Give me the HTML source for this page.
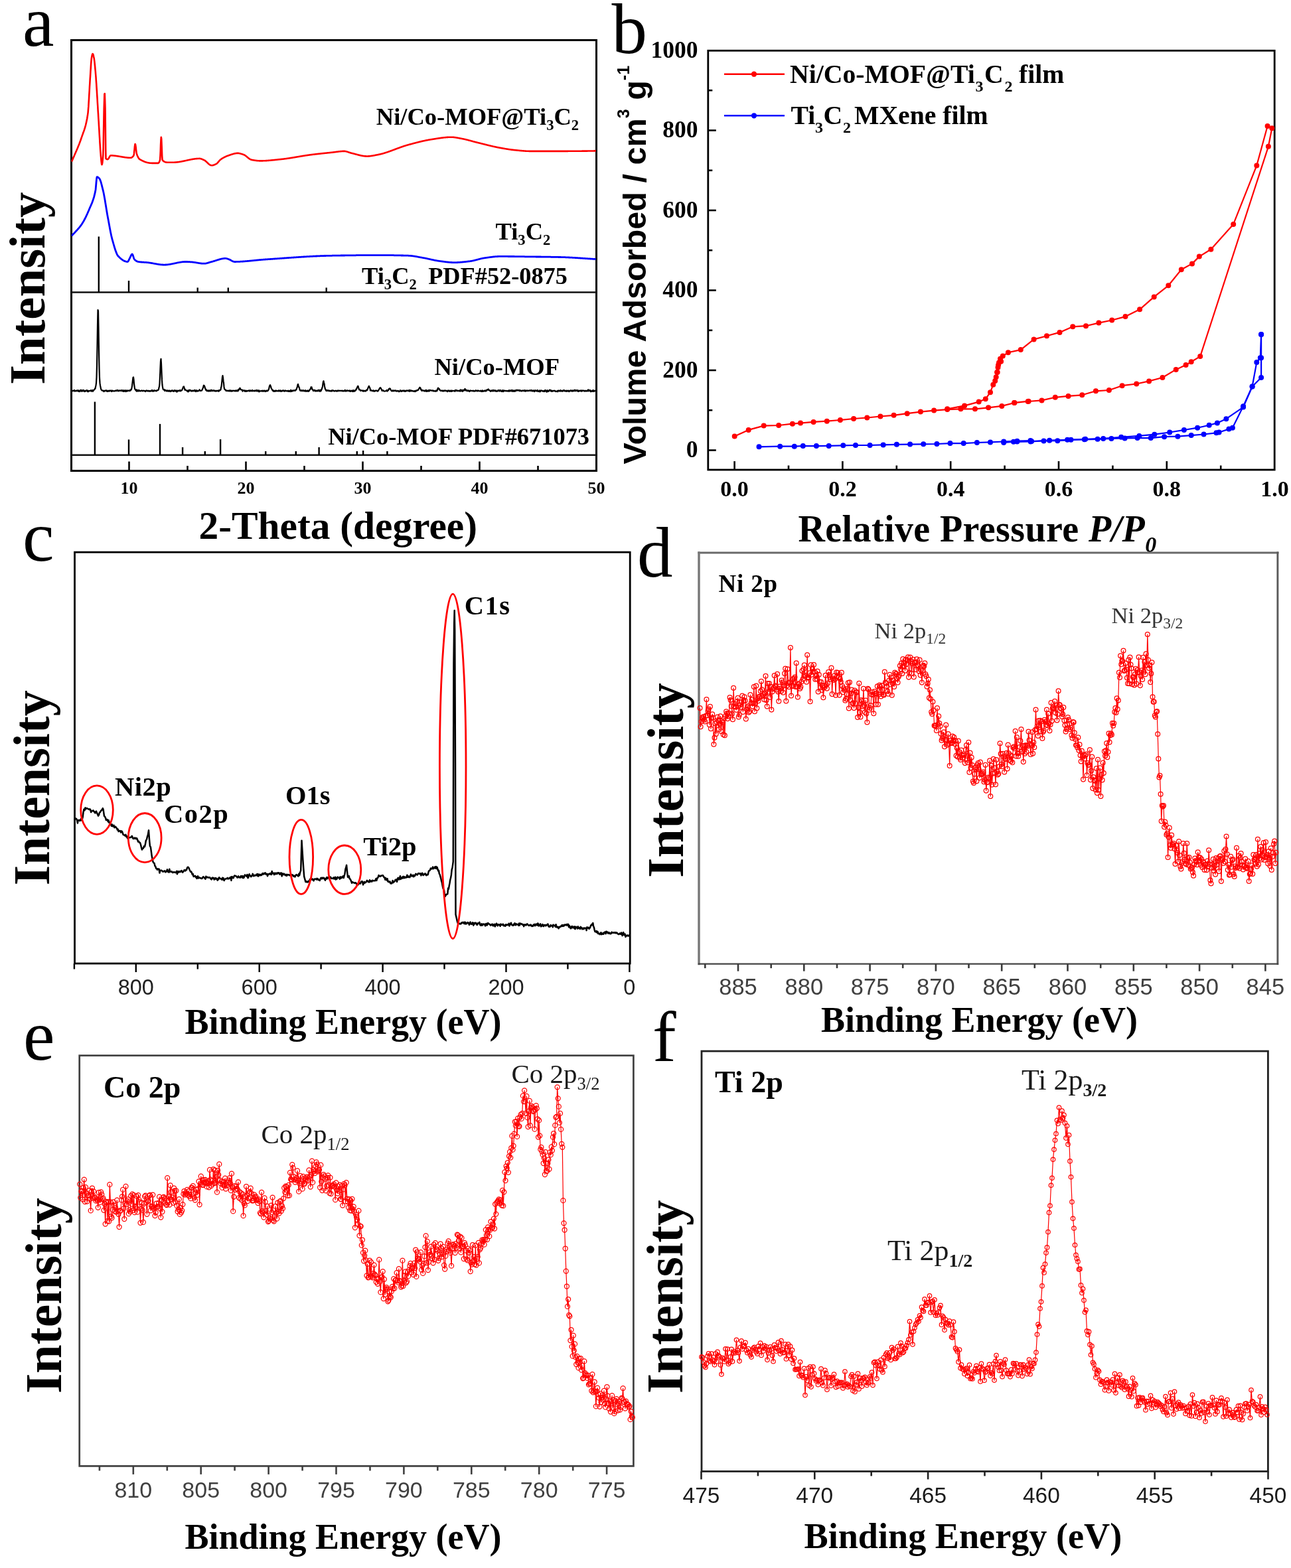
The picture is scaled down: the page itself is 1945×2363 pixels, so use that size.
<!DOCTYPE html>
<html><head><meta charset="utf-8"><title>Figure</title>
<style>html,body{margin:0;padding:0;background:#fff;}svg{display:block;}</style></head>
<body><svg width="1945" height="2363" viewBox="0 0 1945 2363">
<rect width="1945" height="2363" fill="#fff"/>
<text x="34.0" y="69.0" font-family="'Liberation Serif','Times New Roman',serif" font-size="107" font-weight="normal" text-anchor="start" fill="#000" >a</text>
<text x="921.5" y="80.0" font-family="'Liberation Serif','Times New Roman',serif" font-size="107" font-weight="normal" text-anchor="start" fill="#000" >b</text>
<text x="34.0" y="845.0" font-family="'Liberation Serif','Times New Roman',serif" font-size="107" font-weight="normal" text-anchor="start" fill="#000" >c</text>
<text x="960.0" y="869.0" font-family="'Liberation Serif','Times New Roman',serif" font-size="107" font-weight="normal" text-anchor="start" fill="#000" >d</text>
<text x="35.0" y="1597.0" font-family="'Liberation Serif','Times New Roman',serif" font-size="107" font-weight="normal" text-anchor="start" fill="#000" >e</text>
<text x="983.0" y="1599.0" font-family="'Liberation Serif','Times New Roman',serif" font-size="107" font-weight="normal" text-anchor="start" fill="#000" >f</text>
<rect x="107.5" y="60.5" width="791.0" height="649.0" fill="none" stroke="#000" stroke-width="3"/>
<line x1="107.5" y1="440.5" x2="898.5" y2="440.5" stroke="#111" stroke-width="2.4"/>
<line x1="107.5" y1="685.8" x2="898.5" y2="685.8" stroke="#111" stroke-width="2.4"/>
<line x1="194.5" y1="709.5" x2="194.5" y2="695.5" stroke="#000" stroke-width="2.6"/>
<line x1="282.5" y1="709.5" x2="282.5" y2="702.0" stroke="#000" stroke-width="2.6"/>
<line x1="370.5" y1="709.5" x2="370.5" y2="695.5" stroke="#000" stroke-width="2.6"/>
<line x1="458.5" y1="709.5" x2="458.5" y2="702.0" stroke="#000" stroke-width="2.6"/>
<line x1="546.5" y1="709.5" x2="546.5" y2="695.5" stroke="#000" stroke-width="2.6"/>
<line x1="634.5" y1="709.5" x2="634.5" y2="702.0" stroke="#000" stroke-width="2.6"/>
<line x1="722.5" y1="709.5" x2="722.5" y2="695.5" stroke="#000" stroke-width="2.6"/>
<line x1="810.5" y1="709.5" x2="810.5" y2="702.0" stroke="#000" stroke-width="2.6"/>
<text x="194.5" y="743.5" font-family="'Liberation Serif','Times New Roman',serif" font-size="26" font-weight="bold" text-anchor="middle" fill="#000" >10</text>
<text x="370.5" y="743.5" font-family="'Liberation Serif','Times New Roman',serif" font-size="26" font-weight="bold" text-anchor="middle" fill="#000" >20</text>
<text x="546.5" y="743.5" font-family="'Liberation Serif','Times New Roman',serif" font-size="26" font-weight="bold" text-anchor="middle" fill="#000" >30</text>
<text x="722.5" y="743.5" font-family="'Liberation Serif','Times New Roman',serif" font-size="26" font-weight="bold" text-anchor="middle" fill="#000" >40</text>
<text x="898.5" y="743.5" font-family="'Liberation Serif','Times New Roman',serif" font-size="26" font-weight="bold" text-anchor="middle" fill="#000" >50</text>
<text x="299.5" y="811.5" font-family="'Liberation Serif','Times New Roman',serif" font-size="59.4" font-weight="bold" text-anchor="start" fill="#000" >2-Theta (degree)</text>
<text transform="translate(66.7,579.8) rotate(-90)" font-family="'Liberation Serif','Times New Roman',serif" font-size="76.8" font-weight="bold" fill="#000" >Intensity</text>
<polyline points="108.1,243.5 108.4,242.7 108.8,241.8 109.1,241.0 109.5,240.2 109.8,239.3 110.2,238.5 110.5,237.7 110.9,236.9 111.2,236.1 111.6,235.3 111.9,234.5 112.3,233.7 112.6,232.9 113.0,232.1 113.3,231.3 113.7,230.5 114.0,229.7 114.4,228.9 114.7,228.1 115.1,227.3 115.4,226.5 115.8,225.7 116.1,224.9 116.5,224.0 116.8,223.2 117.2,222.4 117.5,221.5 117.9,220.7 118.2,219.8 118.6,218.9 118.9,218.1 119.3,217.2 119.6,216.3 120.0,215.3 120.3,214.4 120.7,213.5 121.0,212.5 121.4,211.6 121.7,210.6 122.1,209.6 122.4,208.5 122.8,207.5 123.1,206.5 123.5,205.4 123.8,204.4 124.2,203.4 124.5,202.5 124.9,201.5 125.2,200.6 125.6,199.6 125.9,198.7 126.3,197.7 126.6,196.7 127.0,195.7 127.3,194.6 127.7,193.5 128.0,192.4 128.4,191.2 128.7,189.9 129.1,188.6 129.4,187.1 129.8,185.7 130.1,184.1 130.5,182.4 130.8,180.6 131.2,178.8 131.5,176.8 131.9,174.6 132.2,172.4 132.6,169.6 132.9,165.7 133.3,160.9 133.6,155.4 134.0,149.4 134.3,143.2 134.7,136.8 135.0,130.5 135.4,124.6 135.7,119.1 136.1,113.7 136.4,107.9 136.8,102.0 137.1,96.6 137.5,91.8 137.8,88.3 138.2,86.1 138.5,84.3 138.9,82.7 139.2,81.6 139.6,81.1 139.9,81.3 140.3,82.0 140.6,83.2 141.0,84.6 141.3,86.1 141.7,87.8 142.0,90.1 142.4,93.0 142.7,96.2 143.1,99.8 143.4,103.6 143.8,107.4 144.1,111.5 144.5,116.0 144.8,120.8 145.2,126.0 145.5,131.4 145.9,137.0 146.2,142.8 146.6,148.7 146.9,154.6 147.3,160.5 147.6,166.4 148.0,172.2 148.3,177.9 148.7,183.5 149.0,189.5 149.4,195.6 149.7,201.8 150.1,208.0 150.4,214.0 150.8,219.7 151.1,225.0 151.5,229.8 151.8,234.0 152.2,238.0 152.5,242.0 152.9,245.4 153.2,247.6 153.6,248.1 153.9,247.2 154.3,245.2 154.6,242.3 155.0,238.6 155.3,234.1 155.7,222.2 156.0,202.0 156.4,180.3 156.7,164.1 157.1,151.2 157.4,141.6 157.8,141.0 158.1,149.4 158.5,162.7 158.8,187.9 159.2,224.7 159.5,239.0 159.9,239.3 160.2,239.6 160.6,239.7 160.9,239.9 161.3,240.0 161.6,240.1 162.0,240.1 162.3,240.1 162.7,239.9 163.0,239.6 163.4,239.2 163.7,238.7 164.1,238.0 164.4,237.4 164.8,236.7 165.1,236.1 165.5,235.5 165.8,235.0 166.2,234.6 166.5,234.4 166.9,234.3 167.2,234.3 167.6,234.3 167.9,234.3 168.3,234.4 168.6,234.4 169.0,234.4 169.3,234.4 169.7,234.4 170.0,234.4 170.4,234.5 170.7,234.5 171.1,234.5 171.4,234.6 171.8,234.6 172.1,234.6 172.5,234.7 172.8,234.7 173.2,234.7 173.5,234.8 173.9,234.8 174.2,234.9 174.6,234.9 174.9,235.0 175.3,235.0 175.6,235.1 176.0,235.1 176.3,235.2 176.7,235.2 177.0,235.3 177.4,235.3 177.7,235.4 178.1,235.4 178.4,235.5 178.8,235.5 179.1,235.6 179.5,235.7 179.8,235.7 180.2,235.8 180.5,235.8 180.9,235.9 181.2,236.0 181.6,236.0 181.9,236.1 182.3,236.1 182.6,236.2 183.0,236.3 183.3,236.3 183.7,236.4 184.0,236.4 184.4,236.5 184.7,236.6 185.1,236.6 185.4,236.7 185.8,236.7 186.1,236.8 186.5,236.8 186.8,236.9 187.2,236.9 187.5,237.0 187.9,237.1 188.2,237.1 188.6,237.2 188.9,237.2 189.3,237.2 189.6,237.3 190.0,237.3 190.3,237.4 190.7,237.4 191.0,237.5 191.4,237.5 191.7,237.5 192.1,237.6 192.4,237.6 192.8,237.6 193.1,237.6 193.5,237.7 193.8,237.7 194.2,237.7 194.5,237.7 194.9,237.7 195.2,237.8 195.6,237.8 195.9,237.8 196.3,237.8 196.6,237.8 197.0,237.8 197.3,237.7 197.7,237.7 198.0,237.5 198.4,237.4 198.7,237.2 199.1,236.9 199.4,236.7 199.8,236.3 200.1,236.0 200.5,235.6 200.8,235.1 201.2,234.7 201.5,234.0 201.9,231.9 202.2,228.7 202.6,224.9 202.9,221.3 203.3,218.5 203.6,217.1 204.0,217.6 204.3,219.4 204.7,222.1 205.0,225.3 205.4,228.3 205.7,230.8 206.1,232.2 206.4,233.2 206.8,234.1 207.1,235.0 207.5,235.8 207.8,236.5 208.2,237.2 208.5,237.8 208.9,238.3 209.2,238.8 209.6,239.2 209.9,239.6 210.3,239.9 210.6,240.1 211.0,240.3 211.3,240.5 211.7,240.7 212.0,240.9 212.4,241.1 212.7,241.3 213.1,241.5 213.4,241.7 213.8,241.9 214.1,242.1 214.5,242.2 214.8,242.4 215.2,242.6 215.5,242.7 215.9,242.9 216.2,243.0 216.6,243.2 216.9,243.3 217.3,243.5 217.6,243.6 218.0,243.8 218.3,243.9 218.7,244.0 219.0,244.1 219.4,244.2 219.7,244.4 220.1,244.5 220.4,244.6 220.8,244.7 221.1,244.8 221.5,244.9 221.8,245.0 222.2,245.0 222.5,245.1 222.9,245.2 223.2,245.3 223.6,245.3 223.9,245.4 224.3,245.5 224.6,245.5 225.0,245.6 225.3,245.6 225.7,245.7 226.0,245.7 226.4,245.7 226.7,245.8 227.1,245.8 227.4,245.8 227.8,245.8 228.1,245.8 228.5,245.8 228.8,245.9 229.2,245.9 229.5,245.9 229.9,245.9 230.2,245.9 230.6,245.9 230.9,245.9 231.3,245.9 231.6,245.9 232.0,245.9 232.3,245.9 232.7,245.9 233.0,245.9 233.4,245.9 233.7,245.9 234.1,245.9 234.4,245.9 234.8,245.9 235.1,245.9 235.5,245.9 235.8,245.9 236.2,245.9 236.5,245.9 236.9,245.9 237.2,245.9 237.6,245.9 237.9,245.9 238.3,245.9 238.6,245.8 239.0,245.5 239.3,245.1 239.7,244.6 240.0,243.9 240.4,243.1 240.7,242.2 241.1,241.0 241.4,236.3 241.8,227.9 242.1,218.4 242.5,210.5 242.8,206.7 243.2,209.2 243.5,216.6 243.9,226.1 244.2,235.0 244.6,240.6 244.9,241.5 245.3,241.8 245.6,242.2 246.0,242.5 246.3,242.8 246.7,243.0 247.0,243.3 247.4,243.5 247.7,243.7 248.1,243.9 248.4,244.0 248.8,244.2 249.1,244.3 249.5,244.4 249.8,244.5 250.2,244.5 250.5,244.6 250.9,244.6 251.2,244.7 251.6,244.7 251.9,244.7 252.3,244.7 252.6,244.7 253.0,244.7 253.3,244.7 253.7,244.7 254.0,244.7 254.4,244.7 254.7,244.7 255.1,244.7 255.4,244.7 255.8,244.7 256.1,244.7 256.5,244.7 256.8,244.7 257.2,244.7 257.5,244.7 257.9,244.7 258.2,244.7 258.6,244.7 258.9,244.7 259.3,244.7 259.6,244.7 260.0,244.7 260.3,244.7 260.7,244.7 261.0,244.7 261.4,244.7 261.7,244.7 262.1,244.7 262.4,244.7 262.8,244.7 263.1,244.7 263.5,244.6 263.8,244.6 264.2,244.6 264.5,244.6 264.9,244.6 265.2,244.5 265.6,244.5 265.9,244.5 266.3,244.4 266.6,244.4 267.0,244.4 267.3,244.3 267.7,244.3 268.0,244.2 268.4,244.2 268.7,244.2 269.1,244.1 269.4,244.1 269.8,244.0 270.1,244.0 270.5,243.9 270.8,243.8 271.2,243.8 271.5,243.7 271.9,243.7 272.2,243.6 272.6,243.5 272.9,243.5 273.3,243.4 273.6,243.3 274.0,243.3 274.3,243.2 274.7,243.1 275.0,243.1 275.4,243.0 275.7,242.9 276.1,242.9 276.4,242.8 276.8,242.7 277.1,242.6 277.5,242.6 277.8,242.5 278.2,242.4 278.5,242.3 278.9,242.3 279.2,242.2 279.6,242.1 279.9,242.0 280.3,242.0 280.6,241.9 281.0,241.8 281.3,241.7 281.7,241.6 282.0,241.6 282.4,241.5 282.7,241.4 283.1,241.3 283.4,241.3 283.8,241.2 284.1,241.1 284.5,241.0 284.8,241.0 285.2,240.9 285.5,240.8 285.9,240.7 286.2,240.7 286.6,240.6 286.9,240.5 287.3,240.5 287.6,240.4 288.0,240.3 288.3,240.3 288.7,240.2 289.0,240.1 289.4,240.1 289.7,240.0 290.1,239.9 290.4,239.9 290.8,239.8 291.1,239.8 291.5,239.7 291.8,239.7 292.2,239.6 292.5,239.6 292.9,239.5 293.2,239.5 293.6,239.4 293.9,239.4 294.3,239.3 294.6,239.3 295.0,239.2 295.3,239.2 295.7,239.2 296.0,239.1 296.4,239.1 296.7,239.1 297.1,239.1 297.4,239.0 297.8,239.0 298.1,239.0 298.5,239.0 298.8,239.0 299.2,239.0 299.5,239.0 299.9,238.9 300.2,238.9 300.6,238.9 300.9,239.0 301.3,239.0 301.6,239.0 302.0,239.1 302.3,239.2 302.7,239.3 303.0,239.4 303.4,239.5 303.7,239.6 304.1,239.8 304.4,239.9 304.8,240.1 305.1,240.2 305.5,240.4 305.8,240.5 306.2,240.7 306.5,240.9 306.9,241.0 307.2,241.2 307.6,241.3 307.9,241.5 308.3,241.7 308.6,241.9 309.0,242.2 309.3,242.4 309.7,242.7 310.0,243.0 310.4,243.3 310.7,243.6 311.1,243.9 311.4,244.3 311.8,244.6 312.1,244.9 312.5,245.3 312.8,245.6 313.2,245.9 313.5,246.3 313.9,246.6 314.2,246.9 314.6,247.2 314.9,247.5 315.3,247.8 315.6,248.0 316.0,248.3 316.3,248.5 316.7,248.7 317.0,248.8 317.4,249.0 317.7,249.1 318.1,249.2 318.4,249.3 318.8,249.3 319.1,249.3 319.5,249.3 319.8,249.3 320.2,249.2 320.5,249.1 320.9,249.1 321.2,249.0 321.6,248.9 321.9,248.7 322.3,248.6 322.6,248.5 323.0,248.3 323.3,248.2 323.7,248.0 324.0,247.9 324.4,247.7 324.7,247.5 325.1,247.4 325.4,247.2 325.8,247.0 326.1,246.8 326.5,246.6 326.8,246.3 327.2,246.0 327.5,245.7 327.9,245.3 328.2,244.9 328.6,244.5 328.9,244.1 329.3,243.7 329.6,243.3 330.0,242.9 330.3,242.4 330.7,242.0 331.0,241.7 331.4,241.3 331.7,240.9 332.1,240.6 332.4,240.3 332.8,240.1 333.1,239.8 333.5,239.6 333.8,239.4 334.2,239.1 334.5,238.9 334.9,238.7 335.2,238.5 335.6,238.3 335.9,238.1 336.3,237.9 336.6,237.7 337.0,237.5 337.3,237.3 337.7,237.1 338.0,236.9 338.4,236.8 338.7,236.6 339.1,236.4 339.4,236.3 339.8,236.1 340.1,235.9 340.5,235.8 340.8,235.6 341.2,235.5 341.5,235.3 341.9,235.2 342.2,235.1 342.6,234.9 342.9,234.8 343.3,234.7 343.6,234.5 344.0,234.4 344.3,234.3 344.7,234.2 345.0,234.1 345.4,233.9 345.7,233.8 346.1,233.7 346.4,233.6 346.8,233.5 347.1,233.3 347.5,233.2 347.8,233.1 348.2,233.0 348.5,232.9 348.9,232.7 349.2,232.6 349.6,232.5 349.9,232.4 350.3,232.3 350.6,232.2 351.0,232.1 351.3,232.0 351.7,231.9 352.0,231.8 352.4,231.7 352.7,231.6 353.1,231.5 353.4,231.4 353.8,231.4 354.1,231.3 354.5,231.2 354.8,231.2 355.2,231.1 355.5,231.1 355.9,231.0 356.2,231.0 356.6,230.9 356.9,230.9 357.3,230.9 357.6,230.9 358.0,230.9 358.3,230.9 358.7,230.9 359.0,230.9 359.4,230.9 359.7,231.0 360.1,231.0 360.4,231.1 360.8,231.2 361.1,231.2 361.5,231.3 361.8,231.4 362.2,231.5 362.5,231.6 362.9,231.7 363.2,231.8 363.6,231.9 363.9,232.0 364.3,232.1 364.6,232.2 365.0,232.4 365.3,232.5 365.7,232.6 366.0,232.7 366.4,232.9 366.7,233.0 367.1,233.1 367.4,233.2 367.8,233.4 368.1,233.5 368.5,233.7 368.8,233.9 369.2,234.1 369.5,234.4 369.9,234.6 370.2,234.9 370.6,235.1 370.9,235.4 371.3,235.7 371.6,236.0 372.0,236.3 372.3,236.6 372.7,236.9 373.0,237.2 373.4,237.5 373.7,237.8 374.1,238.1 374.4,238.3 374.8,238.6 375.1,238.9 375.5,239.1 375.8,239.4 376.2,239.6 376.5,239.8 376.9,240.0 377.2,240.2 377.6,240.4 377.9,240.5 378.3,240.6 378.6,240.7 379.0,240.8 379.3,240.9 379.7,241.0 380.0,241.0 380.4,241.1 380.7,241.2 381.1,241.2 381.4,241.3 381.8,241.3 382.1,241.4 382.5,241.5 382.8,241.5 383.2,241.6 383.5,241.6 383.9,241.7 384.2,241.7 384.6,241.8 384.9,241.8 385.3,241.9 385.6,241.9 386.0,242.0 386.3,242.0 386.7,242.1 387.0,242.1 387.4,242.1 387.7,242.2 388.1,242.2 388.4,242.2 388.8,242.2 389.1,242.3 389.5,242.3 389.8,242.3 390.2,242.3 390.5,242.4 390.9,242.4 391.2,242.4 391.6,242.4 391.9,242.4 392.3,242.4 392.6,242.4 393.0,242.4 393.3,242.4 393.7,242.4 394.0,242.4 394.4,242.4 394.7,242.4 395.1,242.4 395.4,242.4 395.8,242.4 396.1,242.3 396.5,242.3 396.8,242.3 397.2,242.3 397.5,242.3 397.9,242.3 398.2,242.3 398.6,242.3 398.9,242.2 399.3,242.2 399.6,242.2 400.0,242.2 400.3,242.2 400.7,242.1 401.0,242.1 401.4,242.1 401.7,242.1 402.1,242.1 402.4,242.0 402.8,242.0 403.1,242.0 403.5,242.0 403.8,241.9 404.2,241.9 404.5,241.9 404.9,241.9 405.2,241.8 405.6,241.8 405.9,241.8 406.3,241.7 406.6,241.7 407.0,241.7 407.3,241.6 407.7,241.6 408.0,241.6 408.4,241.5 408.7,241.5 409.1,241.5 409.4,241.4 409.8,241.4 410.1,241.4 410.5,241.3 410.8,241.3 411.2,241.3 411.5,241.2 411.9,241.2 412.2,241.2 412.6,241.1 412.9,241.1 413.3,241.1 413.6,241.0 414.0,241.0 414.3,241.0 414.7,240.9 415.0,240.9 415.4,240.8 415.7,240.8 416.1,240.8 416.4,240.7 416.8,240.7 417.1,240.7 417.5,240.6 417.8,240.6 418.2,240.5 418.5,240.5 418.9,240.5 419.2,240.4 419.6,240.4 419.9,240.4 420.3,240.3 420.6,240.3 421.0,240.3 421.3,240.2 421.7,240.2 422.0,240.1 422.4,240.1 422.7,240.1 423.1,240.0 423.4,240.0 423.8,240.0 424.1,239.9 424.5,239.9 424.8,239.9 425.2,239.8 425.5,239.8 425.9,239.7 426.2,239.7 426.6,239.7 426.9,239.6 427.3,239.6 427.6,239.5 428.0,239.5 428.3,239.4 428.7,239.4 429.0,239.3 429.4,239.3 429.7,239.3 430.1,239.2 430.4,239.2 430.8,239.1 431.1,239.1 431.5,239.0 431.8,239.0 432.2,238.9 432.5,238.9 432.9,238.8 433.2,238.8 433.6,238.7 433.9,238.7 434.3,238.6 434.6,238.6 435.0,238.5 435.3,238.5 435.7,238.4 436.0,238.4 436.4,238.3 436.7,238.2 437.1,238.2 437.4,238.1 437.8,238.1 438.1,238.0 438.5,238.0 438.8,237.9 439.2,237.9 439.5,237.8 439.9,237.7 440.2,237.7 440.6,237.6 440.9,237.6 441.3,237.5 441.6,237.5 442.0,237.4 442.3,237.3 442.7,237.3 443.0,237.2 443.4,237.2 443.7,237.1 444.1,237.1 444.4,237.0 444.8,236.9 445.1,236.9 445.5,236.8 445.8,236.8 446.2,236.7 446.5,236.6 446.9,236.6 447.2,236.5 447.6,236.5 447.9,236.4 448.3,236.3 448.6,236.3 449.0,236.2 449.3,236.2 449.7,236.1 450.0,236.0 450.4,236.0 450.7,235.9 451.1,235.9 451.4,235.8 451.8,235.7 452.1,235.7 452.5,235.6 452.8,235.6 453.2,235.5 453.5,235.5 453.9,235.4 454.2,235.3 454.6,235.3 454.9,235.2 455.3,235.2 455.6,235.1 456.0,235.1 456.3,235.0 456.7,234.9 457.0,234.9 457.4,234.8 457.7,234.8 458.1,234.7 458.4,234.7 458.8,234.6 459.1,234.5 459.5,234.5 459.8,234.4 460.2,234.4 460.5,234.3 460.9,234.3 461.2,234.2 461.6,234.2 461.9,234.1 462.3,234.1 462.6,234.0 463.0,234.0 463.3,233.9 463.7,233.9 464.0,233.8 464.4,233.8 464.7,233.7 465.1,233.7 465.4,233.6 465.8,233.6 466.1,233.5 466.5,233.5 466.8,233.4 467.2,233.4 467.5,233.3 467.9,233.3 468.2,233.2 468.6,233.2 468.9,233.1 469.3,233.1 469.6,233.1 470.0,233.0 470.3,233.0 470.7,232.9 471.0,232.9 471.4,232.8 471.7,232.8 472.1,232.8 472.4,232.7 472.8,232.7 473.1,232.6 473.5,232.6 473.8,232.6 474.2,232.5 474.5,232.5 474.9,232.4 475.2,232.4 475.6,232.3 475.9,232.3 476.3,232.3 476.6,232.2 477.0,232.2 477.3,232.1 477.7,232.1 478.0,232.1 478.4,232.0 478.7,232.0 479.1,231.9 479.4,231.9 479.8,231.9 480.1,231.8 480.5,231.8 480.8,231.8 481.2,231.7 481.5,231.7 481.9,231.6 482.2,231.6 482.6,231.6 482.9,231.5 483.3,231.5 483.6,231.4 484.0,231.4 484.3,231.4 484.7,231.3 485.0,231.3 485.4,231.3 485.7,231.2 486.1,231.2 486.4,231.1 486.8,231.1 487.1,231.1 487.5,231.0 487.8,231.0 488.2,231.0 488.5,230.9 488.9,230.9 489.2,230.8 489.6,230.8 489.9,230.8 490.3,230.7 490.6,230.7 491.0,230.7 491.3,230.6 491.7,230.6 492.0,230.6 492.4,230.5 492.7,230.5 493.1,230.4 493.4,230.4 493.8,230.4 494.1,230.3 494.5,230.3 494.8,230.3 495.2,230.2 495.5,230.2 495.9,230.2 496.2,230.1 496.6,230.1 496.9,230.0 497.3,230.0 497.6,230.0 498.0,229.9 498.3,229.9 498.7,229.9 499.0,229.8 499.4,229.8 499.7,229.8 500.1,229.7 500.4,229.7 500.8,229.6 501.1,229.6 501.5,229.6 501.8,229.5 502.2,229.5 502.5,229.4 502.9,229.4 503.2,229.3 503.6,229.3 503.9,229.3 504.3,229.2 504.6,229.2 505.0,229.1 505.3,229.1 505.7,229.0 506.0,229.0 506.4,228.9 506.7,228.9 507.1,228.8 507.4,228.8 507.8,228.7 508.1,228.7 508.5,228.7 508.8,228.6 509.2,228.6 509.5,228.5 509.9,228.5 510.2,228.4 510.6,228.4 510.9,228.4 511.3,228.3 511.6,228.3 512.0,228.2 512.3,228.2 512.7,228.2 513.0,228.1 513.4,228.1 513.7,228.1 514.1,228.1 514.4,228.0 514.8,228.0 515.1,228.0 515.5,228.0 515.8,227.9 516.2,227.9 516.5,227.9 516.9,227.9 517.2,227.9 517.6,227.9 517.9,227.9 518.3,227.9 518.6,227.9 519.0,227.9 519.3,227.9 519.7,227.9 520.0,228.0 520.4,228.0 520.7,228.1 521.1,228.2 521.4,228.2 521.8,228.3 522.1,228.4 522.5,228.5 522.8,228.6 523.2,228.7 523.5,228.8 523.9,228.9 524.2,229.1 524.6,229.2 524.9,229.3 525.3,229.4 525.6,229.5 526.0,229.7 526.3,229.8 526.7,229.9 527.0,230.0 527.4,230.1 527.7,230.2 528.1,230.4 528.4,230.5 528.8,230.6 529.1,230.7 529.5,230.8 529.8,230.8 530.2,230.9 530.5,231.0 530.9,231.1 531.2,231.2 531.6,231.3 531.9,231.3 532.3,231.4 532.6,231.5 533.0,231.6 533.3,231.7 533.7,231.8 534.0,231.9 534.4,232.0 534.7,232.1 535.1,232.2 535.4,232.3 535.8,232.4 536.1,232.4 536.5,232.5 536.8,232.6 537.2,232.7 537.5,232.8 537.9,232.9 538.2,233.0 538.6,233.1 538.9,233.2 539.3,233.3 539.6,233.4 540.0,233.5 540.3,233.6 540.7,233.6 541.0,233.7 541.4,233.8 541.7,233.9 542.1,234.0 542.4,234.1 542.8,234.1 543.1,234.2 543.5,234.3 543.8,234.4 544.2,234.5 544.5,234.5 544.9,234.6 545.2,234.7 545.6,234.7 545.9,234.8 546.3,234.9 546.6,234.9 547.0,235.0 547.3,235.0 547.7,235.1 548.0,235.1 548.4,235.2 548.7,235.2 549.1,235.3 549.4,235.3 549.8,235.3 550.1,235.4 550.5,235.4 550.8,235.4 551.2,235.4 551.5,235.4 551.9,235.5 552.2,235.5 552.6,235.5 552.9,235.5 553.3,235.5 553.6,235.5 554.0,235.5 554.3,235.5 554.7,235.4 555.0,235.4 555.4,235.4 555.7,235.4 556.1,235.4 556.4,235.3 556.8,235.3 557.1,235.3 557.5,235.2 557.8,235.2 558.2,235.1 558.5,235.1 558.9,235.0 559.2,235.0 559.6,234.9 559.9,234.9 560.3,234.8 560.6,234.8 561.0,234.7 561.3,234.7 561.7,234.6 562.0,234.5 562.4,234.5 562.7,234.4 563.1,234.4 563.4,234.3 563.8,234.2 564.1,234.2 564.5,234.1 564.8,234.0 565.2,233.9 565.5,233.9 565.9,233.8 566.2,233.7 566.6,233.7 566.9,233.6 567.3,233.5 567.6,233.5 568.0,233.4 568.3,233.3 568.7,233.3 569.0,233.2 569.4,233.1 569.7,233.1 570.1,233.0 570.4,232.9 570.8,232.9 571.1,232.8 571.5,232.7 571.8,232.6 572.2,232.5 572.5,232.5 572.9,232.4 573.2,232.3 573.6,232.2 573.9,232.1 574.3,232.0 574.6,232.0 575.0,231.9 575.3,231.8 575.7,231.7 576.0,231.6 576.4,231.5 576.7,231.4 577.1,231.3 577.4,231.2 577.8,231.1 578.1,231.0 578.5,230.9 578.8,230.8 579.2,230.7 579.5,230.6 579.9,230.5 580.2,230.3 580.6,230.2 580.9,230.1 581.3,230.0 581.6,229.9 582.0,229.8 582.3,229.7 582.7,229.6 583.0,229.4 583.4,229.3 583.7,229.2 584.1,229.1 584.4,229.0 584.8,228.8 585.1,228.7 585.5,228.6 585.8,228.5 586.2,228.4 586.5,228.2 586.9,228.1 587.2,228.0 587.6,227.9 587.9,227.7 588.3,227.6 588.6,227.5 589.0,227.4 589.3,227.2 589.7,227.1 590.0,227.0 590.4,226.8 590.7,226.7 591.1,226.6 591.4,226.4 591.8,226.3 592.1,226.2 592.5,226.1 592.8,225.9 593.2,225.8 593.5,225.7 593.9,225.5 594.2,225.4 594.6,225.3 594.9,225.1 595.3,225.0 595.6,224.9 596.0,224.7 596.3,224.6 596.7,224.5 597.0,224.3 597.4,224.2 597.7,224.1 598.1,224.0 598.4,223.8 598.8,223.7 599.1,223.6 599.5,223.4 599.8,223.3 600.2,223.2 600.5,223.0 600.9,222.9 601.2,222.8 601.6,222.7 601.9,222.5 602.3,222.4 602.6,222.3 603.0,222.1 603.3,222.0 603.7,221.9 604.0,221.8 604.4,221.6 604.7,221.5 605.1,221.4 605.4,221.3 605.8,221.2 606.1,221.0 606.5,220.9 606.8,220.8 607.2,220.7 607.5,220.6 607.9,220.4 608.2,220.3 608.6,220.2 608.9,220.1 609.3,220.0 609.6,219.9 610.0,219.8 610.3,219.6 610.7,219.5 611.0,219.4 611.4,219.3 611.7,219.2 612.1,219.1 612.4,219.0 612.8,218.9 613.1,218.8 613.5,218.7 613.8,218.6 614.2,218.5 614.5,218.4 614.9,218.3 615.2,218.2 615.6,218.1 615.9,218.0 616.3,217.9 616.6,217.8 617.0,217.7 617.3,217.6 617.7,217.5 618.0,217.4 618.4,217.4 618.7,217.3 619.1,217.2 619.4,217.1 619.8,217.0 620.1,216.9 620.5,216.8 620.8,216.7 621.2,216.6 621.5,216.5 621.9,216.4 622.2,216.3 622.6,216.2 622.9,216.1 623.3,216.0 623.6,215.9 624.0,215.8 624.3,215.8 624.7,215.7 625.0,215.6 625.4,215.5 625.7,215.4 626.1,215.3 626.4,215.2 626.8,215.1 627.1,215.0 627.5,214.9 627.8,214.8 628.2,214.8 628.5,214.7 628.9,214.6 629.2,214.5 629.6,214.4 629.9,214.3 630.3,214.2 630.6,214.1 631.0,214.0 631.3,214.0 631.7,213.9 632.0,213.8 632.4,213.7 632.7,213.6 633.1,213.5 633.4,213.4 633.8,213.4 634.1,213.3 634.5,213.2 634.8,213.1 635.2,213.0 635.5,212.9 635.9,212.9 636.2,212.8 636.6,212.7 636.9,212.6 637.3,212.5 637.6,212.5 638.0,212.4 638.3,212.3 638.7,212.2 639.0,212.2 639.4,212.1 639.7,212.0 640.1,211.9 640.4,211.9 640.8,211.8 641.1,211.7 641.5,211.6 641.8,211.6 642.2,211.5 642.5,211.4 642.9,211.4 643.2,211.3 643.6,211.2 643.9,211.2 644.3,211.1 644.6,211.0 645.0,211.0 645.3,210.9 645.7,210.8 646.0,210.8 646.4,210.7 646.7,210.6 647.1,210.6 647.4,210.5 647.8,210.5 648.1,210.4 648.5,210.3 648.8,210.3 649.2,210.2 649.5,210.2 649.9,210.1 650.2,210.1 650.6,210.0 650.9,210.0 651.3,209.9 651.6,209.9 652.0,209.8 652.3,209.7 652.7,209.7 653.0,209.6 653.4,209.6 653.7,209.5 654.1,209.5 654.4,209.4 654.8,209.4 655.1,209.3 655.5,209.2 655.8,209.2 656.2,209.1 656.5,209.1 656.9,209.0 657.2,209.0 657.6,208.9 657.9,208.8 658.3,208.8 658.6,208.7 659.0,208.7 659.3,208.6 659.7,208.6 660.0,208.5 660.4,208.5 660.7,208.4 661.1,208.4 661.4,208.3 661.8,208.3 662.1,208.2 662.5,208.2 662.8,208.1 663.2,208.1 663.5,208.0 663.9,208.0 664.2,207.9 664.6,207.9 664.9,207.8 665.3,207.8 665.6,207.7 666.0,207.7 666.3,207.6 666.7,207.6 667.0,207.5 667.4,207.5 667.7,207.5 668.1,207.4 668.4,207.4 668.8,207.3 669.1,207.3 669.5,207.3 669.8,207.2 670.2,207.2 670.5,207.2 670.9,207.1 671.2,207.1 671.6,207.1 671.9,207.0 672.3,207.0 672.6,207.0 673.0,206.9 673.3,206.9 673.7,206.9 674.0,206.9 674.4,206.9 674.7,206.8 675.1,206.8 675.4,206.8 675.8,206.8 676.1,206.8 676.5,206.7 676.8,206.7 677.2,206.7 677.5,206.7 677.9,206.7 678.2,206.7 678.6,206.7 678.9,206.7 679.3,206.7 679.6,206.7 680.0,206.7 680.3,206.7 680.7,206.7 681.0,206.7 681.4,206.7 681.7,206.7 682.1,206.8 682.4,206.8 682.8,206.8 683.1,206.8 683.5,206.9 683.8,206.9 684.2,207.0 684.5,207.0 684.9,207.0 685.2,207.1 685.6,207.1 685.9,207.2 686.3,207.2 686.6,207.3 687.0,207.3 687.3,207.4 687.7,207.5 688.0,207.5 688.4,207.6 688.7,207.6 689.1,207.7 689.4,207.8 689.8,207.8 690.1,207.9 690.5,208.0 690.8,208.0 691.2,208.1 691.5,208.2 691.9,208.2 692.2,208.3 692.6,208.4 692.9,208.4 693.3,208.5 693.6,208.6 694.0,208.6 694.3,208.7 694.7,208.8 695.0,208.8 695.4,208.9 695.7,209.0 696.1,209.0 696.4,209.1 696.8,209.2 697.1,209.2 697.5,209.3 697.8,209.4 698.2,209.4 698.5,209.5 698.9,209.6 699.2,209.7 699.6,209.7 699.9,209.8 700.3,209.9 700.6,210.0 701.0,210.1 701.3,210.1 701.7,210.2 702.0,210.3 702.4,210.4 702.7,210.5 703.1,210.6 703.4,210.6 703.8,210.7 704.1,210.8 704.5,210.9 704.8,211.0 705.2,211.1 705.5,211.2 705.9,211.3 706.2,211.4 706.6,211.5 706.9,211.6 707.3,211.7 707.6,211.8 708.0,211.8 708.3,211.9 708.7,212.0 709.0,212.1 709.4,212.2 709.7,212.3 710.1,212.4 710.4,212.5 710.8,212.6 711.1,212.7 711.5,212.8 711.8,212.9 712.2,213.0 712.5,213.1 712.9,213.2 713.2,213.3 713.6,213.4 713.9,213.5 714.3,213.6 714.6,213.7 715.0,213.7 715.3,213.8 715.7,213.9 716.0,214.0 716.4,214.1 716.7,214.2 717.1,214.3 717.4,214.4 717.8,214.5 718.1,214.6 718.5,214.6 718.8,214.7 719.2,214.8 719.5,214.9 719.9,215.0 720.2,215.1 720.6,215.2 720.9,215.2 721.3,215.3 721.6,215.4 722.0,215.5 722.3,215.6 722.7,215.7 723.0,215.8 723.4,215.8 723.7,215.9 724.1,216.0 724.4,216.1 724.8,216.2 725.1,216.3 725.5,216.4 725.8,216.5 726.2,216.5 726.5,216.6 726.9,216.7 727.2,216.8 727.6,216.9 727.9,217.0 728.3,217.1 728.6,217.2 729.0,217.3 729.3,217.3 729.7,217.4 730.0,217.5 730.4,217.6 730.7,217.7 731.1,217.8 731.4,217.9 731.8,218.0 732.1,218.0 732.5,218.1 732.8,218.2 733.2,218.3 733.5,218.4 733.9,218.5 734.2,218.6 734.6,218.7 734.9,218.7 735.3,218.8 735.6,218.9 736.0,219.0 736.3,219.1 736.7,219.2 737.0,219.3 737.4,219.3 737.7,219.4 738.1,219.5 738.4,219.6 738.8,219.7 739.1,219.8 739.5,219.8 739.8,219.9 740.2,220.0 740.5,220.1 740.9,220.2 741.2,220.3 741.6,220.3 741.9,220.4 742.3,220.5 742.6,220.6 743.0,220.7 743.3,220.7 743.7,220.8 744.0,220.9 744.4,221.0 744.7,221.0 745.1,221.1 745.4,221.2 745.8,221.3 746.1,221.4 746.5,221.4 746.8,221.5 747.2,221.6 747.5,221.6 747.9,221.7 748.2,221.8 748.6,221.9 748.9,221.9 749.3,222.0 749.6,222.1 750.0,222.1 750.3,222.2 750.7,222.3 751.0,222.4 751.4,222.4 751.7,222.5 752.1,222.6 752.4,222.6 752.8,222.7 753.1,222.7 753.5,222.8 753.8,222.9 754.2,222.9 754.5,223.0 754.9,223.1 755.2,223.1 755.6,223.2 755.9,223.3 756.3,223.3 756.6,223.4 757.0,223.4 757.3,223.5 757.7,223.6 758.0,223.6 758.4,223.7 758.7,223.7 759.1,223.8 759.4,223.9 759.8,223.9 760.1,224.0 760.5,224.0 760.8,224.1 761.2,224.2 761.5,224.2 761.9,224.3 762.2,224.3 762.6,224.4 762.9,224.5 763.3,224.5 763.6,224.6 764.0,224.6 764.3,224.7 764.7,224.7 765.0,224.8 765.4,224.8 765.7,224.9 766.1,225.0 766.4,225.0 766.8,225.1 767.1,225.1 767.5,225.2 767.8,225.2 768.2,225.3 768.5,225.3 768.9,225.4 769.2,225.4 769.6,225.5 769.9,225.5 770.3,225.6 770.6,225.6 771.0,225.6 771.3,225.7 771.7,225.7 772.0,225.8 772.4,225.8 772.7,225.9 773.1,225.9 773.4,225.9 773.8,226.0 774.1,226.0 774.5,226.1 774.8,226.1 775.2,226.1 775.5,226.2 775.9,226.2 776.2,226.2 776.6,226.3 776.9,226.3 777.3,226.3 777.6,226.4 778.0,226.4 778.3,226.4 778.7,226.5 779.0,226.5 779.4,226.5 779.7,226.6 780.1,226.6 780.4,226.6 780.8,226.7 781.1,226.7 781.5,226.8 781.8,226.8 782.2,226.8 782.5,226.9 782.9,226.9 783.2,226.9 783.6,227.0 783.9,227.0 784.3,227.0 784.6,227.1 785.0,227.1 785.3,227.1 785.7,227.1 786.0,227.2 786.4,227.2 786.7,227.2 787.1,227.3 787.4,227.3 787.8,227.3 788.1,227.4 788.5,227.4 788.8,227.4 789.2,227.4 789.5,227.5 789.9,227.5 790.2,227.5 790.6,227.5 790.9,227.6 791.3,227.6 791.6,227.6 792.0,227.6 792.3,227.7 792.7,227.7 793.0,227.7 793.4,227.7 793.7,227.7 794.1,227.7 794.4,227.8 794.8,227.8 795.1,227.8 795.5,227.8 795.8,227.8 796.2,227.8 796.5,227.8 796.9,227.8 797.2,227.9 797.6,227.9 797.9,227.9 798.3,227.9 798.6,227.9 799.0,227.9 799.3,227.9 799.7,227.9 800.0,227.9 800.4,227.9 800.7,227.9 801.1,227.9 801.4,227.9 801.8,227.9 802.1,227.9 802.5,227.9 802.8,227.9 803.2,227.9 803.5,227.9 803.9,227.9 804.2,227.9 804.6,227.9 804.9,227.9 805.3,227.9 805.6,227.9 806.0,227.9 806.3,227.9 806.7,227.9 807.0,227.9 807.4,227.9 807.7,227.9 808.1,227.9 808.4,227.9 808.8,227.9 809.1,227.9 809.5,227.9 809.8,227.9 810.2,227.9 810.5,227.9 810.9,227.9 811.2,227.9 811.6,227.9 811.9,227.9 812.3,227.9 812.6,227.9 813.0,227.9 813.3,227.9 813.7,227.9 814.0,227.9 814.4,227.9 814.7,227.9 815.1,227.9 815.4,227.9 815.8,227.9 816.1,227.9 816.5,227.9 816.8,227.9 817.2,227.9 817.5,227.9 817.9,227.9 818.2,227.9 818.6,227.9 818.9,227.9 819.3,227.9 819.6,227.9 820.0,227.9 820.3,227.9 820.7,227.9 821.0,227.9 821.4,227.9 821.7,227.9 822.1,227.9 822.4,227.9 822.8,227.9 823.1,227.9 823.5,227.9 823.8,227.9 824.2,227.9 824.5,227.9 824.9,227.9 825.2,227.9 825.6,227.9 825.9,227.9 826.3,227.9 826.6,227.9 827.0,227.9 827.3,227.9 827.7,227.9 828.0,227.9 828.4,227.9 828.7,227.9 829.1,227.9 829.4,227.9 829.8,227.9 830.1,227.9 830.5,227.9 830.8,227.9 831.2,227.9 831.5,227.9 831.9,227.9 832.2,227.9 832.6,227.9 832.9,227.9 833.3,227.9 833.6,227.9 834.0,227.9 834.3,227.9 834.7,227.9 835.0,227.9 835.4,227.9 835.7,227.9 836.1,227.9 836.4,227.9 836.8,227.9 837.1,227.9 837.5,227.9 837.8,227.9 838.2,227.9 838.5,227.9 838.9,227.9 839.2,227.9 839.6,227.9 839.9,227.9 840.3,227.9 840.6,227.9 841.0,227.9 841.3,227.9 841.7,227.9 842.0,227.9 842.4,227.9 842.7,227.9 843.1,227.9 843.4,227.9 843.8,227.9 844.1,227.9 844.5,227.9 844.8,227.9 845.2,227.9 845.5,227.9 845.9,227.9 846.2,227.9 846.6,227.9 846.9,227.9 847.3,227.9 847.6,227.9 848.0,227.9 848.3,227.9 848.7,227.9 849.0,227.9 849.4,227.9 849.7,227.9 850.1,227.9 850.4,227.9 850.8,227.9 851.1,227.9 851.5,227.9 851.8,227.9 852.2,227.9 852.5,227.9 852.9,227.9 853.2,227.9 853.6,227.9 853.9,227.9 854.3,227.9 854.6,227.9 855.0,227.9 855.3,227.9 855.7,227.8 856.0,227.8 856.4,227.8 856.7,227.8 857.1,227.8 857.4,227.8 857.8,227.8 858.1,227.8 858.5,227.8 858.8,227.8 859.2,227.8 859.5,227.8 859.9,227.8 860.2,227.8 860.6,227.8 860.9,227.8 861.3,227.8 861.6,227.8 862.0,227.8 862.3,227.8 862.7,227.8 863.0,227.8 863.4,227.8 863.7,227.8 864.1,227.8 864.4,227.8 864.8,227.8 865.1,227.8 865.5,227.8 865.8,227.8 866.2,227.8 866.5,227.8 866.9,227.8 867.2,227.8 867.6,227.8 867.9,227.7 868.3,227.7 868.6,227.7 869.0,227.7 869.3,227.7 869.7,227.7 870.0,227.7 870.4,227.7 870.7,227.7 871.1,227.7 871.4,227.7 871.8,227.7 872.1,227.7 872.5,227.7 872.8,227.7 873.2,227.7 873.5,227.7 873.9,227.7 874.2,227.7 874.6,227.7 874.9,227.7 875.3,227.7 875.6,227.7 876.0,227.7 876.3,227.7 876.7,227.7 877.0,227.6 877.4,227.6 877.7,227.6 878.1,227.6 878.4,227.6 878.8,227.6 879.1,227.6 879.5,227.6 879.8,227.6 880.2,227.6 880.5,227.6 880.9,227.6 881.2,227.6 881.6,227.6 881.9,227.6 882.3,227.6 882.6,227.6 883.0,227.6 883.3,227.6 883.7,227.6 884.0,227.6 884.4,227.6 884.7,227.6 885.1,227.6 885.4,227.5 885.8,227.5 886.1,227.5 886.5,227.5 886.8,227.5 887.2,227.5 887.5,227.5 887.9,227.5 888.2,227.5 888.6,227.5 888.9,227.5 889.3,227.5 889.6,227.5 890.0,227.5 890.3,227.5 890.7,227.5 891.0,227.5 891.4,227.5 891.7,227.5 892.1,227.5 892.4,227.5 892.8,227.5 893.1,227.5 893.5,227.5 893.8,227.5 894.2,227.5 894.5,227.5 894.9,227.4 895.2,227.4 895.6,227.4 895.9,227.4 896.3,227.4 896.6,227.4 897.0,227.4 897.3,227.4 897.7,227.4" fill="none" stroke="#ff0000" stroke-width="2.6" stroke-linejoin="round"/>
<polyline points="108.1,355.3 108.6,354.7 109.1,354.2 109.6,353.6 110.1,353.1 110.6,352.5 111.1,352.0 111.6,351.5 112.1,350.9 112.6,350.4 113.1,349.9 113.6,349.4 114.1,348.8 114.6,348.3 115.1,347.8 115.6,347.3 116.1,346.7 116.6,346.2 117.1,345.6 117.6,345.1 118.1,344.5 118.6,343.9 119.1,343.3 119.6,342.7 120.1,342.1 120.6,341.4 121.1,340.8 121.6,340.1 122.1,339.4 122.6,338.7 123.1,338.0 123.6,337.2 124.1,336.4 124.6,335.6 125.1,334.8 125.6,334.0 126.1,333.1 126.6,332.2 127.1,331.2 127.6,330.3 128.1,329.3 128.6,328.3 129.1,327.3 129.6,326.3 130.1,325.2 130.6,324.2 131.1,323.1 131.6,322.0 132.1,320.8 132.6,319.7 133.1,318.5 133.6,317.4 134.1,316.2 134.6,315.0 135.1,313.8 135.6,312.6 136.1,311.5 136.6,310.4 137.1,309.2 137.6,308.1 138.1,306.9 138.6,305.7 139.1,304.4 139.6,303.1 140.1,301.6 140.6,300.1 141.1,298.5 141.6,296.8 142.1,294.9 142.6,292.9 143.1,290.7 143.6,288.4 144.1,285.4 144.6,280.0 145.1,273.9 145.6,268.8 146.1,266.6 146.6,266.7 147.1,266.8 147.6,267.1 148.1,267.5 148.6,267.9 149.1,268.4 149.6,268.9 150.1,269.6 150.6,270.6 151.1,271.7 151.6,273.1 152.1,274.7 152.6,276.5 153.1,278.3 153.6,280.3 154.1,282.3 154.6,284.3 155.1,286.4 155.6,288.4 156.1,290.7 156.6,293.2 157.1,295.9 157.6,298.7 158.1,301.6 158.6,304.7 159.1,307.7 159.6,310.8 160.1,313.9 160.6,317.0 161.1,320.0 161.6,322.9 162.1,325.7 162.6,328.4 163.1,331.1 163.6,333.8 164.1,336.6 164.6,339.3 165.1,342.0 165.6,344.7 166.1,347.3 166.6,349.9 167.1,352.3 167.6,354.7 168.1,356.9 168.6,358.9 169.1,360.8 169.6,362.6 170.1,364.4 170.6,366.2 171.1,368.0 171.6,369.7 172.1,371.4 172.6,373.1 173.1,374.7 173.6,376.2 174.1,377.7 174.6,379.1 175.1,380.4 175.6,381.6 176.1,382.8 176.6,383.8 177.1,384.7 177.6,385.5 178.1,386.1 178.6,386.6 179.1,387.1 179.6,387.6 180.1,388.1 180.6,388.5 181.1,389.0 181.6,389.4 182.1,389.8 182.6,390.3 183.1,390.6 183.6,391.0 184.1,391.4 184.6,391.7 185.1,392.1 185.6,392.4 186.1,392.7 186.6,392.9 187.1,393.2 187.6,393.4 188.1,393.6 188.6,393.8 189.1,394.0 189.6,394.1 190.1,394.2 190.6,394.3 191.1,394.4 191.6,394.5 192.1,394.5 192.6,394.3 193.1,393.8 193.6,393.0 194.1,391.9 194.6,390.8 195.1,389.8 195.6,388.8 196.1,387.9 196.6,386.8 197.1,385.7 197.6,384.7 198.1,383.8 198.6,383.2 199.1,382.9 199.6,383.3 200.1,384.3 200.6,385.8 201.1,387.4 201.6,389.0 202.1,390.3 202.6,391.0 203.1,391.5 203.6,392.0 204.1,392.4 204.6,392.8 205.1,393.1 205.6,393.4 206.1,393.7 206.6,393.9 207.1,394.1 207.6,394.3 208.1,394.4 208.6,394.5 209.1,394.6 209.6,394.7 210.1,394.7 210.6,394.8 211.1,394.8 211.6,394.9 212.1,394.9 212.6,395.0 213.1,395.0 213.6,395.0 214.1,395.1 214.6,395.1 215.1,395.1 215.6,395.2 216.1,395.2 216.6,395.2 217.1,395.3 217.6,395.3 218.1,395.3 218.6,395.3 219.1,395.4 219.6,395.4 220.1,395.4 220.6,395.5 221.1,395.5 221.6,395.6 222.1,395.6 222.6,395.7 223.1,395.7 223.6,395.8 224.1,395.8 224.6,395.9 225.1,396.0 225.6,396.1 226.1,396.1 226.6,396.2 227.1,396.3 227.6,396.4 228.1,396.5 228.6,396.5 229.1,396.6 229.6,396.7 230.1,396.8 230.6,396.9 231.1,397.0 231.6,397.1 232.1,397.2 232.6,397.3 233.1,397.4 233.6,397.4 234.1,397.5 234.6,397.6 235.1,397.7 235.6,397.8 236.1,397.9 236.6,398.0 237.1,398.1 237.6,398.1 238.1,398.2 238.6,398.3 239.1,398.4 239.6,398.5 240.1,398.5 240.6,398.6 241.1,398.7 241.6,398.7 242.1,398.8 242.6,398.8 243.1,398.9 243.6,398.9 244.1,398.9 244.6,399.0 245.1,399.0 245.6,399.0 246.1,399.1 246.6,399.1 247.1,399.1 247.6,399.1 248.1,399.1 248.6,399.1 249.1,399.0 249.6,399.0 250.1,399.0 250.6,399.0 251.1,398.9 251.6,398.9 252.1,398.8 252.6,398.8 253.1,398.7 253.6,398.6 254.1,398.6 254.6,398.5 255.1,398.4 255.6,398.4 256.1,398.3 256.6,398.2 257.1,398.1 257.6,398.0 258.1,397.9 258.6,397.8 259.1,397.7 259.6,397.6 260.1,397.5 260.6,397.4 261.1,397.3 261.6,397.2 262.1,397.1 262.6,397.0 263.1,396.9 263.6,396.8 264.1,396.7 264.6,396.6 265.1,396.5 265.6,396.4 266.1,396.2 266.6,396.1 267.1,396.0 267.6,395.9 268.1,395.8 268.6,395.7 269.1,395.6 269.6,395.6 270.1,395.5 270.6,395.4 271.1,395.3 271.6,395.2 272.1,395.1 272.6,395.1 273.1,395.0 273.6,394.9 274.1,394.8 274.6,394.8 275.1,394.7 275.6,394.7 276.1,394.6 276.6,394.6 277.1,394.6 277.6,394.5 278.1,394.5 278.6,394.5 279.1,394.5 279.6,394.5 280.1,394.5 280.6,394.5 281.1,394.5 281.6,394.5 282.1,394.5 282.6,394.5 283.1,394.6 283.6,394.6 284.1,394.6 284.6,394.6 285.1,394.7 285.6,394.7 286.1,394.7 286.6,394.8 287.1,394.8 287.6,394.8 288.1,394.9 288.6,394.9 289.1,394.9 289.6,395.0 290.1,395.0 290.6,395.1 291.1,395.1 291.6,395.2 292.1,395.3 292.6,395.3 293.1,395.4 293.6,395.5 294.1,395.5 294.6,395.6 295.1,395.7 295.6,395.8 296.1,395.9 296.6,396.0 297.1,396.1 297.6,396.1 298.1,396.2 298.6,396.3 299.1,396.4 299.6,396.5 300.1,396.6 300.6,396.6 301.1,396.7 301.6,396.8 302.1,396.8 302.6,396.9 303.1,397.0 303.6,397.0 304.1,397.1 304.6,397.1 305.1,397.2 305.6,397.2 306.1,397.2 306.6,397.2 307.1,397.2 307.6,397.2 308.1,397.2 308.6,397.2 309.1,397.1 309.6,397.1 310.1,397.0 310.6,396.9 311.1,396.8 311.6,396.6 312.1,396.5 312.6,396.4 313.1,396.2 313.6,396.1 314.1,395.9 314.6,395.8 315.1,395.6 315.6,395.4 316.1,395.3 316.6,395.1 317.1,395.0 317.6,394.8 318.1,394.7 318.6,394.6 319.1,394.4 319.6,394.3 320.1,394.2 320.6,394.0 321.1,393.9 321.6,393.7 322.1,393.6 322.6,393.4 323.1,393.3 323.6,393.1 324.1,393.0 324.6,392.8 325.1,392.7 325.6,392.5 326.1,392.3 326.6,392.2 327.1,392.0 327.6,391.8 328.1,391.7 328.6,391.5 329.1,391.4 329.6,391.2 330.1,391.1 330.6,390.9 331.1,390.8 331.6,390.6 332.1,390.5 332.6,390.4 333.1,390.3 333.6,390.1 334.1,390.0 334.6,389.9 335.1,389.8 335.6,389.8 336.1,389.7 336.6,389.6 337.1,389.5 337.6,389.5 338.1,389.5 338.6,389.4 339.1,389.4 339.6,389.4 340.1,389.4 340.6,389.5 341.1,389.6 341.6,389.7 342.1,389.8 342.6,390.0 343.1,390.2 343.6,390.3 344.1,390.5 344.6,390.7 345.1,390.9 345.6,391.1 346.1,391.3 346.6,391.6 347.1,391.8 347.6,392.1 348.1,392.4 348.6,392.7 349.1,393.0 349.6,393.3 350.1,393.5 350.6,393.7 351.1,394.0 351.6,394.1 352.1,394.3 352.6,394.4 353.1,394.5 353.6,394.5 354.1,394.5 354.6,394.5 355.1,394.5 355.6,394.5 356.1,394.4 356.6,394.4 357.1,394.4 357.6,394.4 358.1,394.4 358.6,394.4 359.1,394.4 359.6,394.4 360.1,394.3 360.6,394.3 361.1,394.3 361.6,394.3 362.1,394.2 362.6,394.2 363.1,394.2 363.6,394.2 364.1,394.1 364.6,394.1 365.1,394.1 365.6,394.0 366.1,394.0 366.6,394.0 367.1,393.9 367.6,393.9 368.1,393.9 368.6,393.8 369.1,393.8 369.6,393.7 370.1,393.7 370.6,393.7 371.1,393.6 371.6,393.6 372.1,393.5 372.6,393.5 373.1,393.4 373.6,393.4 374.1,393.4 374.6,393.3 375.1,393.3 375.6,393.2 376.1,393.2 376.6,393.1 377.1,393.1 377.6,393.0 378.1,393.0 378.6,392.9 379.1,392.9 379.6,392.8 380.1,392.8 380.6,392.7 381.1,392.7 381.6,392.6 382.1,392.6 382.6,392.5 383.1,392.5 383.6,392.4 384.1,392.4 384.6,392.3 385.1,392.3 385.6,392.2 386.1,392.2 386.6,392.1 387.1,392.1 387.6,392.0 388.1,392.0 388.6,391.9 389.1,391.9 389.6,391.8 390.1,391.8 390.6,391.7 391.1,391.7 391.6,391.6 392.1,391.6 392.6,391.6 393.1,391.5 393.6,391.5 394.1,391.4 394.6,391.4 395.1,391.3 395.6,391.3 396.1,391.3 396.6,391.2 397.1,391.2 397.6,391.2 398.1,391.1 398.6,391.1 399.1,391.0 399.6,391.0 400.1,391.0 400.6,390.9 401.1,390.9 401.6,390.9 402.1,390.8 402.6,390.8 403.1,390.8 403.6,390.7 404.1,390.7 404.6,390.7 405.1,390.6 405.6,390.6 406.1,390.6 406.6,390.5 407.1,390.5 407.6,390.5 408.1,390.4 408.6,390.4 409.1,390.4 409.6,390.3 410.1,390.3 410.6,390.3 411.1,390.2 411.6,390.2 412.1,390.2 412.6,390.1 413.1,390.1 413.6,390.0 414.1,390.0 414.6,390.0 415.1,389.9 415.6,389.9 416.1,389.9 416.6,389.8 417.1,389.8 417.6,389.8 418.1,389.7 418.6,389.7 419.1,389.7 419.6,389.6 420.1,389.6 420.6,389.6 421.1,389.5 421.6,389.5 422.1,389.4 422.6,389.4 423.1,389.4 423.6,389.3 424.1,389.3 424.6,389.3 425.1,389.2 425.6,389.2 426.1,389.2 426.6,389.1 427.1,389.1 427.6,389.0 428.1,389.0 428.6,389.0 429.1,388.9 429.6,388.9 430.1,388.9 430.6,388.8 431.1,388.8 431.6,388.8 432.1,388.7 432.6,388.7 433.1,388.7 433.6,388.6 434.1,388.6 434.6,388.5 435.1,388.5 435.6,388.5 436.1,388.4 436.6,388.4 437.1,388.4 437.6,388.3 438.1,388.3 438.6,388.3 439.1,388.2 439.6,388.2 440.1,388.2 440.6,388.1 441.1,388.1 441.6,388.1 442.1,388.0 442.6,388.0 443.1,388.0 443.6,387.9 444.1,387.9 444.6,387.9 445.1,387.8 445.6,387.8 446.1,387.8 446.6,387.7 447.1,387.7 447.6,387.7 448.1,387.6 448.6,387.6 449.1,387.6 449.6,387.5 450.1,387.5 450.6,387.5 451.1,387.4 451.6,387.4 452.1,387.4 452.6,387.3 453.1,387.3 453.6,387.3 454.1,387.2 454.6,387.2 455.1,387.2 455.6,387.1 456.1,387.1 456.6,387.1 457.1,387.0 457.6,387.0 458.1,387.0 458.6,387.0 459.1,386.9 459.6,386.9 460.1,386.9 460.6,386.8 461.1,386.8 461.6,386.8 462.1,386.7 462.6,386.7 463.1,386.7 463.6,386.7 464.1,386.6 464.6,386.6 465.1,386.6 465.6,386.6 466.1,386.5 466.6,386.5 467.1,386.5 467.6,386.4 468.1,386.4 468.6,386.4 469.1,386.4 469.6,386.3 470.1,386.3 470.6,386.3 471.1,386.3 471.6,386.2 472.1,386.2 472.6,386.2 473.1,386.2 473.6,386.1 474.1,386.1 474.6,386.1 475.1,386.1 475.6,386.0 476.1,386.0 476.6,386.0 477.1,386.0 477.6,386.0 478.1,385.9 478.6,385.9 479.1,385.9 479.6,385.9 480.1,385.8 480.6,385.8 481.1,385.8 481.6,385.8 482.1,385.8 482.6,385.7 483.1,385.7 483.6,385.7 484.1,385.7 484.6,385.7 485.1,385.6 485.6,385.6 486.1,385.6 486.6,385.6 487.1,385.6 487.6,385.6 488.1,385.5 488.6,385.5 489.1,385.5 489.6,385.5 490.1,385.5 490.6,385.5 491.1,385.5 491.6,385.4 492.1,385.4 492.6,385.4 493.1,385.4 493.6,385.4 494.1,385.4 494.6,385.4 495.1,385.4 495.6,385.3 496.1,385.3 496.6,385.3 497.1,385.3 497.6,385.3 498.1,385.3 498.6,385.3 499.1,385.3 499.6,385.3 500.1,385.3 500.6,385.2 501.1,385.2 501.6,385.2 502.1,385.2 502.6,385.2 503.1,385.2 503.6,385.2 504.1,385.2 504.6,385.2 505.1,385.2 505.6,385.2 506.1,385.2 506.6,385.1 507.1,385.1 507.6,385.1 508.1,385.1 508.6,385.1 509.1,385.1 509.6,385.1 510.1,385.1 510.6,385.1 511.1,385.1 511.6,385.1 512.1,385.1 512.6,385.1 513.1,385.0 513.6,385.0 514.1,385.0 514.6,385.0 515.1,385.0 515.6,385.0 516.1,385.0 516.6,385.0 517.1,385.0 517.6,385.0 518.1,385.0 518.6,385.0 519.1,385.0 519.6,385.0 520.1,384.9 520.6,384.9 521.1,384.9 521.6,384.9 522.1,384.9 522.6,384.9 523.1,384.9 523.6,384.9 524.1,384.9 524.6,384.9 525.1,384.9 525.6,384.9 526.1,384.9 526.6,384.9 527.1,384.9 527.6,384.8 528.1,384.8 528.6,384.8 529.1,384.8 529.6,384.8 530.1,384.8 530.6,384.8 531.1,384.8 531.6,384.8 532.1,384.8 532.6,384.8 533.1,384.8 533.6,384.8 534.1,384.8 534.6,384.8 535.1,384.8 535.6,384.8 536.1,384.8 536.6,384.7 537.1,384.7 537.6,384.7 538.1,384.7 538.6,384.7 539.1,384.7 539.6,384.7 540.1,384.7 540.6,384.7 541.1,384.7 541.6,384.7 542.1,384.7 542.6,384.7 543.1,384.7 543.6,384.7 544.1,384.7 544.6,384.7 545.1,384.7 545.6,384.7 546.1,384.7 546.6,384.7 547.1,384.7 547.6,384.6 548.1,384.6 548.6,384.6 549.1,384.6 549.6,384.6 550.1,384.6 550.6,384.6 551.1,384.6 551.6,384.6 552.1,384.6 552.6,384.6 553.1,384.6 553.6,384.6 554.1,384.6 554.6,384.6 555.1,384.6 555.6,384.6 556.1,384.6 556.6,384.6 557.1,384.6 557.6,384.6 558.1,384.6 558.6,384.6 559.1,384.6 559.6,384.6 560.1,384.6 560.6,384.6 561.1,384.6 561.6,384.6 562.1,384.6 562.6,384.6 563.1,384.6 563.6,384.6 564.1,384.6 564.6,384.6 565.1,384.6 565.6,384.6 566.1,384.6 566.6,384.6 567.1,384.6 567.6,384.6 568.1,384.6 568.6,384.6 569.1,384.6 569.6,384.6 570.1,384.6 570.6,384.6 571.1,384.6 571.6,384.6 572.1,384.6 572.6,384.6 573.1,384.6 573.6,384.6 574.1,384.6 574.6,384.6 575.1,384.6 575.6,384.6 576.1,384.6 576.6,384.6 577.1,384.6 577.6,384.6 578.1,384.6 578.6,384.6 579.1,384.6 579.6,384.6 580.1,384.6 580.6,384.6 581.1,384.6 581.6,384.6 582.1,384.6 582.6,384.6 583.1,384.6 583.6,384.6 584.1,384.6 584.6,384.6 585.1,384.6 585.6,384.7 586.1,384.7 586.6,384.7 587.1,384.7 587.6,384.7 588.1,384.7 588.6,384.7 589.1,384.7 589.6,384.7 590.1,384.7 590.6,384.7 591.1,384.7 591.6,384.7 592.1,384.7 592.6,384.7 593.1,384.7 593.6,384.8 594.1,384.8 594.6,384.8 595.1,384.8 595.6,384.8 596.1,384.8 596.6,384.8 597.1,384.8 597.6,384.8 598.1,384.8 598.6,384.8 599.1,384.9 599.6,384.9 600.1,384.9 600.6,384.9 601.1,384.9 601.6,384.9 602.1,384.9 602.6,384.9 603.1,384.9 603.6,384.9 604.1,385.0 604.6,385.0 605.1,385.0 605.6,385.0 606.1,385.0 606.6,385.0 607.1,385.0 607.6,385.0 608.1,385.1 608.6,385.1 609.1,385.1 609.6,385.1 610.1,385.1 610.6,385.1 611.1,385.1 611.6,385.1 612.1,385.2 612.6,385.2 613.1,385.2 613.6,385.2 614.1,385.2 614.6,385.2 615.1,385.2 615.6,385.3 616.1,385.3 616.6,385.3 617.1,385.3 617.6,385.4 618.1,385.4 618.6,385.5 619.1,385.5 619.6,385.5 620.1,385.6 620.6,385.7 621.1,385.7 621.6,385.8 622.1,385.8 622.6,385.9 623.1,386.0 623.6,386.1 624.1,386.1 624.6,386.2 625.1,386.3 625.6,386.4 626.1,386.5 626.6,386.5 627.1,386.6 627.6,386.7 628.1,386.8 628.6,386.9 629.1,387.0 629.6,387.1 630.1,387.2 630.6,387.3 631.1,387.4 631.6,387.5 632.1,387.6 632.6,387.7 633.1,387.8 633.6,387.9 634.1,387.9 634.6,388.0 635.1,388.1 635.6,388.2 636.1,388.3 636.6,388.4 637.1,388.5 637.6,388.6 638.1,388.7 638.6,388.8 639.1,388.9 639.6,388.9 640.1,389.0 640.6,389.1 641.1,389.2 641.6,389.3 642.1,389.4 642.6,389.5 643.1,389.6 643.6,389.7 644.1,389.9 644.6,390.0 645.1,390.1 645.6,390.2 646.1,390.3 646.6,390.4 647.1,390.5 647.6,390.6 648.1,390.7 648.6,390.9 649.1,391.0 649.6,391.1 650.1,391.2 650.6,391.3 651.1,391.4 651.6,391.5 652.1,391.6 652.6,391.7 653.1,391.8 653.6,392.0 654.1,392.1 654.6,392.2 655.1,392.3 655.6,392.4 656.1,392.5 656.6,392.5 657.1,392.6 657.6,392.7 658.1,392.8 658.6,392.9 659.1,393.0 659.6,393.1 660.1,393.1 660.6,393.2 661.1,393.3 661.6,393.4 662.1,393.4 662.6,393.5 663.1,393.6 663.6,393.6 664.1,393.7 664.6,393.8 665.1,393.8 665.6,393.9 666.1,394.0 666.6,394.0 667.1,394.1 667.6,394.2 668.1,394.2 668.6,394.3 669.1,394.4 669.6,394.4 670.1,394.5 670.6,394.6 671.1,394.6 671.6,394.7 672.1,394.8 672.6,394.8 673.1,394.9 673.6,394.9 674.1,395.0 674.6,395.0 675.1,395.1 675.6,395.2 676.1,395.2 676.6,395.2 677.1,395.3 677.6,395.3 678.1,395.4 678.6,395.4 679.1,395.4 679.6,395.5 680.1,395.5 680.6,395.5 681.1,395.5 681.6,395.6 682.1,395.6 682.6,395.6 683.1,395.6 683.6,395.6 684.1,395.6 684.6,395.6 685.1,395.6 685.6,395.6 686.1,395.6 686.6,395.6 687.1,395.6 687.6,395.6 688.1,395.6 688.6,395.5 689.1,395.5 689.6,395.5 690.1,395.5 690.6,395.4 691.1,395.4 691.6,395.4 692.1,395.3 692.6,395.3 693.1,395.3 693.6,395.2 694.1,395.2 694.6,395.2 695.1,395.1 695.6,395.1 696.1,395.0 696.6,395.0 697.1,394.9 697.6,394.9 698.1,394.8 698.6,394.8 699.1,394.7 699.6,394.7 700.1,394.6 700.6,394.6 701.1,394.5 701.6,394.5 702.1,394.4 702.6,394.3 703.1,394.3 703.6,394.2 704.1,394.2 704.6,394.1 705.1,394.0 705.6,394.0 706.1,393.9 706.6,393.9 707.1,393.8 707.6,393.8 708.1,393.7 708.6,393.6 709.1,393.5 709.6,393.5 710.1,393.4 710.6,393.3 711.1,393.2 711.6,393.1 712.1,393.0 712.6,392.9 713.1,392.8 713.6,392.7 714.1,392.5 714.6,392.4 715.1,392.3 715.6,392.2 716.1,392.0 716.6,391.9 717.1,391.8 717.6,391.7 718.1,391.5 718.6,391.4 719.1,391.3 719.6,391.1 720.1,391.0 720.6,390.9 721.1,390.7 721.6,390.6 722.1,390.5 722.6,390.3 723.1,390.2 723.6,390.1 724.1,390.0 724.6,389.8 725.1,389.7 725.6,389.6 726.1,389.5 726.6,389.4 727.1,389.3 727.6,389.2 728.1,389.1 728.6,389.0 729.1,388.9 729.6,388.8 730.1,388.8 730.6,388.7 731.1,388.6 731.6,388.6 732.1,388.5 732.6,388.4 733.1,388.3 733.6,388.3 734.1,388.2 734.6,388.1 735.1,388.1 735.6,388.0 736.1,387.9 736.6,387.9 737.1,387.8 737.6,387.7 738.1,387.6 738.6,387.6 739.1,387.5 739.6,387.5 740.1,387.4 740.6,387.3 741.1,387.3 741.6,387.2 742.1,387.1 742.6,387.1 743.1,387.0 743.6,387.0 744.1,386.9 744.6,386.9 745.1,386.8 745.6,386.8 746.1,386.7 746.6,386.7 747.1,386.7 747.6,386.6 748.1,386.6 748.6,386.6 749.1,386.5 749.6,386.5 750.1,386.5 750.6,386.5 751.1,386.4 751.6,386.4 752.1,386.4 752.6,386.4 753.1,386.4 753.6,386.4 754.1,386.4 754.6,386.4 755.1,386.4 755.6,386.4 756.1,386.4 756.6,386.4 757.1,386.4 757.6,386.4 758.1,386.4 758.6,386.4 759.1,386.4 759.6,386.4 760.1,386.4 760.6,386.4 761.1,386.4 761.6,386.4 762.1,386.4 762.6,386.4 763.1,386.4 763.6,386.4 764.1,386.4 764.6,386.4 765.1,386.5 765.6,386.5 766.1,386.5 766.6,386.5 767.1,386.5 767.6,386.5 768.1,386.5 768.6,386.5 769.1,386.5 769.6,386.5 770.1,386.5 770.6,386.5 771.1,386.5 771.6,386.5 772.1,386.5 772.6,386.5 773.1,386.5 773.6,386.5 774.1,386.5 774.6,386.5 775.1,386.5 775.6,386.6 776.1,386.6 776.6,386.6 777.1,386.6 777.6,386.6 778.1,386.6 778.6,386.6 779.1,386.6 779.6,386.6 780.1,386.6 780.6,386.6 781.1,386.6 781.6,386.6 782.1,386.6 782.6,386.6 783.1,386.7 783.6,386.7 784.1,386.7 784.6,386.7 785.1,386.7 785.6,386.7 786.1,386.7 786.6,386.7 787.1,386.7 787.6,386.7 788.1,386.7 788.6,386.7 789.1,386.7 789.6,386.7 790.1,386.7 790.6,386.8 791.1,386.8 791.6,386.8 792.1,386.8 792.6,386.8 793.1,386.8 793.6,386.8 794.1,386.8 794.6,386.8 795.1,386.8 795.6,386.8 796.1,386.8 796.6,386.8 797.1,386.8 797.6,386.8 798.1,386.8 798.6,386.9 799.1,386.9 799.6,386.9 800.1,386.9 800.6,386.9 801.1,386.9 801.6,386.9 802.1,386.9 802.6,386.9 803.1,386.9 803.6,386.9 804.1,386.9 804.6,386.9 805.1,386.9 805.6,386.9 806.1,386.9 806.6,386.9 807.1,387.0 807.6,387.0 808.1,387.0 808.6,387.0 809.1,387.0 809.6,387.0 810.1,387.0 810.6,387.0 811.1,387.0 811.6,387.0 812.1,387.0 812.6,387.0 813.1,387.0 813.6,387.0 814.1,387.0 814.6,387.0 815.1,387.0 815.6,387.1 816.1,387.1 816.6,387.1 817.1,387.1 817.6,387.1 818.1,387.1 818.6,387.1 819.1,387.1 819.6,387.1 820.1,387.1 820.6,387.1 821.1,387.1 821.6,387.1 822.1,387.1 822.6,387.1 823.1,387.2 823.6,387.2 824.1,387.2 824.6,387.2 825.1,387.2 825.6,387.2 826.1,387.2 826.6,387.2 827.1,387.2 827.6,387.2 828.1,387.2 828.6,387.2 829.1,387.2 829.6,387.2 830.1,387.3 830.6,387.3 831.1,387.3 831.6,387.3 832.1,387.3 832.6,387.3 833.1,387.3 833.6,387.3 834.1,387.3 834.6,387.3 835.1,387.3 835.6,387.3 836.1,387.4 836.6,387.4 837.1,387.4 837.6,387.4 838.1,387.4 838.6,387.4 839.1,387.4 839.6,387.4 840.1,387.4 840.6,387.4 841.1,387.5 841.6,387.5 842.1,387.5 842.6,387.5 843.1,387.5 843.6,387.5 844.1,387.5 844.6,387.5 845.1,387.5 845.6,387.6 846.1,387.6 846.6,387.6 847.1,387.6 847.6,387.6 848.1,387.6 848.6,387.6 849.1,387.7 849.6,387.7 850.1,387.7 850.6,387.7 851.1,387.7 851.6,387.7 852.1,387.8 852.6,387.8 853.1,387.8 853.6,387.8 854.1,387.8 854.6,387.9 855.1,387.9 855.6,387.9 856.1,387.9 856.6,388.0 857.1,388.0 857.6,388.0 858.1,388.0 858.6,388.1 859.1,388.1 859.6,388.1 860.1,388.1 860.6,388.2 861.1,388.2 861.6,388.2 862.1,388.2 862.6,388.3 863.1,388.3 863.6,388.3 864.1,388.4 864.6,388.4 865.1,388.4 865.6,388.4 866.1,388.5 866.6,388.5 867.1,388.5 867.6,388.6 868.1,388.6 868.6,388.6 869.1,388.7 869.6,388.7 870.1,388.7 870.6,388.8 871.1,388.8 871.6,388.8 872.1,388.9 872.6,388.9 873.1,388.9 873.6,389.0 874.1,389.0 874.6,389.0 875.1,389.1 875.6,389.1 876.1,389.1 876.6,389.2 877.1,389.2 877.6,389.2 878.1,389.3 878.6,389.3 879.1,389.3 879.6,389.4 880.1,389.4 880.6,389.4 881.1,389.5 881.6,389.5 882.1,389.5 882.6,389.6 883.1,389.6 883.6,389.6 884.1,389.7 884.6,389.7 885.1,389.7 885.6,389.8 886.1,389.8 886.6,389.8 887.1,389.9 887.6,389.9 888.1,389.9 888.6,390.0 889.1,390.0 889.6,390.0 890.1,390.1 890.6,390.1 891.1,390.1 891.6,390.2 892.1,390.2 892.6,390.2 893.1,390.3 893.6,390.3 894.1,390.3 894.6,390.4 895.1,390.4 895.6,390.4 896.1,390.4 896.6,390.5 897.1,390.5 897.6,390.5" fill="none" stroke="#0000ff" stroke-width="2.8" stroke-linejoin="round"/>
<line x1="148.8" y1="440.5" x2="148.8" y2="356.5" stroke="#000" stroke-width="2.4"/>
<line x1="194.0" y1="440.5" x2="194.0" y2="423.0" stroke="#000" stroke-width="2.4"/>
<line x1="297.7" y1="440.5" x2="297.7" y2="433.5" stroke="#000" stroke-width="2.4"/>
<line x1="343.8" y1="440.5" x2="343.8" y2="433.5" stroke="#000" stroke-width="2.4"/>
<line x1="491.7" y1="440.5" x2="491.7" y2="433.5" stroke="#000" stroke-width="2.4"/>
<line x1="142.9" y1="685.8" x2="142.9" y2="605.5" stroke="#000" stroke-width="2.4"/>
<line x1="194.0" y1="685.8" x2="194.0" y2="662.4" stroke="#000" stroke-width="2.4"/>
<line x1="241.0" y1="685.8" x2="241.0" y2="638.9" stroke="#000" stroke-width="2.4"/>
<line x1="275.1" y1="685.8" x2="275.1" y2="674.0" stroke="#000" stroke-width="2.4"/>
<line x1="308.8" y1="685.8" x2="308.8" y2="680.0" stroke="#000" stroke-width="2.4"/>
<line x1="332.1" y1="685.8" x2="332.1" y2="662.0" stroke="#000" stroke-width="2.4"/>
<line x1="400.2" y1="685.8" x2="400.2" y2="680.0" stroke="#000" stroke-width="2.4"/>
<line x1="445.8" y1="685.8" x2="445.8" y2="680.0" stroke="#000" stroke-width="2.4"/>
<line x1="480.6" y1="685.8" x2="480.6" y2="674.0" stroke="#000" stroke-width="2.4"/>
<line x1="537.8" y1="685.8" x2="537.8" y2="680.0" stroke="#000" stroke-width="2.4"/>
<line x1="547.1" y1="685.8" x2="547.1" y2="679.0" stroke="#000" stroke-width="2.4"/>
<line x1="583.4" y1="685.8" x2="583.4" y2="680.0" stroke="#000" stroke-width="2.4"/>
<polyline points="108.5,589.9 109.0,588.7 109.5,589.0 110.0,589.2 110.5,588.6 111.0,589.0 111.5,589.0 112.0,588.0 112.5,589.6 113.0,589.3 113.5,588.7 114.0,588.9 114.5,589.3 115.0,588.9 115.5,588.9 116.0,588.2 116.5,589.3 117.0,589.1 117.5,589.2 118.0,588.2 118.5,589.9 119.0,589.1 119.5,588.8 120.0,590.1 120.5,589.0 121.0,588.2 121.5,588.8 122.0,587.7 122.5,589.6 123.0,588.8 123.5,588.6 124.0,589.6 124.5,588.1 125.0,589.3 125.5,587.9 126.0,588.6 126.5,588.3 127.0,589.8 127.5,590.0 128.0,588.8 128.5,589.5 129.0,588.9 129.5,589.3 130.0,588.6 130.5,588.1 131.0,588.0 131.5,589.2 132.0,590.2 132.5,589.1 133.0,588.7 133.5,590.1 134.0,589.1 134.5,589.1 135.0,589.1 135.5,588.9 136.0,588.8 136.5,588.2 137.0,589.3 137.5,588.9 138.0,589.7 138.5,588.8 139.0,587.9 139.5,588.9 140.0,589.8 140.5,588.6 141.0,588.1 141.5,587.6 142.0,587.3 142.5,587.0 143.0,585.5 143.5,585.7 144.0,583.0 144.5,580.7 145.0,577.3 145.5,568.6 146.0,550.2 146.5,522.2 147.0,489.5 147.5,467.1 148.0,468.9 148.5,495.7 149.0,528.9 149.5,554.9 150.0,569.6 150.5,577.4 151.0,580.9 151.5,583.3 152.0,585.9 152.5,587.2 153.0,587.7 153.5,588.2 154.0,588.7 154.5,588.6 155.0,588.8 155.5,588.5 156.0,588.9 156.5,590.2 157.0,589.5 157.5,588.8 158.0,588.7 158.5,588.5 159.0,589.2 159.5,589.2 160.0,588.2 160.5,589.3 161.0,588.7 161.5,589.8 162.0,589.1 162.5,589.9 163.0,588.7 163.5,588.8 164.0,589.2 164.5,589.6 165.0,589.3 165.5,588.3 166.0,589.1 166.5,589.0 167.0,588.8 167.5,588.6 168.0,590.0 168.5,588.8 169.0,588.5 169.5,589.4 170.0,589.1 170.5,589.0 171.0,589.4 171.5,589.3 172.0,589.2 172.5,589.5 173.0,589.2 173.5,588.7 174.0,588.8 174.5,588.7 175.0,589.1 175.5,588.4 176.0,588.0 176.5,589.0 177.0,588.3 177.5,587.9 178.0,589.2 178.5,588.6 179.0,589.3 179.5,588.7 180.0,588.4 180.5,588.3 181.0,588.7 181.5,588.8 182.0,588.5 182.5,588.8 183.0,588.2 183.5,589.0 184.0,588.0 184.5,588.9 185.0,589.4 185.5,589.6 186.0,589.9 186.5,588.1 187.0,589.4 187.5,589.7 188.0,589.5 188.5,588.5 189.0,589.2 189.5,590.0 190.0,588.2 190.5,589.3 191.0,589.6 191.5,588.6 192.0,589.3 192.5,588.4 193.0,588.5 193.5,588.5 194.0,589.0 194.5,588.8 195.0,589.2 195.5,588.0 196.0,588.3 196.5,588.7 197.0,588.1 197.5,586.6 198.0,586.8 198.5,584.4 199.0,581.7 199.5,577.1 200.0,572.7 200.5,569.0 201.0,568.3 201.5,572.1 202.0,578.3 202.5,582.1 203.0,585.7 203.5,586.8 204.0,587.0 204.5,588.5 205.0,587.7 205.5,587.3 206.0,589.7 206.5,587.7 207.0,589.2 207.5,589.4 208.0,589.0 208.5,588.0 209.0,589.5 209.5,588.2 210.0,588.3 210.5,588.8 211.0,589.4 211.5,589.2 212.0,589.4 212.5,588.8 213.0,588.9 213.5,588.4 214.0,588.8 214.5,589.3 215.0,588.8 215.5,589.3 216.0,588.7 216.5,588.7 217.0,589.0 217.5,588.9 218.0,589.3 218.5,589.1 219.0,590.0 219.5,588.9 220.0,588.9 220.5,588.4 221.0,589.0 221.5,589.4 222.0,588.6 222.5,589.0 223.0,589.4 223.5,588.9 224.0,588.7 224.5,589.5 225.0,589.1 225.5,589.2 226.0,589.6 226.5,589.6 227.0,588.8 227.5,588.7 228.0,589.2 228.5,588.9 229.0,588.0 229.5,589.7 230.0,589.0 230.5,589.4 231.0,588.4 231.5,589.7 232.0,588.7 232.5,588.9 233.0,588.2 233.5,588.9 234.0,588.9 234.5,588.9 235.0,589.2 235.5,588.9 236.0,589.3 236.5,588.4 237.0,587.9 237.5,588.1 238.0,588.0 238.5,587.7 239.0,586.7 239.5,584.0 240.0,582.6 240.5,578.0 241.0,567.9 241.5,555.0 242.0,544.5 242.5,540.9 243.0,548.4 243.5,560.5 244.0,572.9 244.5,580.0 245.0,583.3 245.5,585.9 246.0,587.1 246.5,587.0 247.0,587.6 247.5,587.0 248.0,589.0 248.5,588.4 249.0,587.7 249.5,587.9 250.0,588.8 250.5,589.4 251.0,588.9 251.5,589.3 252.0,588.4 252.5,588.3 253.0,589.5 253.5,589.3 254.0,589.0 254.5,589.7 255.0,588.5 255.5,588.8 256.0,589.6 256.5,590.0 257.0,589.0 257.5,589.9 258.0,588.7 258.5,589.2 259.0,588.9 259.5,588.1 260.0,589.1 260.5,589.5 261.0,588.9 261.5,589.0 262.0,589.8 262.5,588.3 263.0,588.2 263.5,588.6 264.0,588.3 264.5,589.7 265.0,589.2 265.5,588.5 266.0,588.7 266.5,590.6 267.0,588.7 267.5,588.6 268.0,589.2 268.5,589.3 269.0,589.1 269.5,588.5 270.0,588.3 270.5,589.2 271.0,588.8 271.5,587.9 272.0,589.4 272.5,589.1 273.0,588.4 273.5,588.3 274.0,588.2 274.5,587.1 275.0,585.7 275.5,585.3 276.0,583.1 276.5,583.3 277.0,582.4 277.5,584.0 278.0,585.4 278.5,587.7 279.0,587.0 279.5,587.4 280.0,588.1 280.5,588.0 281.0,588.4 281.5,589.0 282.0,589.3 282.5,589.8 283.0,588.5 283.5,590.4 284.0,590.1 284.5,588.9 285.0,587.7 285.5,588.9 286.0,589.0 286.5,587.7 287.0,589.0 287.5,588.9 288.0,588.6 288.5,589.3 289.0,589.6 289.5,588.7 290.0,589.1 290.5,588.6 291.0,588.6 291.5,589.0 292.0,589.3 292.5,588.7 293.0,587.8 293.5,589.3 294.0,588.1 294.5,589.1 295.0,590.0 295.5,589.0 296.0,588.3 296.5,588.2 297.0,589.6 297.5,589.0 298.0,589.3 298.5,589.5 299.0,589.0 299.5,588.8 300.0,588.4 300.5,587.2 301.0,588.1 301.5,588.8 302.0,588.7 302.5,588.9 303.0,588.5 303.5,588.5 304.0,588.7 304.5,587.4 305.0,587.0 305.5,585.0 306.0,584.6 306.5,582.0 307.0,580.7 307.5,580.9 308.0,581.6 308.5,582.8 309.0,585.3 309.5,585.7 310.0,587.7 310.5,588.1 311.0,587.4 311.5,589.2 312.0,588.2 312.5,589.1 313.0,588.6 313.5,589.4 314.0,589.6 314.5,588.5 315.0,588.1 315.5,588.9 316.0,589.5 316.5,588.8 317.0,588.7 317.5,589.3 318.0,587.5 318.5,588.6 319.0,588.2 319.5,589.2 320.0,588.6 320.5,588.4 321.0,588.8 321.5,588.2 322.0,589.0 322.5,588.6 323.0,588.8 323.5,588.6 324.0,589.5 324.5,588.9 325.0,589.3 325.5,589.3 326.0,588.6 326.5,589.3 327.0,589.2 327.5,589.1 328.0,588.7 328.5,588.7 329.0,589.3 329.5,589.9 330.0,588.2 330.5,588.7 331.0,588.0 331.5,588.3 332.0,587.7 332.5,587.4 333.0,584.0 333.5,582.7 334.0,578.3 334.5,573.3 335.0,568.1 335.5,566.1 336.0,568.9 336.5,574.4 337.0,577.3 337.5,582.9 338.0,585.7 338.5,586.8 339.0,587.3 339.5,587.2 340.0,587.7 340.5,588.8 341.0,589.2 341.5,588.8 342.0,588.4 342.5,589.0 343.0,588.8 343.5,589.3 344.0,589.0 344.5,588.6 345.0,589.1 345.5,588.3 346.0,589.4 346.5,589.6 347.0,588.4 347.5,589.2 348.0,588.5 348.5,589.6 349.0,589.5 349.5,588.9 350.0,589.5 350.5,588.8 351.0,588.6 351.5,588.7 352.0,588.9 352.5,588.8 353.0,589.1 353.5,588.7 354.0,589.4 354.5,589.5 355.0,588.7 355.5,588.2 356.0,589.3 356.5,589.5 357.0,588.8 357.5,588.1 358.0,588.9 358.5,589.4 359.0,587.3 359.5,588.1 360.0,587.0 360.5,585.9 361.0,585.9 361.5,584.7 362.0,585.8 362.5,587.1 363.0,587.3 363.5,587.4 364.0,587.3 364.5,587.9 365.0,587.7 365.5,589.7 366.0,588.7 366.5,588.3 367.0,588.2 367.5,588.4 368.0,588.8 368.5,588.3 369.0,589.9 369.5,588.6 370.0,588.6 370.5,589.2 371.0,589.8 371.5,589.7 372.0,588.7 372.5,589.1 373.0,589.1 373.5,589.3 374.0,589.1 374.5,588.5 375.0,588.3 375.5,589.1 376.0,588.3 376.5,589.7 377.0,589.0 377.5,588.4 378.0,588.8 378.5,588.7 379.0,588.9 379.5,589.5 380.0,588.2 380.5,588.0 381.0,589.2 381.5,588.9 382.0,589.1 382.5,589.2 383.0,588.9 383.5,589.4 384.0,588.5 384.5,589.0 385.0,588.5 385.5,588.4 386.0,589.3 386.5,589.3 387.0,587.9 387.5,588.4 388.0,589.2 388.5,589.6 389.0,588.6 389.5,588.9 390.0,588.2 390.5,590.4 391.0,589.3 391.5,589.5 392.0,589.4 392.5,589.5 393.0,589.3 393.5,588.8 394.0,589.4 394.5,589.0 395.0,589.7 395.5,588.6 396.0,588.7 396.5,589.4 397.0,589.7 397.5,589.1 398.0,588.6 398.5,588.9 399.0,588.7 399.5,590.0 400.0,589.4 400.5,589.6 401.0,589.0 401.5,588.5 402.0,589.4 402.5,589.5 403.0,588.8 403.5,588.3 404.0,588.5 404.5,587.1 405.0,586.6 405.5,584.1 406.0,581.9 406.5,581.0 407.0,580.2 407.5,581.7 408.0,582.3 408.5,584.5 409.0,585.5 409.5,586.3 410.0,587.0 410.5,588.5 411.0,587.8 411.5,589.2 412.0,589.5 412.5,588.6 413.0,589.8 413.5,589.0 414.0,589.6 414.5,588.8 415.0,589.5 415.5,588.5 416.0,589.3 416.5,588.7 417.0,588.9 417.5,589.3 418.0,589.1 418.5,589.0 419.0,589.4 419.5,589.4 420.0,588.2 420.5,589.3 421.0,589.4 421.5,588.6 422.0,589.2 422.5,588.3 423.0,589.8 423.5,588.9 424.0,589.0 424.5,589.7 425.0,588.9 425.5,589.3 426.0,588.4 426.5,588.7 427.0,588.2 427.5,588.9 428.0,589.6 428.5,589.1 429.0,589.5 429.5,588.4 430.0,588.5 430.5,588.7 431.0,589.3 431.5,589.2 432.0,589.0 432.5,589.3 433.0,588.9 433.5,589.0 434.0,589.7 434.5,588.7 435.0,589.1 435.5,589.9 436.0,589.1 436.5,589.4 437.0,588.7 437.5,590.1 438.0,587.8 438.5,588.4 439.0,588.4 439.5,589.9 440.0,589.2 440.5,588.8 441.0,588.3 441.5,589.2 442.0,589.0 442.5,588.5 443.0,588.0 443.5,588.2 444.0,588.8 444.5,588.8 445.0,588.5 445.5,588.2 446.0,586.9 446.5,587.2 447.0,585.4 447.5,584.2 448.0,582.3 448.5,579.9 449.0,578.9 449.5,580.8 450.0,582.2 450.5,583.9 451.0,584.4 451.5,587.2 452.0,588.2 452.5,588.9 453.0,588.1 453.5,588.2 454.0,588.4 454.5,589.2 455.0,588.2 455.5,588.8 456.0,588.4 456.5,589.1 457.0,588.1 457.5,589.2 458.0,588.7 458.5,588.9 459.0,589.3 459.5,589.6 460.0,588.1 460.5,589.5 461.0,589.3 461.5,588.8 462.0,589.7 462.5,589.0 463.0,589.6 463.5,588.6 464.0,588.4 464.5,589.5 465.0,589.9 465.5,588.9 466.0,588.9 466.5,587.8 467.0,586.7 467.5,586.4 468.0,586.2 468.5,583.4 469.0,583.7 469.5,583.3 470.0,585.4 470.5,587.0 471.0,586.7 471.5,587.8 472.0,589.1 472.5,588.5 473.0,588.0 473.5,588.1 474.0,587.7 474.5,589.3 475.0,588.5 475.5,589.5 476.0,589.4 476.5,588.6 477.0,588.7 477.5,589.4 478.0,589.1 478.5,589.1 479.0,588.1 479.5,589.4 480.0,588.4 480.5,587.6 481.0,588.5 481.5,589.0 482.0,589.8 482.5,588.3 483.0,587.6 483.5,589.3 484.0,587.9 484.5,587.1 485.0,585.7 485.5,583.9 486.0,582.5 486.5,578.3 487.0,575.3 487.5,574.2 488.0,576.5 488.5,578.1 489.0,582.0 489.5,584.6 490.0,586.4 490.5,586.8 491.0,588.2 491.5,589.0 492.0,588.3 492.5,588.0 493.0,587.9 493.5,588.9 494.0,588.7 494.5,588.8 495.0,588.9 495.5,588.1 496.0,589.4 496.5,589.1 497.0,589.0 497.5,589.1 498.0,589.5 498.5,589.0 499.0,588.5 499.5,589.6 500.0,588.8 500.5,588.6 501.0,588.1 501.5,589.0 502.0,588.4 502.5,588.7 503.0,589.2 503.5,589.0 504.0,589.6 504.5,589.2 505.0,588.8 505.5,588.8 506.0,588.7 506.5,589.4 507.0,589.0 507.5,588.8 508.0,589.5 508.5,589.1 509.0,588.7 509.5,588.2 510.0,589.2 510.5,589.1 511.0,589.0 511.5,588.8 512.0,588.5 512.5,588.9 513.0,589.1 513.5,588.9 514.0,588.9 514.5,588.7 515.0,589.2 515.5,589.1 516.0,588.6 516.5,589.4 517.0,589.4 517.5,589.4 518.0,588.9 518.5,588.9 519.0,588.4 519.5,589.4 520.0,587.8 520.5,588.8 521.0,588.8 521.5,589.5 522.0,589.0 522.5,588.5 523.0,588.2 523.5,588.6 524.0,589.1 524.5,589.0 525.0,588.9 525.5,588.6 526.0,588.9 526.5,589.5 527.0,588.4 527.5,589.0 528.0,589.9 528.5,589.3 529.0,588.7 529.5,589.4 530.0,588.6 530.5,589.0 531.0,589.8 531.5,590.0 532.0,588.0 532.5,589.3 533.0,589.9 533.5,588.5 534.0,588.9 534.5,589.5 535.0,588.3 535.5,588.6 536.0,588.1 536.5,586.5 537.0,586.8 537.5,585.1 538.0,584.0 538.5,583.2 539.0,581.9 539.5,581.9 540.0,583.8 540.5,585.3 541.0,587.2 541.5,586.8 542.0,587.5 542.5,587.3 543.0,588.9 543.5,588.7 544.0,588.4 544.5,588.4 545.0,588.6 545.5,588.4 546.0,588.8 546.5,588.7 547.0,589.7 547.5,589.1 548.0,588.5 548.5,588.6 549.0,589.6 549.5,589.2 550.0,589.0 550.5,589.2 551.0,589.6 551.5,588.0 552.0,588.1 552.5,587.4 553.0,588.3 553.5,587.2 554.0,585.9 554.5,584.4 555.0,583.7 555.5,582.1 556.0,581.8 556.5,583.7 557.0,583.9 557.5,585.4 558.0,588.6 558.5,587.7 559.0,588.0 559.5,588.1 560.0,588.6 560.5,589.2 561.0,589.2 561.5,589.2 562.0,588.7 562.5,588.1 563.0,589.1 563.5,589.8 564.0,589.6 564.5,588.9 565.0,589.4 565.5,588.8 566.0,588.9 566.5,588.3 567.0,588.7 567.5,589.0 568.0,588.7 568.5,589.2 569.0,589.7 569.5,589.3 570.0,588.2 570.5,587.7 571.0,587.1 571.5,585.9 572.0,585.4 572.5,584.6 573.0,584.1 573.5,584.5 574.0,585.4 574.5,586.4 575.0,587.0 575.5,589.0 576.0,589.0 576.5,588.1 577.0,588.2 577.5,588.5 578.0,588.9 578.5,589.6 579.0,589.5 579.5,589.5 580.0,589.5 580.5,589.5 581.0,589.3 581.5,589.1 582.0,588.8 582.5,587.9 583.0,588.7 583.5,589.7 584.0,588.2 584.5,587.9 585.0,588.3 585.5,587.0 586.0,585.8 586.5,586.2 587.0,585.3 587.5,585.7 588.0,585.8 588.5,587.3 589.0,587.9 589.5,588.7 590.0,589.2 590.5,589.3 591.0,588.9 591.5,589.2 592.0,588.2 592.5,589.3 593.0,589.3 593.5,588.7 594.0,588.5 594.5,588.9 595.0,588.3 595.5,589.2 596.0,589.2 596.5,588.5 597.0,589.0 597.5,589.6 598.0,589.6 598.5,589.6 599.0,588.9 599.5,588.8 600.0,588.8 600.5,589.3 601.0,590.3 601.5,589.8 602.0,589.9 602.5,589.7 603.0,588.1 603.5,588.9 604.0,588.8 604.5,589.7 605.0,589.9 605.5,588.6 606.0,589.0 606.5,589.3 607.0,588.7 607.5,588.7 608.0,588.6 608.5,589.5 609.0,588.5 609.5,589.6 610.0,589.0 610.5,589.4 611.0,589.8 611.5,588.6 612.0,588.6 612.5,589.2 613.0,588.4 613.5,588.6 614.0,588.9 614.5,589.1 615.0,588.3 615.5,588.8 616.0,589.3 616.5,589.7 617.0,587.9 617.5,589.7 618.0,589.5 618.5,588.4 619.0,588.2 619.5,589.2 620.0,588.8 620.5,589.1 621.0,589.5 621.5,588.8 622.0,589.1 622.5,589.3 623.0,589.5 623.5,590.0 624.0,589.9 624.5,589.1 625.0,588.8 625.5,590.2 626.0,589.3 626.5,589.1 627.0,588.3 627.5,589.2 628.0,588.3 628.5,588.4 629.0,587.8 629.5,588.1 630.0,588.0 630.5,586.5 631.0,586.0 631.5,585.5 632.0,584.1 632.5,583.8 633.0,584.3 633.5,584.8 634.0,586.9 634.5,586.8 635.0,588.4 635.5,588.9 636.0,587.9 636.5,588.7 637.0,588.5 637.5,588.2 638.0,588.7 638.5,588.8 639.0,589.3 639.5,589.5 640.0,588.4 640.5,588.8 641.0,589.3 641.5,589.6 642.0,587.7 642.5,589.7 643.0,588.9 643.5,589.8 644.0,588.8 644.5,588.5 645.0,589.0 645.5,589.6 646.0,589.0 646.5,587.7 647.0,589.4 647.5,588.1 648.0,588.5 648.5,588.4 649.0,588.0 649.5,588.3 650.0,588.5 650.5,588.7 651.0,589.0 651.5,588.8 652.0,588.2 652.5,588.9 653.0,589.5 653.5,589.5 654.0,589.0 654.5,589.3 655.0,589.4 655.5,589.6 656.0,589.8 656.5,588.6 657.0,588.6 657.5,589.5 658.0,589.4 658.5,589.1 659.0,586.4 659.5,586.9 660.0,584.5 660.5,586.1 661.0,585.5 661.5,585.8 662.0,586.3 662.5,587.8 663.0,587.6 663.5,588.8 664.0,588.8 664.5,588.9 665.0,589.0 665.5,588.9 666.0,588.3 666.5,589.3 667.0,589.3 667.5,588.9 668.0,589.4 668.5,589.5 669.0,588.3 669.5,588.9 670.0,588.7 670.5,588.5 671.0,589.2 671.5,588.5 672.0,588.8 672.5,589.1 673.0,589.2 673.5,589.2 674.0,590.2 674.5,588.7 675.0,589.1 675.5,588.3 676.0,589.3 676.5,589.6 677.0,589.7 677.5,588.7 678.0,588.8 678.5,589.7 679.0,588.9 679.5,589.5 680.0,588.5 680.5,589.8 681.0,589.6 681.5,589.3 682.0,588.6 682.5,588.9 683.0,589.1 683.5,589.1 684.0,588.9 684.5,588.9 685.0,589.1 685.5,589.8 686.0,587.9 686.5,588.2 687.0,588.2 687.5,588.6 688.0,588.0 688.5,589.3 689.0,589.1 689.5,588.9 690.0,588.6 690.5,589.1 691.0,589.1 691.5,589.2 692.0,588.6 692.5,589.3 693.0,588.2 693.5,589.6 694.0,587.3 694.5,588.6 695.0,588.2 695.5,589.3 696.0,588.0 696.5,589.8 697.0,587.8 697.5,589.6 698.0,588.4 698.5,587.8 699.0,587.7 699.5,588.3 700.0,587.5 700.5,585.9 701.0,588.1 701.5,587.9 702.0,587.3 702.5,588.9 703.0,588.0 703.5,588.9 704.0,589.0 704.5,588.5 705.0,589.3 705.5,588.4 706.0,589.0 706.5,588.7 707.0,588.9 707.5,590.0 708.0,589.0 708.5,588.4 709.0,588.9 709.5,588.6 710.0,589.0 710.5,589.1 711.0,589.0 711.5,589.0 712.0,588.7 712.5,589.2 713.0,589.6 713.5,588.7 714.0,589.0 714.5,589.0 715.0,589.7 715.5,589.6 716.0,588.6 716.5,589.0 717.0,588.2 717.5,588.5 718.0,589.0 718.5,589.3 719.0,589.5 719.5,588.8 720.0,588.3 720.5,589.2 721.0,588.9 721.5,589.2 722.0,589.1 722.5,589.4 723.0,589.4 723.5,589.5 724.0,588.7 724.5,589.5 725.0,588.7 725.5,589.0 726.0,590.0 726.5,589.2 727.0,588.3 727.5,589.8 728.0,589.5 728.5,589.6 729.0,589.1 729.5,589.1 730.0,588.8 730.5,588.5 731.0,589.7 731.5,588.6 732.0,588.4 732.5,588.2 733.0,589.2 733.5,588.3 734.0,587.2 734.5,587.1 735.0,587.3 735.5,587.6 736.0,586.5 736.5,588.3 737.0,588.1 737.5,588.1 738.0,588.4 738.5,589.2 739.0,589.8 739.5,589.0 740.0,589.2 740.5,588.5 741.0,589.2 741.5,589.4 742.0,588.1 742.5,588.7 743.0,589.4 743.5,588.0 744.0,588.8 744.5,589.3 745.0,588.1 745.5,588.8 746.0,589.0 746.5,589.5 747.0,588.3 747.5,589.6 748.0,589.2 748.5,589.7 749.0,589.6 749.5,589.2 750.0,589.3 750.5,588.0 751.0,588.3 751.5,588.4 752.0,588.8 752.5,589.5 753.0,588.0 753.5,588.8 754.0,588.3 754.5,588.1 755.0,589.8 755.5,589.1 756.0,589.9 756.5,589.7 757.0,588.5 757.5,588.0 758.0,590.1 758.5,588.8 759.0,588.4 759.5,589.4 760.0,589.1 760.5,588.6 761.0,588.8 761.5,589.1 762.0,589.0 762.5,589.4 763.0,588.8 763.5,588.8 764.0,589.3 764.5,589.2 765.0,589.6 765.5,588.9 766.0,588.9 766.5,588.4 767.0,589.8 767.5,588.2 768.0,589.1 768.5,588.5 769.0,589.2 769.5,589.4 770.0,588.1 770.5,588.9 771.0,588.0 771.5,589.8 772.0,588.7 772.5,588.1 773.0,588.6 773.5,589.7 774.0,589.8 774.5,589.6 775.0,588.5 775.5,588.8 776.0,589.8 776.5,588.4 777.0,588.6 777.5,588.1 778.0,587.7 778.5,588.8 779.0,588.2 779.5,587.8 780.0,587.8 780.5,588.1 781.0,588.6 781.5,588.1 782.0,588.2 782.5,588.0 783.0,589.3 783.5,588.5 784.0,588.1 784.5,588.8 785.0,588.9 785.5,589.4 786.0,589.5 786.5,588.6 787.0,588.5 787.5,588.8 788.0,588.3 788.5,588.9 789.0,589.2 789.5,589.0 790.0,588.1 790.5,588.3 791.0,589.7 791.5,588.4 792.0,589.4 792.5,589.3 793.0,588.8 793.5,588.5 794.0,589.1 794.5,588.5 795.0,588.9 795.5,589.1 796.0,588.6 796.5,588.9 797.0,588.8 797.5,588.3 798.0,588.9 798.5,588.6 799.0,588.0 799.5,588.8 800.0,588.8 800.5,588.7 801.0,587.9 801.5,589.4 802.0,589.4 802.5,589.4 803.0,589.2 803.5,588.3 804.0,589.1 804.5,588.5 805.0,590.2 805.5,588.7 806.0,589.4 806.5,588.1 807.0,588.4 807.5,588.7 808.0,589.4 808.5,589.3 809.0,589.2 809.5,588.0 810.0,589.6 810.5,588.5 811.0,589.9 811.5,590.0 812.0,589.5 812.5,589.5 813.0,588.3 813.5,590.4 814.0,589.1 814.5,589.5 815.0,588.5 815.5,589.0 816.0,588.3 816.5,588.9 817.0,589.0 817.5,589.1 818.0,589.8 818.5,589.3 819.0,589.1 819.5,589.0 820.0,590.1 820.5,588.7 821.0,589.7 821.5,587.9 822.0,588.5 822.5,589.2 823.0,588.9 823.5,590.7 824.0,590.4 824.5,588.2 825.0,588.4 825.5,588.9 826.0,590.0 826.5,589.6 827.0,589.2 827.5,588.2 828.0,588.5 828.5,587.5 829.0,588.2 829.5,589.2 830.0,589.4 830.5,588.3 831.0,589.1 831.5,589.9 832.0,589.1 832.5,588.8 833.0,589.3 833.5,589.3 834.0,589.0 834.5,588.7 835.0,588.8 835.5,589.1 836.0,588.7 836.5,589.7 837.0,589.5 837.5,589.6 838.0,590.1 838.5,589.9 839.0,589.8 839.5,589.2 840.0,588.9 840.5,590.3 841.0,588.6 841.5,588.7 842.0,588.5 842.5,589.1 843.0,589.2 843.5,589.6 844.0,588.9 844.5,588.0 845.0,589.2 845.5,589.5 846.0,589.0 846.5,588.9 847.0,589.3 847.5,589.8 848.0,589.0 848.5,588.2 849.0,588.7 849.5,588.9 850.0,588.0 850.5,589.4 851.0,588.6 851.5,589.3 852.0,589.1 852.5,588.8 853.0,589.9 853.5,588.7 854.0,588.6 854.5,589.2 855.0,589.5 855.5,589.0 856.0,588.5 856.5,589.4 857.0,589.3 857.5,590.1 858.0,588.9 858.5,589.1 859.0,588.7 859.5,588.2 860.0,589.0 860.5,589.5 861.0,588.4 861.5,588.6 862.0,588.4 862.5,589.7 863.0,588.7 863.5,589.3 864.0,588.5 864.5,589.0 865.0,588.7 865.5,587.7 866.0,589.0 866.5,589.3 867.0,587.9 867.5,588.9 868.0,588.8 868.5,588.4 869.0,588.9 869.5,587.9 870.0,589.1 870.5,589.7 871.0,588.3 871.5,589.0 872.0,589.8 872.5,589.1 873.0,588.7 873.5,588.5 874.0,589.1 874.5,588.9 875.0,589.3 875.5,588.2 876.0,589.6 876.5,588.8 877.0,589.4 877.5,588.6 878.0,588.3 878.5,588.7 879.0,588.5 879.5,588.8 880.0,589.4 880.5,589.6 881.0,589.1 881.5,588.7 882.0,588.8 882.5,589.3 883.0,589.6 883.5,588.8 884.0,588.9 884.5,588.6 885.0,589.1 885.5,589.5 886.0,587.4 886.5,589.1 887.0,588.7 887.5,587.7 888.0,589.2 888.5,589.0 889.0,589.2 889.5,588.2 890.0,590.2 890.5,589.1 891.0,588.8 891.5,589.8 892.0,589.4 892.5,589.5 893.0,589.6 893.5,587.9 894.0,589.9 894.5,588.8 895.0,589.2 895.5,589.5 896.0,588.6 896.5,589.2 897.0,589.4" fill="none" stroke="#000" stroke-width="2.2" stroke-linejoin="round"/>
<text x="566.8" y="188.2" font-family="'Liberation Serif','Times New Roman',serif" font-size="36.5" font-weight="bold" fill="#000" ><tspan dy="-0.0">Ni/Co-MOF@Ti</tspan><tspan font-size="22.6" dy="8.0">3</tspan><tspan dy="-8.0">C</tspan><tspan font-size="22.6" dy="8.0">2</tspan></text>
<text x="746.5" y="361.0" font-family="'Liberation Serif','Times New Roman',serif" font-size="36.5" font-weight="bold" fill="#000" ><tspan dy="-0.0">Ti</tspan><tspan font-size="22.6" dy="8.0">3</tspan><tspan dy="-8.0">C</tspan><tspan font-size="22.6" dy="8.0">2</tspan></text>
<text x="545.0" y="428.0" font-family="'Liberation Serif','Times New Roman',serif" font-size="36.5" font-weight="bold" fill="#000" ><tspan dy="-0.0">Ti</tspan><tspan font-size="22.6" dy="8.0">3</tspan><tspan dy="-8.0">C</tspan><tspan font-size="22.6" dy="8.0">2</tspan></text>
<text x="645.2" y="428.0" font-family="'Liberation Serif','Times New Roman',serif" font-size="36.3" font-weight="bold" text-anchor="start" fill="#000" >PDF#52-0875</text>
<text x="654.5" y="565.2" font-family="'Liberation Serif','Times New Roman',serif" font-size="36.5" font-weight="bold" text-anchor="start" fill="#000" >Ni/Co-MOF</text>
<text x="494.2" y="670.0" font-family="'Liberation Serif','Times New Roman',serif" font-size="36.4" font-weight="bold" text-anchor="start" fill="#000" >Ni/Co-MOF PDF#671073</text>
<rect x="1066.8" y="76.3" width="853.4000000000001" height="631.7" fill="none" stroke="#000" stroke-width="2.8"/>
<line x1="1066.8" y1="678.5" x2="1078.8" y2="678.5" stroke="#000" stroke-width="2.6"/>
<line x1="1066.8" y1="618.2" x2="1073.3" y2="618.2" stroke="#000" stroke-width="2.6"/>
<line x1="1066.8" y1="558.0" x2="1078.8" y2="558.0" stroke="#000" stroke-width="2.6"/>
<line x1="1066.8" y1="497.8" x2="1073.3" y2="497.8" stroke="#000" stroke-width="2.6"/>
<line x1="1066.8" y1="437.5" x2="1078.8" y2="437.5" stroke="#000" stroke-width="2.6"/>
<line x1="1066.8" y1="377.2" x2="1073.3" y2="377.2" stroke="#000" stroke-width="2.6"/>
<line x1="1066.8" y1="317.0" x2="1078.8" y2="317.0" stroke="#000" stroke-width="2.6"/>
<line x1="1066.8" y1="256.8" x2="1073.3" y2="256.8" stroke="#000" stroke-width="2.6"/>
<line x1="1066.8" y1="196.5" x2="1078.8" y2="196.5" stroke="#000" stroke-width="2.6"/>
<line x1="1066.8" y1="136.2" x2="1073.3" y2="136.2" stroke="#000" stroke-width="2.6"/>
<text x="1051.5" y="689.0" font-family="'Liberation Serif','Times New Roman',serif" font-size="35.5" font-weight="bold" text-anchor="end" fill="#000" >0</text>
<text x="1051.5" y="568.5" font-family="'Liberation Serif','Times New Roman',serif" font-size="35.5" font-weight="bold" text-anchor="end" fill="#000" >200</text>
<text x="1051.5" y="448.0" font-family="'Liberation Serif','Times New Roman',serif" font-size="35.5" font-weight="bold" text-anchor="end" fill="#000" >400</text>
<text x="1051.5" y="327.5" font-family="'Liberation Serif','Times New Roman',serif" font-size="35.5" font-weight="bold" text-anchor="end" fill="#000" >600</text>
<text x="1051.5" y="207.0" font-family="'Liberation Serif','Times New Roman',serif" font-size="35.5" font-weight="bold" text-anchor="end" fill="#000" >800</text>
<text x="1051.5" y="86.5" font-family="'Liberation Serif','Times New Roman',serif" font-size="35.5" font-weight="bold" text-anchor="end" fill="#000" >1000</text>
<line x1="1106.6" y1="708.0" x2="1106.6" y2="695.0" stroke="#000" stroke-width="2.6"/>
<line x1="1188.0" y1="708.0" x2="1188.0" y2="701.5" stroke="#000" stroke-width="2.6"/>
<line x1="1269.4" y1="708.0" x2="1269.4" y2="695.0" stroke="#000" stroke-width="2.6"/>
<line x1="1350.8" y1="708.0" x2="1350.8" y2="701.5" stroke="#000" stroke-width="2.6"/>
<line x1="1432.2" y1="708.0" x2="1432.2" y2="695.0" stroke="#000" stroke-width="2.6"/>
<line x1="1513.6" y1="708.0" x2="1513.6" y2="701.5" stroke="#000" stroke-width="2.6"/>
<line x1="1595.0" y1="708.0" x2="1595.0" y2="695.0" stroke="#000" stroke-width="2.6"/>
<line x1="1676.4" y1="708.0" x2="1676.4" y2="701.5" stroke="#000" stroke-width="2.6"/>
<line x1="1757.8" y1="708.0" x2="1757.8" y2="695.0" stroke="#000" stroke-width="2.6"/>
<line x1="1839.2" y1="708.0" x2="1839.2" y2="701.5" stroke="#000" stroke-width="2.6"/>
<text x="1106.6" y="747.5" font-family="'Liberation Serif','Times New Roman',serif" font-size="34" font-weight="bold" text-anchor="middle" fill="#000" >0.0</text>
<text x="1269.4" y="747.5" font-family="'Liberation Serif','Times New Roman',serif" font-size="34" font-weight="bold" text-anchor="middle" fill="#000" >0.2</text>
<text x="1432.2" y="747.5" font-family="'Liberation Serif','Times New Roman',serif" font-size="34" font-weight="bold" text-anchor="middle" fill="#000" >0.4</text>
<text x="1595.0" y="747.5" font-family="'Liberation Serif','Times New Roman',serif" font-size="34" font-weight="bold" text-anchor="middle" fill="#000" >0.6</text>
<text x="1757.8" y="747.5" font-family="'Liberation Serif','Times New Roman',serif" font-size="34" font-weight="bold" text-anchor="middle" fill="#000" >0.8</text>
<text x="1920.6" y="747.5" font-family="'Liberation Serif','Times New Roman',serif" font-size="34" font-weight="bold" text-anchor="middle" fill="#000" >1.0</text>
<text x="1202.5" y="815.8" font-family="'Liberation Serif','Times New Roman',serif" font-size="56" font-weight="bold" fill="#000" letter-spacing="0.4">Relative Pressure <tspan font-style="italic">P/P</tspan><tspan font-style="italic" font-size="34" dy="16">0</tspan></text>
<text transform="translate(972.5,699.4) rotate(-90)" font-family="'Liberation Sans',Arial,sans-serif" font-size="48.6" font-weight="bold" fill="#000">Volume Adsorbed / cm<tspan font-size="25" dy="-25">3</tspan><tspan dy="25"> g</tspan><tspan font-size="25" dy="-25">-1</tspan></text>
<line x1="1091" y1="111.7" x2="1182" y2="111.7" stroke="#ff0000" stroke-width="2.6"/>
<circle cx="1136" cy="111.7" r="3.4" fill="#ff0000" stroke="#ff0000" stroke-width="1.5"/>
<line x1="1091" y1="174.3" x2="1182" y2="174.3" stroke="#0000ff" stroke-width="2.6"/>
<circle cx="1136" cy="174.3" r="3.4" fill="#0000ff" stroke="#0000ff" stroke-width="1.5"/>
<text x="1190.0" y="125.1" font-family="'Liberation Serif','Times New Roman',serif" font-size="39.7" font-weight="bold" text-anchor="start" fill="#000" >Ni/Co-MOF@Ti</text>
<text x="1469.5" y="137.5" font-family="'Liberation Serif','Times New Roman',serif" font-size="24" font-weight="bold" text-anchor="start" fill="#000" >3</text>
<text x="1483.0" y="125.1" font-family="'Liberation Serif','Times New Roman',serif" font-size="39.7" font-weight="bold" text-anchor="start" fill="#000" >C</text>
<text x="1513.5" y="137.5" font-family="'Liberation Serif','Times New Roman',serif" font-size="24" font-weight="bold" text-anchor="start" fill="#000" >2</text>
<text x="1535.0" y="125.1" font-family="'Liberation Serif','Times New Roman',serif" font-size="39.7" font-weight="bold" text-anchor="start" fill="#000" >film</text>
<text x="1191.5" y="187.3" font-family="'Liberation Serif','Times New Roman',serif" font-size="39.7" font-weight="bold" text-anchor="start" fill="#000" >Ti</text>
<text x="1228.0" y="199.7" font-family="'Liberation Serif','Times New Roman',serif" font-size="24" font-weight="bold" text-anchor="start" fill="#000" >3</text>
<text x="1240.5" y="187.3" font-family="'Liberation Serif','Times New Roman',serif" font-size="39.7" font-weight="bold" text-anchor="start" fill="#000" >C</text>
<text x="1270.0" y="199.7" font-family="'Liberation Serif','Times New Roman',serif" font-size="24" font-weight="bold" text-anchor="start" fill="#000" >2</text>
<text x="1287.0" y="187.3" font-family="'Liberation Serif','Times New Roman',serif" font-size="39.7" font-weight="bold" text-anchor="start" fill="#000" >MXene film</text>
<polyline points="1106.7,657.5 1127.7,647.9 1150.7,641.6 1173.2,641.0 1193.9,638.7 1206.0,637.6 1225.6,635.9 1245.8,634.7 1265.9,633.0 1286.1,631.0 1306.3,629.5 1326.4,627.5 1346.6,625.8 1366.7,623.2 1386.9,620.6 1407.1,618.6 1427.2,617.1 1447.4,616.3 1469.0,616.3 1489.1,614.3 1509.3,611.9 1528.0,607.1 1549.6,604.7 1528.4,606.9 1548.7,605.0 1569.5,603.4 1589.8,598.8 1609.5,596.9 1630.3,595.3 1650.9,589.3 1670.9,588.0 1690.6,581.2 1712.2,578.5 1731.1,574.4 1751.4,569.0 1771.7,556.9 1786.6,550.1 1794.7,545.2 1808.2,537.1 1910.9,220.8 1916.3,193.3" fill="none" stroke="#ff0000" stroke-width="2.2" stroke-linejoin="round"/>
<circle cx="1106.7" cy="657.5" r="3.3" fill="#ff0000" stroke="#ff0000" stroke-width="1.4"/>
<circle cx="1127.7" cy="647.9" r="3.3" fill="#ff0000" stroke="#ff0000" stroke-width="1.4"/>
<circle cx="1150.7" cy="641.6" r="3.3" fill="#ff0000" stroke="#ff0000" stroke-width="1.4"/>
<circle cx="1173.2" cy="641.0" r="3.3" fill="#ff0000" stroke="#ff0000" stroke-width="1.4"/>
<circle cx="1193.9" cy="638.7" r="3.3" fill="#ff0000" stroke="#ff0000" stroke-width="1.4"/>
<circle cx="1206.0" cy="637.6" r="3.3" fill="#ff0000" stroke="#ff0000" stroke-width="1.4"/>
<circle cx="1225.6" cy="635.9" r="3.3" fill="#ff0000" stroke="#ff0000" stroke-width="1.4"/>
<circle cx="1245.8" cy="634.7" r="3.3" fill="#ff0000" stroke="#ff0000" stroke-width="1.4"/>
<circle cx="1265.9" cy="633.0" r="3.3" fill="#ff0000" stroke="#ff0000" stroke-width="1.4"/>
<circle cx="1286.1" cy="631.0" r="3.3" fill="#ff0000" stroke="#ff0000" stroke-width="1.4"/>
<circle cx="1306.3" cy="629.5" r="3.3" fill="#ff0000" stroke="#ff0000" stroke-width="1.4"/>
<circle cx="1326.4" cy="627.5" r="3.3" fill="#ff0000" stroke="#ff0000" stroke-width="1.4"/>
<circle cx="1346.6" cy="625.8" r="3.3" fill="#ff0000" stroke="#ff0000" stroke-width="1.4"/>
<circle cx="1366.7" cy="623.2" r="3.3" fill="#ff0000" stroke="#ff0000" stroke-width="1.4"/>
<circle cx="1386.9" cy="620.6" r="3.3" fill="#ff0000" stroke="#ff0000" stroke-width="1.4"/>
<circle cx="1407.1" cy="618.6" r="3.3" fill="#ff0000" stroke="#ff0000" stroke-width="1.4"/>
<circle cx="1427.2" cy="617.1" r="3.3" fill="#ff0000" stroke="#ff0000" stroke-width="1.4"/>
<circle cx="1447.4" cy="616.3" r="3.3" fill="#ff0000" stroke="#ff0000" stroke-width="1.4"/>
<circle cx="1469.0" cy="616.3" r="3.3" fill="#ff0000" stroke="#ff0000" stroke-width="1.4"/>
<circle cx="1489.1" cy="614.3" r="3.3" fill="#ff0000" stroke="#ff0000" stroke-width="1.4"/>
<circle cx="1509.3" cy="611.9" r="3.3" fill="#ff0000" stroke="#ff0000" stroke-width="1.4"/>
<circle cx="1528.0" cy="607.1" r="3.3" fill="#ff0000" stroke="#ff0000" stroke-width="1.4"/>
<circle cx="1549.6" cy="604.7" r="3.3" fill="#ff0000" stroke="#ff0000" stroke-width="1.4"/>
<circle cx="1528.4" cy="606.9" r="3.3" fill="#ff0000" stroke="#ff0000" stroke-width="1.4"/>
<circle cx="1548.7" cy="605.0" r="3.3" fill="#ff0000" stroke="#ff0000" stroke-width="1.4"/>
<circle cx="1569.5" cy="603.4" r="3.3" fill="#ff0000" stroke="#ff0000" stroke-width="1.4"/>
<circle cx="1589.8" cy="598.8" r="3.3" fill="#ff0000" stroke="#ff0000" stroke-width="1.4"/>
<circle cx="1609.5" cy="596.9" r="3.3" fill="#ff0000" stroke="#ff0000" stroke-width="1.4"/>
<circle cx="1630.3" cy="595.3" r="3.3" fill="#ff0000" stroke="#ff0000" stroke-width="1.4"/>
<circle cx="1650.9" cy="589.3" r="3.3" fill="#ff0000" stroke="#ff0000" stroke-width="1.4"/>
<circle cx="1670.9" cy="588.0" r="3.3" fill="#ff0000" stroke="#ff0000" stroke-width="1.4"/>
<circle cx="1690.6" cy="581.2" r="3.3" fill="#ff0000" stroke="#ff0000" stroke-width="1.4"/>
<circle cx="1712.2" cy="578.5" r="3.3" fill="#ff0000" stroke="#ff0000" stroke-width="1.4"/>
<circle cx="1731.1" cy="574.4" r="3.3" fill="#ff0000" stroke="#ff0000" stroke-width="1.4"/>
<circle cx="1751.4" cy="569.0" r="3.3" fill="#ff0000" stroke="#ff0000" stroke-width="1.4"/>
<circle cx="1771.7" cy="556.9" r="3.3" fill="#ff0000" stroke="#ff0000" stroke-width="1.4"/>
<circle cx="1786.6" cy="550.1" r="3.3" fill="#ff0000" stroke="#ff0000" stroke-width="1.4"/>
<circle cx="1794.7" cy="545.2" r="3.3" fill="#ff0000" stroke="#ff0000" stroke-width="1.4"/>
<circle cx="1808.2" cy="537.1" r="3.3" fill="#ff0000" stroke="#ff0000" stroke-width="1.4"/>
<circle cx="1910.9" cy="220.8" r="3.3" fill="#ff0000" stroke="#ff0000" stroke-width="1.4"/>
<circle cx="1916.3" cy="193.3" r="3.3" fill="#ff0000" stroke="#ff0000" stroke-width="1.4"/>
<polyline points="1909.6,190.0 1893.3,249.5 1858.2,337.9 1824.4,375.7 1806.8,386.6 1796.0,397.4 1779.8,406.3 1760.3,430.3 1738.7,447.4 1717.1,466.3 1695.5,477.1 1675.2,482.5 1655.4,486.6 1636.0,491.2 1616.2,492.3 1596.5,500.9 1577.0,506.3 1557.6,511.4 1537.8,527.1 1518.9,531.2 1510.8,536.6 1508.1,544.7 1504.1,550.1 1502.7,560.9 1507.0,540.8 1505.0,546.6 1503.5,553.8 1502.1,561.0 1500.7,568.2 1499.2,573.9 1496.3,579.7 1492.0,591.2 1484.8,601.3 1474.7,605.6 1453.1,611.4 1427.2,616.3" fill="none" stroke="#ff0000" stroke-width="2.2" stroke-linejoin="round"/>
<circle cx="1909.6" cy="190.0" r="3.3" fill="#ff0000" stroke="#ff0000" stroke-width="1.4"/>
<circle cx="1893.3" cy="249.5" r="3.3" fill="#ff0000" stroke="#ff0000" stroke-width="1.4"/>
<circle cx="1858.2" cy="337.9" r="3.3" fill="#ff0000" stroke="#ff0000" stroke-width="1.4"/>
<circle cx="1824.4" cy="375.7" r="3.3" fill="#ff0000" stroke="#ff0000" stroke-width="1.4"/>
<circle cx="1806.8" cy="386.6" r="3.3" fill="#ff0000" stroke="#ff0000" stroke-width="1.4"/>
<circle cx="1796.0" cy="397.4" r="3.3" fill="#ff0000" stroke="#ff0000" stroke-width="1.4"/>
<circle cx="1779.8" cy="406.3" r="3.3" fill="#ff0000" stroke="#ff0000" stroke-width="1.4"/>
<circle cx="1760.3" cy="430.3" r="3.3" fill="#ff0000" stroke="#ff0000" stroke-width="1.4"/>
<circle cx="1738.7" cy="447.4" r="3.3" fill="#ff0000" stroke="#ff0000" stroke-width="1.4"/>
<circle cx="1717.1" cy="466.3" r="3.3" fill="#ff0000" stroke="#ff0000" stroke-width="1.4"/>
<circle cx="1695.5" cy="477.1" r="3.3" fill="#ff0000" stroke="#ff0000" stroke-width="1.4"/>
<circle cx="1675.2" cy="482.5" r="3.3" fill="#ff0000" stroke="#ff0000" stroke-width="1.4"/>
<circle cx="1655.4" cy="486.6" r="3.3" fill="#ff0000" stroke="#ff0000" stroke-width="1.4"/>
<circle cx="1636.0" cy="491.2" r="3.3" fill="#ff0000" stroke="#ff0000" stroke-width="1.4"/>
<circle cx="1616.2" cy="492.3" r="3.3" fill="#ff0000" stroke="#ff0000" stroke-width="1.4"/>
<circle cx="1596.5" cy="500.9" r="3.3" fill="#ff0000" stroke="#ff0000" stroke-width="1.4"/>
<circle cx="1577.0" cy="506.3" r="3.3" fill="#ff0000" stroke="#ff0000" stroke-width="1.4"/>
<circle cx="1557.6" cy="511.4" r="3.3" fill="#ff0000" stroke="#ff0000" stroke-width="1.4"/>
<circle cx="1537.8" cy="527.1" r="3.3" fill="#ff0000" stroke="#ff0000" stroke-width="1.4"/>
<circle cx="1518.9" cy="531.2" r="3.3" fill="#ff0000" stroke="#ff0000" stroke-width="1.4"/>
<circle cx="1510.8" cy="536.6" r="3.3" fill="#ff0000" stroke="#ff0000" stroke-width="1.4"/>
<circle cx="1508.1" cy="544.7" r="3.3" fill="#ff0000" stroke="#ff0000" stroke-width="1.4"/>
<circle cx="1504.1" cy="550.1" r="3.3" fill="#ff0000" stroke="#ff0000" stroke-width="1.4"/>
<circle cx="1502.7" cy="560.9" r="3.3" fill="#ff0000" stroke="#ff0000" stroke-width="1.4"/>
<circle cx="1507.0" cy="540.8" r="3.3" fill="#ff0000" stroke="#ff0000" stroke-width="1.4"/>
<circle cx="1505.0" cy="546.6" r="3.3" fill="#ff0000" stroke="#ff0000" stroke-width="1.4"/>
<circle cx="1503.5" cy="553.8" r="3.3" fill="#ff0000" stroke="#ff0000" stroke-width="1.4"/>
<circle cx="1502.1" cy="561.0" r="3.3" fill="#ff0000" stroke="#ff0000" stroke-width="1.4"/>
<circle cx="1500.7" cy="568.2" r="3.3" fill="#ff0000" stroke="#ff0000" stroke-width="1.4"/>
<circle cx="1499.2" cy="573.9" r="3.3" fill="#ff0000" stroke="#ff0000" stroke-width="1.4"/>
<circle cx="1496.3" cy="579.7" r="3.3" fill="#ff0000" stroke="#ff0000" stroke-width="1.4"/>
<circle cx="1492.0" cy="591.2" r="3.3" fill="#ff0000" stroke="#ff0000" stroke-width="1.4"/>
<circle cx="1484.8" cy="601.3" r="3.3" fill="#ff0000" stroke="#ff0000" stroke-width="1.4"/>
<circle cx="1474.7" cy="605.6" r="3.3" fill="#ff0000" stroke="#ff0000" stroke-width="1.4"/>
<circle cx="1453.1" cy="611.4" r="3.3" fill="#ff0000" stroke="#ff0000" stroke-width="1.4"/>
<circle cx="1427.2" cy="616.3" r="3.3" fill="#ff0000" stroke="#ff0000" stroke-width="1.4"/>
<polyline points="1143.5,673.3 1175.2,672.7 1196.8,672.7 1209.8,672.1 1229.9,672.1 1248.7,671.9 1270.3,671.3 1289.0,671.0 1310.6,671.0 1330.7,670.4 1350.9,669.8 1371.1,669.6 1391.2,669.3 1411.4,669.0 1431.5,668.1 1451.7,668.1 1471.9,667.0 1492.0,666.4 1512.2,665.5 1532.4,664.7 1552.5,664.1 1532.4,665.5 1552.7,665.5 1572.5,664.5 1593.3,664.2 1613.5,662.8 1633.8,662.3 1653.6,661.8 1674.4,660.9 1694.6,660.4 1713.6,660.1 1733.8,660.1 1754.1,658.2 1774.4,657.7 1794.7,656.1 1813.6,654.5 1832.5,652.3 1836.6,651.5 1851.4,646.6 1856.9,644.7 1873.1,612.3 1886.6,582.5 1900.1,569.0 1900.1,539.3 1900.1,504.1" fill="none" stroke="#0000ff" stroke-width="2.2" stroke-linejoin="round"/>
<circle cx="1143.5" cy="673.3" r="3.3" fill="#0000ff" stroke="#0000ff" stroke-width="1.4"/>
<circle cx="1175.2" cy="672.7" r="3.3" fill="#0000ff" stroke="#0000ff" stroke-width="1.4"/>
<circle cx="1196.8" cy="672.7" r="3.3" fill="#0000ff" stroke="#0000ff" stroke-width="1.4"/>
<circle cx="1209.8" cy="672.1" r="3.3" fill="#0000ff" stroke="#0000ff" stroke-width="1.4"/>
<circle cx="1229.9" cy="672.1" r="3.3" fill="#0000ff" stroke="#0000ff" stroke-width="1.4"/>
<circle cx="1248.7" cy="671.9" r="3.3" fill="#0000ff" stroke="#0000ff" stroke-width="1.4"/>
<circle cx="1270.3" cy="671.3" r="3.3" fill="#0000ff" stroke="#0000ff" stroke-width="1.4"/>
<circle cx="1289.0" cy="671.0" r="3.3" fill="#0000ff" stroke="#0000ff" stroke-width="1.4"/>
<circle cx="1310.6" cy="671.0" r="3.3" fill="#0000ff" stroke="#0000ff" stroke-width="1.4"/>
<circle cx="1330.7" cy="670.4" r="3.3" fill="#0000ff" stroke="#0000ff" stroke-width="1.4"/>
<circle cx="1350.9" cy="669.8" r="3.3" fill="#0000ff" stroke="#0000ff" stroke-width="1.4"/>
<circle cx="1371.1" cy="669.6" r="3.3" fill="#0000ff" stroke="#0000ff" stroke-width="1.4"/>
<circle cx="1391.2" cy="669.3" r="3.3" fill="#0000ff" stroke="#0000ff" stroke-width="1.4"/>
<circle cx="1411.4" cy="669.0" r="3.3" fill="#0000ff" stroke="#0000ff" stroke-width="1.4"/>
<circle cx="1431.5" cy="668.1" r="3.3" fill="#0000ff" stroke="#0000ff" stroke-width="1.4"/>
<circle cx="1451.7" cy="668.1" r="3.3" fill="#0000ff" stroke="#0000ff" stroke-width="1.4"/>
<circle cx="1471.9" cy="667.0" r="3.3" fill="#0000ff" stroke="#0000ff" stroke-width="1.4"/>
<circle cx="1492.0" cy="666.4" r="3.3" fill="#0000ff" stroke="#0000ff" stroke-width="1.4"/>
<circle cx="1512.2" cy="665.5" r="3.3" fill="#0000ff" stroke="#0000ff" stroke-width="1.4"/>
<circle cx="1532.4" cy="664.7" r="3.3" fill="#0000ff" stroke="#0000ff" stroke-width="1.4"/>
<circle cx="1552.5" cy="664.1" r="3.3" fill="#0000ff" stroke="#0000ff" stroke-width="1.4"/>
<circle cx="1532.4" cy="665.5" r="3.3" fill="#0000ff" stroke="#0000ff" stroke-width="1.4"/>
<circle cx="1552.7" cy="665.5" r="3.3" fill="#0000ff" stroke="#0000ff" stroke-width="1.4"/>
<circle cx="1572.5" cy="664.5" r="3.3" fill="#0000ff" stroke="#0000ff" stroke-width="1.4"/>
<circle cx="1593.3" cy="664.2" r="3.3" fill="#0000ff" stroke="#0000ff" stroke-width="1.4"/>
<circle cx="1613.5" cy="662.8" r="3.3" fill="#0000ff" stroke="#0000ff" stroke-width="1.4"/>
<circle cx="1633.8" cy="662.3" r="3.3" fill="#0000ff" stroke="#0000ff" stroke-width="1.4"/>
<circle cx="1653.6" cy="661.8" r="3.3" fill="#0000ff" stroke="#0000ff" stroke-width="1.4"/>
<circle cx="1674.4" cy="660.9" r="3.3" fill="#0000ff" stroke="#0000ff" stroke-width="1.4"/>
<circle cx="1694.6" cy="660.4" r="3.3" fill="#0000ff" stroke="#0000ff" stroke-width="1.4"/>
<circle cx="1713.6" cy="660.1" r="3.3" fill="#0000ff" stroke="#0000ff" stroke-width="1.4"/>
<circle cx="1733.8" cy="660.1" r="3.3" fill="#0000ff" stroke="#0000ff" stroke-width="1.4"/>
<circle cx="1754.1" cy="658.2" r="3.3" fill="#0000ff" stroke="#0000ff" stroke-width="1.4"/>
<circle cx="1774.4" cy="657.7" r="3.3" fill="#0000ff" stroke="#0000ff" stroke-width="1.4"/>
<circle cx="1794.7" cy="656.1" r="3.3" fill="#0000ff" stroke="#0000ff" stroke-width="1.4"/>
<circle cx="1813.6" cy="654.5" r="3.3" fill="#0000ff" stroke="#0000ff" stroke-width="1.4"/>
<circle cx="1832.5" cy="652.3" r="3.3" fill="#0000ff" stroke="#0000ff" stroke-width="1.4"/>
<circle cx="1836.6" cy="651.5" r="3.3" fill="#0000ff" stroke="#0000ff" stroke-width="1.4"/>
<circle cx="1851.4" cy="646.6" r="3.3" fill="#0000ff" stroke="#0000ff" stroke-width="1.4"/>
<circle cx="1856.9" cy="644.7" r="3.3" fill="#0000ff" stroke="#0000ff" stroke-width="1.4"/>
<circle cx="1873.1" cy="612.3" r="3.3" fill="#0000ff" stroke="#0000ff" stroke-width="1.4"/>
<circle cx="1886.6" cy="582.5" r="3.3" fill="#0000ff" stroke="#0000ff" stroke-width="1.4"/>
<circle cx="1900.1" cy="569.0" r="3.3" fill="#0000ff" stroke="#0000ff" stroke-width="1.4"/>
<circle cx="1900.1" cy="539.3" r="3.3" fill="#0000ff" stroke="#0000ff" stroke-width="1.4"/>
<circle cx="1900.1" cy="504.1" r="3.3" fill="#0000ff" stroke="#0000ff" stroke-width="1.4"/>
<polyline points="1900.1,504.1 1898.8,539.3 1893.3,546.1 1886.6,582.5 1873.1,613.6 1847.4,631.2 1833.9,637.4 1821.7,640.7 1804.1,644.7 1783.9,648.0 1762.2,651.5 1739.3,654.7 1716.3,656.9 1689.2,658.8 1662.2,660.9 1635.2,661.8 1608.1,662.8 1581.1,663.7 1554.1,665.0 1527.0,665.8 1512.2,666.9" fill="none" stroke="#0000ff" stroke-width="2.2" stroke-linejoin="round"/>
<circle cx="1900.1" cy="504.1" r="3.3" fill="#0000ff" stroke="#0000ff" stroke-width="1.4"/>
<circle cx="1898.8" cy="539.3" r="3.3" fill="#0000ff" stroke="#0000ff" stroke-width="1.4"/>
<circle cx="1893.3" cy="546.1" r="3.3" fill="#0000ff" stroke="#0000ff" stroke-width="1.4"/>
<circle cx="1886.6" cy="582.5" r="3.3" fill="#0000ff" stroke="#0000ff" stroke-width="1.4"/>
<circle cx="1873.1" cy="613.6" r="3.3" fill="#0000ff" stroke="#0000ff" stroke-width="1.4"/>
<circle cx="1847.4" cy="631.2" r="3.3" fill="#0000ff" stroke="#0000ff" stroke-width="1.4"/>
<circle cx="1833.9" cy="637.4" r="3.3" fill="#0000ff" stroke="#0000ff" stroke-width="1.4"/>
<circle cx="1821.7" cy="640.7" r="3.3" fill="#0000ff" stroke="#0000ff" stroke-width="1.4"/>
<circle cx="1804.1" cy="644.7" r="3.3" fill="#0000ff" stroke="#0000ff" stroke-width="1.4"/>
<circle cx="1783.9" cy="648.0" r="3.3" fill="#0000ff" stroke="#0000ff" stroke-width="1.4"/>
<circle cx="1762.2" cy="651.5" r="3.3" fill="#0000ff" stroke="#0000ff" stroke-width="1.4"/>
<circle cx="1739.3" cy="654.7" r="3.3" fill="#0000ff" stroke="#0000ff" stroke-width="1.4"/>
<circle cx="1716.3" cy="656.9" r="3.3" fill="#0000ff" stroke="#0000ff" stroke-width="1.4"/>
<circle cx="1689.2" cy="658.8" r="3.3" fill="#0000ff" stroke="#0000ff" stroke-width="1.4"/>
<circle cx="1662.2" cy="660.9" r="3.3" fill="#0000ff" stroke="#0000ff" stroke-width="1.4"/>
<circle cx="1635.2" cy="661.8" r="3.3" fill="#0000ff" stroke="#0000ff" stroke-width="1.4"/>
<circle cx="1608.1" cy="662.8" r="3.3" fill="#0000ff" stroke="#0000ff" stroke-width="1.4"/>
<circle cx="1581.1" cy="663.7" r="3.3" fill="#0000ff" stroke="#0000ff" stroke-width="1.4"/>
<circle cx="1554.1" cy="665.0" r="3.3" fill="#0000ff" stroke="#0000ff" stroke-width="1.4"/>
<circle cx="1527.0" cy="665.8" r="3.3" fill="#0000ff" stroke="#0000ff" stroke-width="1.4"/>
<circle cx="1512.2" cy="666.9" r="3.3" fill="#0000ff" stroke="#0000ff" stroke-width="1.4"/>
<rect x="112.5" y="832.2" width="836.7" height="619.8" fill="none" stroke="#000" stroke-width="2.8"/>
<line x1="948.4" y1="1452.0" x2="948.4" y2="1465.0" stroke="#000" stroke-width="2.4"/>
<line x1="855.4" y1="1452.0" x2="855.4" y2="1460.5" stroke="#000" stroke-width="2.4"/>
<line x1="762.5" y1="1452.0" x2="762.5" y2="1465.0" stroke="#000" stroke-width="2.4"/>
<line x1="669.5" y1="1452.0" x2="669.5" y2="1460.5" stroke="#000" stroke-width="2.4"/>
<line x1="576.6" y1="1452.0" x2="576.6" y2="1465.0" stroke="#000" stroke-width="2.4"/>
<line x1="483.6" y1="1452.0" x2="483.6" y2="1460.5" stroke="#000" stroke-width="2.4"/>
<line x1="390.7" y1="1452.0" x2="390.7" y2="1465.0" stroke="#000" stroke-width="2.4"/>
<line x1="297.8" y1="1452.0" x2="297.8" y2="1460.5" stroke="#000" stroke-width="2.4"/>
<line x1="204.8" y1="1452.0" x2="204.8" y2="1465.0" stroke="#000" stroke-width="2.4"/>
<line x1="111.9" y1="1452.0" x2="111.9" y2="1460.5" stroke="#000" stroke-width="2.4"/>
<text x="948.4" y="1498.8" font-family="'Liberation Sans',Arial,sans-serif" font-size="32.5" font-weight="normal" text-anchor="middle" fill="#222" >0</text>
<text x="762.5" y="1498.8" font-family="'Liberation Sans',Arial,sans-serif" font-size="32.5" font-weight="normal" text-anchor="middle" fill="#222" >200</text>
<text x="576.6" y="1498.8" font-family="'Liberation Sans',Arial,sans-serif" font-size="32.5" font-weight="normal" text-anchor="middle" fill="#222" >400</text>
<text x="390.7" y="1498.8" font-family="'Liberation Sans',Arial,sans-serif" font-size="32.5" font-weight="normal" text-anchor="middle" fill="#222" >600</text>
<text x="204.8" y="1498.8" font-family="'Liberation Sans',Arial,sans-serif" font-size="32.5" font-weight="normal" text-anchor="middle" fill="#222" >800</text>
<text x="278.5" y="1558.3" font-family="'Liberation Serif','Times New Roman',serif" font-size="54" font-weight="bold" text-anchor="start" fill="#000" >Binding Energy (eV)</text>
<text transform="translate(74.0,1334.3) rotate(-90)" font-family="'Liberation Serif','Times New Roman',serif" font-size="77.8" font-weight="bold" fill="#000" >Intensity</text>
<polyline points="111.9,1234.7 112.8,1235.6 113.6,1233.1 114.4,1233.8 115.2,1234.0 116.1,1236.1 116.9,1240.5 117.7,1236.3 118.5,1235.9 119.4,1235.8 120.3,1236.9 121.2,1236.3 122.1,1233.8 123.0,1236.3 123.8,1234.8 124.7,1231.4 125.6,1223.5 126.5,1219.6 127.5,1221.3 128.5,1217.3 129.5,1219.0 130.5,1218.0 131.5,1218.2 132.5,1218.9 133.5,1219.3 134.4,1220.0 135.3,1219.3 136.2,1220.1 137.1,1224.1 138.0,1222.3 138.9,1222.0 139.7,1222.0 140.6,1221.3 141.5,1223.2 142.4,1223.2 143.3,1225.4 144.2,1223.7 145.0,1222.6 146.0,1225.1 147.0,1227.1 148.0,1229.6 149.0,1228.1 150.0,1224.3 151.0,1223.9 152.0,1221.7 153.0,1221.3 153.9,1219.7 154.8,1218.1 155.6,1220.0 157.0,1229.7 158.0,1230.6 159.0,1232.6 159.9,1236.0 160.9,1234.9 161.8,1235.4 162.7,1238.1 163.6,1236.1 164.5,1240.1 165.4,1239.3 166.2,1240.4 167.1,1242.2 168.0,1244.8 168.9,1242.5 169.8,1245.3 170.7,1245.2 171.5,1243.7 172.4,1247.3 173.3,1245.8 174.2,1245.8 175.1,1247.3 176.0,1248.2 176.8,1250.5 177.7,1249.6 178.6,1253.1 179.5,1252.3 180.4,1251.9 181.3,1252.4 182.1,1254.5 183.0,1252.4 183.9,1253.0 184.8,1255.3 185.7,1258.0 186.6,1258.1 187.4,1258.7 188.4,1259.4 189.4,1257.9 190.4,1261.2 191.4,1260.4 192.2,1263.5 193.1,1262.3 193.9,1262.0 194.7,1262.4 195.6,1262.2 196.4,1261.9 197.2,1261.9 198.0,1260.6 198.9,1259.9 199.8,1262.3 200.7,1264.0 201.6,1263.7 202.5,1262.5 203.3,1263.8 204.2,1262.8 205.1,1264.1 206.0,1263.2 207.0,1265.1 208.0,1268.4 209.0,1267.9 210.0,1269.8 211.0,1269.9 212.0,1273.0 212.9,1276.8 213.9,1280.5 214.9,1278.3 215.9,1278.5 216.9,1275.2 217.9,1276.2 218.9,1272.4 219.9,1266.5 220.9,1265.3 221.9,1261.0 222.9,1257.9 224.0,1251.3 224.9,1263.7 225.9,1275.2 226.9,1276.4 227.8,1282.8 228.8,1290.6 229.8,1295.6 230.7,1299.2 231.6,1300.4 232.5,1300.8 233.4,1305.0 234.3,1305.8 235.1,1308.7 236.0,1309.0 236.9,1310.7 237.8,1309.2 238.7,1310.2 239.6,1309.5 240.4,1315.6 241.3,1311.7 242.1,1311.9 242.9,1311.5 243.7,1312.2 244.6,1312.4 245.4,1313.7 246.2,1313.2 247.1,1313.4 247.9,1312.2 248.7,1312.9 249.5,1314.5 250.4,1312.9 251.2,1313.3 252.0,1310.4 252.9,1313.6 253.7,1313.3 254.5,1314.7 255.3,1309.8 256.2,1313.5 257.0,1313.5 257.8,1313.9 258.7,1313.2 259.5,1314.4 260.3,1315.1 261.1,1314.5 262.0,1314.2 262.8,1314.5 263.6,1314.4 264.4,1315.1 265.3,1314.4 266.1,1312.9 266.9,1317.3 267.8,1313.1 268.6,1314.9 269.4,1313.2 270.2,1314.2 271.1,1313.1 271.9,1314.0 272.7,1312.8 273.6,1312.0 274.4,1313.7 275.2,1314.8 276.0,1313.3 276.9,1312.7 277.7,1311.0 278.5,1312.0 279.4,1312.4 280.2,1310.8 281.1,1310.9 281.9,1308.0 282.8,1306.7 283.7,1307.0 284.6,1308.3 285.5,1310.5 286.4,1312.3 287.2,1313.8 288.1,1313.6 289.0,1315.5 289.9,1318.0 290.8,1317.2 291.6,1321.1 292.4,1320.5 293.2,1320.5 294.0,1319.9 294.9,1322.1 295.7,1321.0 296.5,1324.0 297.3,1322.5 298.1,1320.4 298.9,1323.5 299.7,1322.2 300.6,1322.5 301.4,1323.2 302.2,1323.2 303.0,1323.6 303.8,1324.1 304.6,1323.6 305.5,1322.1 306.3,1321.2 307.1,1321.8 307.9,1323.1 308.7,1323.7 309.5,1324.7 310.3,1320.7 311.2,1322.4 312.0,1321.9 312.8,1321.8 313.6,1322.7 314.5,1322.3 315.3,1322.5 316.1,1322.2 316.9,1323.6 317.8,1324.6 318.6,1325.5 319.4,1323.0 320.3,1322.5 321.1,1323.7 321.9,1323.1 322.7,1325.6 323.6,1323.5 324.4,1324.7 325.2,1323.1 326.1,1324.4 326.9,1325.0 327.7,1326.7 328.5,1323.9 329.4,1325.3 330.2,1322.2 331.0,1323.3 331.8,1323.8 332.7,1324.2 333.5,1325.3 334.3,1325.6 335.2,1322.8 336.0,1325.5 336.8,1323.4 337.6,1327.1 338.5,1325.2 339.3,1324.8 340.1,1324.2 341.0,1324.2 341.8,1324.0 342.6,1322.9 343.4,1324.5 344.3,1323.7 345.1,1324.1 345.9,1322.9 346.8,1323.7 347.6,1321.7 348.4,1326.9 349.2,1321.3 350.1,1321.5 350.9,1323.0 351.7,1323.2 352.6,1320.6 353.4,1319.4 354.2,1319.7 355.0,1320.2 355.9,1320.4 356.7,1321.1 357.5,1322.6 358.3,1322.6 359.2,1320.4 360.0,1321.8 360.8,1322.2 361.7,1322.8 362.5,1320.8 363.3,1320.0 364.1,1321.8 365.0,1322.7 365.8,1320.1 366.6,1323.1 367.5,1322.7 368.3,1320.2 369.1,1318.4 369.9,1319.6 370.8,1319.8 371.6,1320.8 372.4,1318.0 373.3,1323.0 374.1,1322.8 374.9,1318.9 375.7,1317.4 376.6,1319.5 377.4,1320.1 378.2,1321.2 379.0,1320.3 379.9,1319.1 380.7,1316.9 381.5,1319.9 382.4,1320.3 383.2,1318.8 384.0,1319.5 384.8,1319.4 385.7,1318.7 386.5,1317.6 387.3,1319.4 388.2,1317.1 389.0,1320.6 389.8,1317.7 390.6,1319.4 391.5,1317.8 392.3,1319.1 393.1,1318.2 394.0,1319.0 394.8,1317.2 395.6,1316.1 396.4,1317.6 397.3,1317.4 398.1,1315.9 398.9,1316.8 399.7,1315.4 400.6,1317.6 401.4,1316.8 402.2,1317.2 403.1,1320.3 403.9,1317.2 404.7,1317.3 405.5,1317.6 406.4,1316.6 407.2,1316.0 408.0,1317.8 408.9,1318.0 409.7,1313.0 410.5,1316.4 411.3,1316.1 412.2,1315.8 413.0,1318.1 413.8,1315.8 414.7,1317.5 415.5,1315.7 416.3,1315.9 417.1,1317.2 418.0,1315.4 418.8,1316.2 419.6,1315.2 420.4,1315.5 421.3,1317.7 422.1,1317.6 422.9,1315.6 423.8,1315.6 424.6,1320.4 425.4,1316.5 426.2,1316.4 427.1,1318.2 427.9,1316.7 428.7,1317.4 429.6,1319.0 430.4,1319.3 431.2,1317.9 432.0,1319.9 432.9,1318.1 433.7,1318.1 434.5,1318.5 435.4,1318.2 436.2,1319.3 437.0,1319.1 437.8,1317.9 438.7,1319.1 439.5,1318.3 440.3,1318.3 441.1,1319.0 442.0,1320.5 442.8,1319.7 443.6,1321.0 444.5,1321.4 445.3,1319.3 446.1,1318.4 446.9,1318.0 447.8,1319.2 448.6,1319.7 449.4,1320.5 450.3,1316.7 451.1,1319.3 452.1,1314.9 453.2,1311.9 454.5,1266.7 455.5,1282.3 456.4,1296.4 457.3,1309.2 458.2,1320.8 459.3,1324.8 460.4,1329.0 461.2,1327.8 462.0,1329.2 462.8,1329.3 463.6,1329.4 464.4,1327.9 465.3,1329.0 466.1,1328.6 466.9,1324.9 467.7,1326.1 468.5,1324.5 469.3,1324.4 470.1,1325.4 471.0,1324.6 471.8,1326.6 472.6,1327.4 473.4,1325.3 474.3,1324.6 475.1,1324.6 475.9,1324.8 476.8,1325.5 477.6,1323.9 478.4,1325.5 479.2,1324.5 480.1,1326.1 480.9,1326.5 481.7,1327.0 482.6,1324.6 483.4,1323.1 484.2,1322.7 485.0,1324.4 485.9,1322.9 486.7,1322.5 487.5,1324.0 488.3,1323.2 489.2,1325.2 490.0,1326.7 490.8,1323.9 491.7,1324.5 492.5,1322.0 493.3,1324.1 494.1,1322.9 495.0,1322.4 495.8,1321.3 496.6,1325.6 497.5,1321.5 498.3,1322.0 499.1,1323.5 500.0,1323.9 500.8,1323.9 501.6,1323.6 502.5,1322.4 503.3,1324.5 504.2,1323.7 505.0,1321.7 505.8,1325.5 506.7,1323.1 507.5,1324.7 508.3,1321.7 509.2,1322.0 510.0,1322.8 510.8,1322.6 511.7,1324.8 512.5,1321.5 513.4,1323.7 514.2,1321.6 515.1,1322.8 516.0,1321.8 516.9,1320.2 517.8,1323.0 518.7,1319.5 519.5,1316.9 520.4,1309.9 521.2,1307.5 522.1,1303.8 523.0,1313.1 524.0,1321.8 524.8,1322.0 525.7,1320.1 526.6,1324.1 527.5,1324.6 528.4,1326.3 529.3,1328.6 530.1,1330.7 531.0,1329.0 531.9,1330.1 532.8,1330.0 533.7,1330.6 534.6,1330.9 535.4,1330.3 536.3,1330.6 537.2,1331.9 538.0,1333.6 538.9,1332.3 539.7,1333.2 540.5,1329.5 541.3,1331.4 542.2,1331.5 543.0,1331.6 543.8,1329.1 544.7,1328.4 545.5,1328.0 546.3,1330.1 547.1,1333.4 548.0,1330.7 548.8,1328.8 549.6,1330.7 550.5,1329.8 551.3,1329.6 552.1,1328.1 552.9,1326.8 553.7,1327.6 554.5,1329.0 555.3,1328.4 556.1,1329.4 556.9,1326.3 557.7,1328.8 558.5,1327.4 559.4,1327.4 560.2,1328.6 561.0,1326.7 561.8,1327.0 562.6,1327.4 563.4,1327.2 564.2,1327.3 565.0,1327.3 565.8,1325.8 566.6,1324.0 567.4,1327.0 568.2,1323.4 569.0,1323.3 569.8,1321.4 570.6,1319.0 571.5,1320.2 572.3,1320.7 573.1,1320.7 573.9,1319.5 574.7,1319.9 575.5,1319.6 576.3,1319.0 577.1,1319.4 577.9,1321.1 578.7,1322.4 579.5,1322.2 580.3,1325.8 581.1,1323.2 581.9,1325.4 582.7,1326.4 583.6,1324.2 584.4,1328.5 585.2,1327.8 586.0,1329.3 586.8,1329.3 587.6,1328.5 588.4,1331.4 589.2,1330.8 590.0,1331.4 590.8,1330.2 591.6,1327.1 592.4,1330.1 593.2,1329.2 594.0,1328.7 594.8,1327.8 595.6,1325.9 596.5,1326.9 597.3,1325.3 598.1,1328.9 598.9,1324.5 599.7,1322.9 600.5,1323.4 601.3,1325.5 602.1,1322.8 602.9,1320.3 603.7,1325.0 604.5,1323.5 605.3,1322.3 606.1,1323.6 606.9,1321.4 607.7,1320.9 608.6,1323.4 609.4,1321.4 610.2,1322.6 611.0,1321.8 611.8,1322.6 612.6,1321.6 613.4,1318.7 614.2,1322.0 615.0,1320.4 615.8,1321.9 616.6,1320.8 617.4,1322.2 618.2,1319.9 619.0,1317.6 619.8,1319.6 620.7,1320.5 621.5,1319.2 622.3,1318.9 623.1,1321.2 623.9,1319.0 624.7,1320.3 625.5,1319.0 626.3,1316.9 627.1,1317.3 627.9,1318.0 628.7,1318.6 629.5,1317.0 630.3,1316.1 631.1,1316.4 631.9,1316.9 632.7,1316.3 633.6,1316.5 634.4,1319.4 635.2,1317.3 636.0,1315.7 636.8,1316.6 637.6,1319.0 638.4,1318.2 639.2,1317.7 640.0,1316.5 640.8,1316.5 641.6,1318.6 642.4,1319.3 643.2,1317.8 644.0,1318.5 644.8,1318.1 645.7,1313.4 646.5,1312.0 647.3,1312.1 648.1,1310.8 648.9,1308.5 649.7,1309.0 650.5,1309.4 651.3,1308.3 652.1,1306.5 652.9,1309.2 653.7,1308.3 654.5,1308.0 655.3,1306.4 656.1,1308.5 656.9,1306.0 657.8,1308.9 658.6,1306.8 659.4,1310.0 660.2,1312.4 661.0,1311.8 661.8,1316.8 662.6,1317.8 663.4,1321.0 664.2,1323.5 665.0,1327.5 665.8,1329.9 666.6,1334.6 667.4,1338.4 668.2,1340.1 669.0,1341.4 669.8,1346.7 670.7,1351.0 671.6,1349.2 672.5,1347.8 673.4,1347.7 674.3,1347.3 675.1,1338.5 675.9,1339.9 676.7,1335.1 677.5,1330.9 678.3,1325.8 679.1,1322.9 679.9,1318.2 680.7,1310.3 681.5,1307.9 682.8,1298.4 682.9,1250.0 683.2,1100.0 683.5,1000.0 684.2,940.0 684.7,920.0 685.2,950.0 685.6,1050.0 686.0,1150.0 686.3,1300.0 686.5,1378.0 688.8,1388.1 689.6,1391.0 690.4,1391.3 691.2,1391.4 692.0,1391.7 692.9,1392.4 693.7,1391.8 694.5,1392.3 695.3,1390.7 696.2,1390.1 697.0,1390.9 697.8,1389.8 698.6,1390.6 699.5,1392.1 700.3,1389.6 701.1,1390.1 701.9,1392.5 702.8,1391.0 703.6,1391.6 704.4,1390.1 705.2,1390.3 706.1,1391.2 706.9,1393.7 707.7,1392.2 708.5,1389.5 709.4,1392.2 710.2,1392.8 711.0,1392.6 711.8,1390.3 712.6,1391.8 713.4,1394.6 714.2,1390.8 715.0,1392.4 715.8,1391.1 716.6,1390.5 717.4,1391.6 718.2,1393.5 719.0,1393.7 719.9,1391.3 720.7,1391.8 721.5,1391.4 722.3,1389.9 723.1,1393.3 723.9,1394.6 724.7,1394.6 725.5,1392.2 726.3,1394.5 727.1,1394.2 727.9,1392.5 728.7,1393.0 729.5,1392.6 730.3,1393.4 731.1,1395.4 732.0,1392.1 732.8,1391.8 733.6,1394.4 734.4,1393.4 735.2,1391.0 736.0,1392.1 736.8,1392.4 737.6,1392.7 738.4,1393.9 739.2,1394.7 740.0,1393.3 740.8,1393.7 741.6,1392.6 742.4,1394.9 743.2,1395.3 744.0,1393.3 744.9,1392.7 745.7,1396.3 746.5,1394.9 747.3,1392.6 748.1,1391.7 748.9,1393.4 749.7,1395.3 750.5,1393.2 751.3,1393.6 752.1,1393.3 752.9,1394.7 753.7,1395.7 754.5,1392.4 755.3,1393.6 756.1,1393.8 757.0,1393.3 757.8,1392.6 758.6,1395.1 759.4,1394.2 760.2,1394.8 761.0,1395.8 761.8,1393.4 762.6,1394.5 763.4,1393.3 764.2,1393.6 765.0,1394.1 765.8,1393.5 766.6,1391.7 767.4,1395.5 768.2,1393.7 769.1,1392.1 769.9,1390.7 770.7,1393.4 771.5,1394.2 772.3,1394.6 773.1,1394.7 773.9,1392.8 774.7,1394.0 775.5,1391.3 776.3,1393.3 777.1,1394.3 777.9,1392.3 778.7,1392.8 779.5,1393.1 780.3,1393.1 781.1,1394.8 782.0,1391.5 782.8,1394.6 783.6,1391.4 784.4,1392.2 785.2,1392.1 786.0,1393.0 786.8,1392.6 787.6,1393.9 788.4,1393.3 789.2,1396.1 790.0,1393.9 790.8,1393.2 791.6,1394.0 792.4,1394.4 793.2,1393.4 794.1,1392.3 794.9,1392.8 795.7,1394.1 796.5,1394.9 797.3,1394.6 798.1,1393.9 798.9,1394.8 799.7,1393.5 800.5,1394.4 801.3,1395.9 802.1,1395.5 802.9,1395.8 803.7,1393.6 804.5,1394.3 805.3,1392.8 806.2,1395.2 807.0,1393.6 807.8,1392.5 808.6,1393.5 809.4,1394.5 810.2,1391.4 811.0,1392.4 811.8,1395.5 812.6,1394.4 813.4,1394.2 814.2,1392.3 815.0,1396.3 815.8,1395.6 816.6,1395.3 817.4,1393.0 818.2,1395.2 819.1,1395.9 819.9,1394.1 820.7,1394.2 821.5,1393.9 822.3,1395.3 823.1,1394.3 823.9,1394.2 824.7,1392.8 825.5,1392.6 826.3,1395.8 827.1,1396.7 827.9,1395.8 828.7,1396.5 829.5,1394.1 830.3,1394.7 831.2,1395.4 832.0,1394.8 832.8,1397.2 833.6,1393.6 834.4,1394.6 835.2,1395.0 836.0,1394.7 836.8,1396.7 837.6,1393.3 838.4,1397.3 839.2,1397.2 840.0,1396.5 840.8,1398.0 841.6,1399.3 842.4,1396.7 843.3,1397.2 844.1,1396.5 844.9,1396.4 845.7,1394.9 846.5,1394.4 847.3,1395.8 848.1,1394.1 848.9,1395.7 849.7,1395.3 850.5,1393.5 851.3,1394.3 852.1,1393.7 852.9,1393.2 853.7,1394.5 854.5,1392.9 855.3,1394.4 856.2,1392.9 857.0,1397.3 857.8,1394.9 858.6,1396.3 859.4,1398.9 860.2,1399.3 861.0,1396.7 861.8,1395.8 862.6,1398.0 863.4,1397.1 864.2,1398.2 865.0,1396.2 865.8,1399.5 866.6,1400.1 867.4,1396.5 868.3,1397.4 869.1,1397.6 869.9,1399.5 870.7,1396.2 871.5,1399.0 872.3,1398.6 873.1,1398.0 873.9,1400.0 874.7,1396.7 875.5,1397.6 876.3,1398.4 877.1,1400.4 877.9,1399.1 878.7,1398.6 879.5,1400.1 880.4,1398.7 881.2,1398.4 882.0,1398.6 882.8,1399.3 883.6,1402.1 884.4,1397.2 885.2,1398.7 886.0,1398.0 886.8,1397.7 887.6,1399.8 888.4,1398.7 889.2,1397.6 890.0,1395.2 890.8,1393.7 891.6,1394.1 892.4,1392.3 893.3,1391.0 894.1,1396.2 894.9,1397.5 895.7,1401.7 896.5,1404.0 897.3,1403.3 898.1,1404.6 898.9,1403.1 899.7,1405.5 900.5,1404.1 901.3,1407.1 902.1,1406.8 902.9,1406.8 903.7,1408.1 904.5,1406.7 905.4,1405.4 906.2,1408.2 907.0,1406.7 907.8,1407.8 908.6,1406.4 909.4,1407.7 910.2,1405.2 911.0,1404.7 911.8,1404.5 912.6,1407.2 913.4,1403.8 914.2,1404.0 915.0,1404.5 915.8,1406.5 916.6,1406.6 917.4,1405.0 918.3,1406.9 919.1,1406.2 919.9,1407.3 920.7,1406.9 921.5,1404.7 922.3,1405.8 923.1,1405.2 923.9,1405.9 924.7,1405.5 925.5,1405.2 926.3,1406.0 927.1,1405.1 927.9,1406.2 928.7,1405.6 929.5,1405.6 930.4,1407.2 931.2,1407.5 932.0,1408.1 932.8,1407.5 933.6,1406.7 934.4,1407.5 935.2,1407.7 936.0,1405.5 936.8,1406.6 937.6,1410.1 938.4,1408.4 939.2,1405.1 940.0,1408.6 940.8,1409.1 941.6,1407.5 942.5,1411.9 943.3,1410.6 944.1,1410.3 944.9,1409.2 945.7,1410.1 946.5,1410.6 947.3,1410.3 948.1,1409.0 948.9,1409.7" fill="none" stroke="#000" stroke-width="2.5" stroke-linejoin="round"/>
<ellipse cx="146" cy="1220.6" rx="24.3" ry="36.7" fill="none" stroke="#ff0000" stroke-width="2.8"/>
<ellipse cx="218.2" cy="1262.6" rx="24.9" ry="37.1" fill="none" stroke="#ff0000" stroke-width="2.8"/>
<ellipse cx="453.8" cy="1291.4" rx="17.8" ry="56" fill="none" stroke="#ff0000" stroke-width="2.8"/>
<ellipse cx="519.3" cy="1310.7" rx="24.5" ry="36.7" fill="none" stroke="#ff0000" stroke-width="2.8"/>
<ellipse cx="682.2" cy="1154.8" rx="19.8" ry="259.7" fill="none" stroke="#ff0000" stroke-width="2.8"/>
<text x="172.9" y="1199.0" font-family="'Liberation Serif','Times New Roman',serif" font-size="40.5" font-weight="bold" text-anchor="start" fill="#000" letter-spacing="0.5">Ni2p</text>
<text x="247.0" y="1240.1" font-family="'Liberation Serif','Times New Roman',serif" font-size="40.5" font-weight="bold" text-anchor="start" fill="#000" letter-spacing="1.5">Co2p</text>
<text x="429.9" y="1212.3" font-family="'Liberation Serif','Times New Roman',serif" font-size="40.5" font-weight="bold" text-anchor="start" fill="#000" >O1s</text>
<text x="547.3" y="1288.9" font-family="'Liberation Serif','Times New Roman',serif" font-size="40.5" font-weight="bold" text-anchor="start" fill="#000" >Ti2p</text>
<text x="699.7" y="926.0" font-family="'Liberation Serif','Times New Roman',serif" font-size="40.5" font-weight="bold" text-anchor="start" fill="#000" letter-spacing="1.5">C1s</text>
<line x1="1053.0" y1="833.0" x2="1924.9" y2="833.0" stroke="#6a6a6a" stroke-width="3.2" stroke-linecap="square"/>
<line x1="1053.0" y1="833.0" x2="1053.0" y2="1452.6" stroke="#777" stroke-width="3.4" stroke-linecap="square"/>
<line x1="1924.9" y1="833.0" x2="1924.9" y2="1452.6" stroke="#5a5a5a" stroke-width="2.9" stroke-linecap="square"/>
<line x1="1053.0" y1="1452.6" x2="1924.9" y2="1452.6" stroke="#444" stroke-width="2.4" stroke-linecap="square"/>
<line x1="1062.3" y1="1452.6" x2="1062.3" y2="1459.1" stroke="#3a3a3a" stroke-width="2.6"/>
<line x1="1112.0" y1="1452.6" x2="1112.0" y2="1463.6" stroke="#3a3a3a" stroke-width="2.6"/>
<line x1="1161.7" y1="1452.6" x2="1161.7" y2="1459.1" stroke="#3a3a3a" stroke-width="2.6"/>
<line x1="1211.3" y1="1452.6" x2="1211.3" y2="1463.6" stroke="#3a3a3a" stroke-width="2.6"/>
<line x1="1261.0" y1="1452.6" x2="1261.0" y2="1459.1" stroke="#3a3a3a" stroke-width="2.6"/>
<line x1="1310.6" y1="1452.6" x2="1310.6" y2="1463.6" stroke="#3a3a3a" stroke-width="2.6"/>
<line x1="1360.2" y1="1452.6" x2="1360.2" y2="1459.1" stroke="#3a3a3a" stroke-width="2.6"/>
<line x1="1409.9" y1="1452.6" x2="1409.9" y2="1463.6" stroke="#3a3a3a" stroke-width="2.6"/>
<line x1="1459.5" y1="1452.6" x2="1459.5" y2="1459.1" stroke="#3a3a3a" stroke-width="2.6"/>
<line x1="1509.2" y1="1452.6" x2="1509.2" y2="1463.6" stroke="#3a3a3a" stroke-width="2.6"/>
<line x1="1558.8" y1="1452.6" x2="1558.8" y2="1459.1" stroke="#3a3a3a" stroke-width="2.6"/>
<line x1="1608.5" y1="1452.6" x2="1608.5" y2="1463.6" stroke="#3a3a3a" stroke-width="2.6"/>
<line x1="1658.2" y1="1452.6" x2="1658.2" y2="1459.1" stroke="#3a3a3a" stroke-width="2.6"/>
<line x1="1707.8" y1="1452.6" x2="1707.8" y2="1463.6" stroke="#3a3a3a" stroke-width="2.6"/>
<line x1="1757.4" y1="1452.6" x2="1757.4" y2="1459.1" stroke="#3a3a3a" stroke-width="2.6"/>
<line x1="1807.1" y1="1452.6" x2="1807.1" y2="1463.6" stroke="#3a3a3a" stroke-width="2.6"/>
<line x1="1856.8" y1="1452.6" x2="1856.8" y2="1459.1" stroke="#3a3a3a" stroke-width="2.6"/>
<line x1="1906.4" y1="1452.6" x2="1906.4" y2="1463.6" stroke="#3a3a3a" stroke-width="2.6"/>
<text x="1112.0" y="1499.3" font-family="'Liberation Sans',Arial,sans-serif" font-size="34.5" font-weight="normal" text-anchor="middle" fill="#404040" >885</text>
<text x="1211.3" y="1499.3" font-family="'Liberation Sans',Arial,sans-serif" font-size="34.5" font-weight="normal" text-anchor="middle" fill="#404040" >880</text>
<text x="1310.6" y="1499.3" font-family="'Liberation Sans',Arial,sans-serif" font-size="34.5" font-weight="normal" text-anchor="middle" fill="#404040" >875</text>
<text x="1409.9" y="1499.3" font-family="'Liberation Sans',Arial,sans-serif" font-size="34.5" font-weight="normal" text-anchor="middle" fill="#404040" >870</text>
<text x="1509.2" y="1499.3" font-family="'Liberation Sans',Arial,sans-serif" font-size="34.5" font-weight="normal" text-anchor="middle" fill="#404040" >865</text>
<text x="1608.5" y="1499.3" font-family="'Liberation Sans',Arial,sans-serif" font-size="34.5" font-weight="normal" text-anchor="middle" fill="#404040" >860</text>
<text x="1707.8" y="1499.3" font-family="'Liberation Sans',Arial,sans-serif" font-size="34.5" font-weight="normal" text-anchor="middle" fill="#404040" >855</text>
<text x="1807.1" y="1499.3" font-family="'Liberation Sans',Arial,sans-serif" font-size="34.5" font-weight="normal" text-anchor="middle" fill="#404040" >850</text>
<text x="1906.4" y="1499.3" font-family="'Liberation Sans',Arial,sans-serif" font-size="34.5" font-weight="normal" text-anchor="middle" fill="#404040" >845</text>
<text x="1237.0" y="1554.8" font-family="'Liberation Serif','Times New Roman',serif" font-size="54" font-weight="bold" text-anchor="start" fill="#000" >Binding Energy (eV)</text>
<text transform="translate(1028.7,1322.7) rotate(-90)" font-family="'Liberation Serif','Times New Roman',serif" font-size="77.7" font-weight="bold" fill="#000" >Intensity</text>
<text x="1082.6" y="891.8" font-family="'Liberation Serif','Times New Roman',serif" font-size="37" font-weight="bold" text-anchor="start" fill="#000" letter-spacing="0.8">Ni 2p</text>
<text x="1317.5" y="961.7" font-family="'Liberation Serif','Times New Roman',serif" font-size="34.5" font-weight="normal" fill="#333" ><tspan dy="-0.0">Ni 2p</tspan><tspan font-size="23.5" dy="8.0">1/2</tspan></text>
<text x="1674.5" y="939.3" font-family="'Liberation Serif','Times New Roman',serif" font-size="34.5" font-weight="normal" fill="#333" ><tspan dy="-0.0">Ni 2p</tspan><tspan font-size="23.5" dy="8.0">3/2</tspan></text>
<polyline points="1054.5,1067.1 1055.6,1095.3 1056.7,1087.3 1057.8,1081.3 1058.9,1083.0 1060.0,1080.1 1061.1,1085.0 1062.2,1087.5 1063.3,1078.7 1064.4,1054.0 1065.5,1078.3 1066.6,1071.6 1067.7,1068.8 1068.8,1092.2 1069.9,1064.8 1071.0,1098.3 1072.1,1081.9 1073.2,1076.2 1074.3,1081.7 1075.4,1121.7 1076.5,1111.7 1077.6,1090.2 1078.7,1106.3 1079.8,1088.8 1080.9,1080.5 1082.0,1086.1 1083.1,1099.0 1084.2,1090.7 1085.3,1079.3 1086.4,1101.9 1087.5,1086.6 1088.6,1088.7 1089.7,1107.1 1090.8,1082.8 1091.9,1108.3 1093.0,1078.9 1094.1,1072.3 1095.2,1075.0 1096.3,1083.1 1097.4,1079.5 1098.5,1074.9 1099.6,1051.1 1100.7,1055.0 1101.8,1064.3 1102.9,1075.8 1104.0,1084.2 1105.1,1036.8 1106.2,1064.4 1107.3,1060.8 1108.4,1065.5 1109.5,1069.9 1110.6,1057.2 1111.7,1051.7 1112.8,1080.5 1113.9,1077.2 1115.0,1062.5 1116.1,1065.6 1117.2,1057.9 1118.3,1048.4 1119.4,1073.0 1120.5,1056.2 1121.6,1050.2 1122.7,1056.1 1123.8,1083.4 1124.9,1068.5 1126.0,1066.0 1127.1,1064.1 1128.2,1073.6 1129.3,1072.0 1130.4,1047.0 1131.5,1059.8 1132.6,1054.4 1133.7,1064.4 1134.8,1060.1 1135.9,1035.1 1137.0,1072.3 1138.1,1059.8 1139.2,1033.6 1140.3,1067.3 1141.4,1053.3 1142.5,1056.2 1143.6,1049.7 1144.7,1050.4 1145.8,1041.6 1146.9,1026.8 1148.0,1039.3 1149.1,1048.8 1150.2,1046.8 1151.3,1054.2 1152.4,1045.0 1153.5,1018.7 1154.6,1055.3 1155.7,1064.6 1156.8,1030.1 1157.9,1042.6 1159.0,1029.9 1160.1,1050.8 1161.2,1034.8 1162.3,1069.6 1163.4,1042.4 1164.5,1038.3 1165.6,1036.8 1166.7,1018.1 1167.8,1033.5 1168.9,1034.6 1170.0,1039.4 1171.1,1015.7 1172.2,1042.5 1173.3,1056.7 1174.4,1034.4 1175.5,1037.5 1176.6,1041.8 1177.7,1025.2 1178.8,1028.2 1179.9,1043.8 1181.0,1033.3 1182.1,1015.0 1183.2,1007.4 1184.3,1056.5 1185.4,1033.4 1186.5,1008.2 1187.6,1029.2 1188.7,1035.3 1189.8,1028.2 1190.9,975.9 1192.0,1048.4 1193.1,1033.4 1194.2,1023.4 1195.3,1033.9 1196.4,1022.4 1197.5,1020.6 1198.6,1035.0 1199.7,999.3 1200.8,1034.9 1201.9,1050.5 1203.0,1030.2 1204.1,1031.0 1205.2,1037.8 1206.3,1035.3 1207.4,1027.5 1208.5,1011.1 1209.6,1023.4 1210.7,1008.6 1211.8,1002.3 1212.9,1019.2 1214.0,1017.8 1215.1,1027.8 1216.2,987.0 1217.3,1020.4 1218.4,1021.2 1219.5,1014.2 1220.6,1057.2 1221.7,1001.9 1222.8,1016.7 1223.9,1008.1 1225.0,1012.7 1226.1,1001.7 1227.2,1012.6 1228.3,1023.7 1229.4,1018.5 1230.5,1023.1 1231.6,1011.6 1232.7,1042.5 1233.8,1016.7 1234.9,1027.4 1236.0,1036.0 1237.1,1027.8 1238.2,1039.9 1239.3,1033.2 1240.4,1051.2 1241.5,1036.4 1242.6,1033.5 1243.7,1017.7 1244.8,1032.0 1245.9,1037.6 1247.0,1029.7 1248.1,1012.7 1249.2,1017.0 1250.3,1020.6 1251.4,1023.5 1252.5,1006.5 1253.6,1046.1 1254.7,1022.3 1255.8,1025.0 1256.9,1018.4 1258.0,1023.5 1259.1,1047.7 1260.2,1013.2 1261.3,1019.1 1262.4,1013.7 1263.5,1020.8 1264.6,1047.6 1265.7,1023.3 1266.8,1027.6 1267.9,1013.6 1269.0,1033.7 1270.1,1043.3 1271.2,1036.9 1272.3,1039.8 1273.4,1055.7 1274.5,1053.3 1275.6,1046.1 1276.7,1038.0 1277.8,1029.1 1278.9,1067.4 1280.0,1028.3 1281.1,1055.0 1282.2,1045.3 1283.3,1039.6 1284.4,1060.2 1285.5,1059.2 1286.6,1067.1 1287.7,1040.5 1288.8,1059.8 1289.9,1042.8 1291.0,1043.5 1292.1,1080.9 1293.2,1066.3 1294.3,1029.7 1295.4,1073.6 1296.5,1080.5 1297.6,1055.0 1298.7,1056.7 1299.8,1064.4 1300.9,1037.8 1302.0,1063.3 1303.1,1073.2 1304.2,1055.5 1305.3,1075.5 1306.4,1088.5 1307.5,1037.7 1308.6,1038.9 1309.7,1069.8 1310.8,1066.9 1311.9,1063.1 1313.0,1046.6 1314.1,1043.1 1315.2,1047.0 1316.3,1075.3 1317.4,1041.9 1318.5,1044.9 1319.6,1061.6 1320.7,1044.9 1321.8,1034.2 1322.9,1061.6 1324.0,1046.6 1325.1,1032.6 1326.2,1034.9 1327.3,1049.5 1328.4,1032.9 1329.5,1039.7 1330.6,1046.7 1331.7,1047.4 1332.8,1012.6 1333.9,1028.4 1335.0,1029.7 1336.1,1034.3 1337.2,1041.7 1338.3,1045.8 1339.4,1025.4 1340.5,1016.7 1341.6,1031.4 1342.7,1020.8 1343.8,1047.8 1344.9,1030.0 1346.0,1025.1 1347.1,1035.0 1348.2,1013.5 1349.3,1015.4 1350.4,1015.3 1351.5,1023.1 1352.6,1028.6 1353.7,1020.0 1354.8,1017.2 1355.9,1003.2 1357.0,1008.4 1358.1,999.5 1359.2,1015.1 1360.3,992.9 1361.4,999.5 1362.5,1003.6 1363.6,1010.8 1364.7,993.7 1365.8,1001.0 1366.9,995.2 1368.0,990.2 1369.1,1020.6 1370.2,1013.8 1371.3,990.6 1372.4,996.9 1373.5,1014.9 1374.6,1000.1 1375.7,993.7 1376.8,1020.3 1377.9,998.2 1379.0,998.6 1380.1,1009.1 1381.2,993.3 1382.3,1002.0 1383.4,1003.9 1384.5,1011.6 1385.6,994.6 1386.7,1017.6 1387.8,1009.9 1388.9,1028.6 1390.0,1010.9 1391.1,1002.8 1392.2,1004.1 1393.3,999.3 1394.4,1015.9 1395.5,1018.9 1396.6,1034.8 1397.7,1029.9 1398.8,1023.8 1399.9,1051.8 1401.0,1039.7 1402.1,1053.4 1403.2,1072.9 1404.3,1076.0 1405.4,1057.5 1406.5,1070.5 1407.6,1093.4 1408.7,1094.0 1409.8,1093.1 1410.9,1100.9 1412.0,1067.1 1413.1,1091.7 1414.2,1079.3 1415.3,1090.0 1416.4,1094.2 1417.5,1105.8 1418.6,1115.7 1419.7,1112.8 1420.8,1108.7 1421.9,1103.3 1423.0,1125.2 1424.1,1115.1 1425.2,1092.5 1426.3,1114.7 1427.4,1122.8 1428.5,1106.1 1429.6,1121.1 1430.7,1153.9 1431.8,1116.3 1432.9,1119.2 1434.0,1119.9 1435.1,1109.4 1436.2,1116.3 1437.3,1111.0 1438.4,1120.9 1439.5,1116.1 1440.6,1138.8 1441.7,1127.3 1442.8,1140.5 1443.9,1116.5 1445.0,1133.1 1446.1,1141.9 1447.2,1144.9 1448.3,1130.5 1449.4,1138.2 1450.5,1142.1 1451.6,1137.9 1452.7,1137.9 1453.8,1150.1 1454.9,1130.0 1456.0,1122.9 1457.1,1139.3 1458.2,1149.2 1459.3,1118.7 1460.4,1163.7 1461.5,1134.5 1462.6,1157.1 1463.7,1141.6 1464.8,1153.1 1465.9,1177.6 1467.0,1179.9 1468.1,1166.5 1469.2,1156.8 1470.3,1159.7 1471.4,1177.3 1472.5,1152.8 1473.6,1150.1 1474.7,1159.6 1475.8,1172.2 1476.9,1148.4 1478.0,1166.2 1479.1,1167.2 1480.2,1165.4 1481.3,1163.4 1482.4,1178.2 1483.5,1175.6 1484.6,1152.7 1485.7,1191.6 1486.8,1179.2 1487.9,1178.8 1489.0,1171.6 1490.1,1172.9 1491.2,1146.2 1492.3,1199.9 1493.4,1153.7 1494.5,1182.6 1495.6,1165.7 1496.7,1143.7 1497.8,1156.9 1498.9,1164.9 1500.0,1182.3 1501.1,1145.0 1502.2,1162.8 1503.3,1167.6 1504.4,1165.9 1505.5,1155.1 1506.6,1120.3 1507.7,1136.1 1508.8,1151.7 1509.9,1155.1 1511.0,1135.7 1512.1,1140.2 1513.2,1163.4 1514.3,1143.3 1515.4,1143.9 1516.5,1134.8 1517.6,1158.4 1518.7,1122.5 1519.8,1135.2 1520.9,1145.5 1522.0,1138.1 1523.1,1147.2 1524.2,1139.3 1525.3,1149.1 1526.4,1126.4 1527.5,1125.3 1528.6,1128.3 1529.7,1101.8 1530.8,1139.6 1531.9,1110.9 1533.0,1135.6 1534.1,1139.7 1535.2,1135.0 1536.3,1125.8 1537.4,1116.5 1538.5,1099.1 1539.6,1132.6 1540.7,1123.7 1541.8,1148.1 1542.9,1124.1 1544.0,1135.7 1545.1,1123.1 1546.2,1133.1 1547.3,1123.1 1548.4,1124.5 1549.5,1102.6 1550.6,1115.5 1551.7,1121.0 1552.8,1136.9 1553.9,1123.0 1555.0,1103.2 1556.1,1135.6 1557.2,1118.8 1558.3,1126.3 1559.4,1100.0 1560.5,1069.4 1561.6,1098.6 1562.7,1094.3 1563.8,1108.9 1564.9,1086.0 1566.0,1092.9 1567.1,1085.7 1568.2,1102.3 1569.3,1087.2 1570.4,1112.8 1571.5,1103.0 1572.6,1100.7 1573.7,1084.8 1574.8,1087.5 1575.9,1092.5 1577.0,1069.5 1578.1,1093.2 1579.2,1075.5 1580.3,1090.4 1581.4,1101.3 1582.5,1092.0 1583.6,1059.0 1584.7,1086.5 1585.8,1067.5 1586.9,1066.0 1588.0,1068.3 1589.1,1056.8 1590.2,1074.3 1591.3,1062.8 1592.4,1085.4 1593.5,1076.2 1594.6,1041.3 1595.7,1061.9 1596.8,1062.2 1597.9,1067.0 1599.0,1068.4 1600.1,1079.9 1601.2,1076.4 1602.3,1066.0 1603.4,1085.7 1604.5,1092.7 1605.6,1102.6 1606.7,1099.0 1607.8,1091.4 1608.9,1081.0 1610.0,1084.6 1611.1,1091.0 1612.2,1099.1 1613.3,1096.4 1614.4,1108.1 1615.5,1112.2 1616.6,1088.0 1617.7,1088.6 1618.8,1104.2 1619.9,1114.0 1621.0,1122.9 1622.1,1123.2 1623.2,1126.4 1624.3,1111.3 1625.4,1130.8 1626.5,1122.0 1627.6,1138.3 1628.7,1147.4 1629.8,1131.4 1630.9,1139.5 1632.0,1174.6 1633.1,1138.0 1634.2,1143.4 1635.3,1138.6 1636.4,1136.6 1637.5,1168.2 1638.6,1150.0 1639.7,1152.7 1640.8,1152.5 1641.9,1130.1 1643.0,1175.3 1644.1,1161.4 1645.2,1140.5 1646.3,1188.1 1647.4,1171.1 1648.5,1175.5 1649.6,1176.7 1650.7,1190.2 1651.8,1157.9 1652.9,1195.1 1654.0,1144.7 1655.1,1190.5 1656.2,1173.5 1657.3,1157.3 1658.4,1199.9 1659.5,1167.5 1660.6,1175.4 1661.7,1149.4 1662.8,1164.9 1663.9,1132.2 1665.0,1138.9 1666.1,1131.1 1667.2,1120.1 1668.3,1141.2 1669.4,1133.2 1670.5,1105.2 1671.6,1118.4 1672.7,1107.9 1673.8,1105.3 1674.9,1107.2 1676.0,1089.8 1677.1,1093.7 1678.2,1089.9 1679.3,1072.9 1680.4,1067.0 1681.5,1073.9 1682.6,1052.3 1683.7,1068.8 1684.8,1055.6 1685.9,1013.4 1687.0,1021.0 1688.1,988.3 1689.2,1001.3 1690.3,996.0 1691.4,996.6 1692.5,980.6 1693.6,1010.9 1694.7,1010.3 1695.8,999.5 1696.9,1009.0 1698.0,1021.5 1699.1,1030.0 1700.2,994.6 1701.3,1030.2 1702.4,990.4 1703.5,1001.6 1704.6,1007.2 1705.7,1031.2 1706.8,1020.3 1707.9,1020.4 1709.0,1032.4 1710.1,1016.1 1711.2,1007.7 1712.3,1030.6 1713.4,1009.7 1714.5,1013.2 1715.6,990.3 1716.7,1012.8 1717.8,1033.1 1718.9,1019.0 1720.0,1010.2 1721.1,1023.9 1722.2,990.7 1723.3,1012.6 1724.4,997.4 1725.5,1016.3 1726.6,985.3 1727.7,1002.4 1728.8,956.0 1729.9,994.6 1731.0,1007.0 1732.1,1002.6 1733.2,1028.1 1734.3,1015.1 1735.4,998.3 1736.5,1050.3 1737.6,1057.8 1738.7,1057.5 1739.8,1078.3 1740.9,1080.4 1742.0,1073.1 1743.1,1072.1 1744.2,1106.2 1745.3,1143.4 1746.4,1171.4 1747.5,1168.8 1748.6,1196.7 1749.7,1237.6 1750.8,1214.0 1751.9,1215.4 1753.0,1213.9 1754.1,1246.3 1755.2,1238.4 1756.3,1243.4 1757.4,1258.0 1758.5,1255.9 1759.6,1292.0 1760.7,1261.4 1761.8,1247.5 1762.9,1273.4 1764.0,1278.0 1765.1,1258.6 1766.2,1272.7 1767.3,1273.0 1768.4,1271.0 1769.5,1279.2 1770.6,1302.0 1771.7,1274.1 1772.8,1281.4 1773.9,1284.9 1775.0,1298.6 1776.1,1268.1 1777.2,1288.9 1778.3,1305.9 1779.4,1309.4 1780.5,1300.4 1781.6,1297.9 1782.7,1271.0 1783.8,1285.8 1784.9,1295.1 1786.0,1301.3 1787.1,1302.6 1788.2,1270.9 1789.3,1292.9 1790.4,1303.7 1791.5,1292.0 1792.6,1299.5 1793.7,1309.4 1794.8,1307.9 1795.9,1307.2 1797.0,1314.6 1798.1,1319.8 1799.2,1302.8 1800.3,1293.5 1801.4,1297.2 1802.5,1298.8 1803.6,1303.2 1804.7,1284.2 1805.8,1291.9 1806.9,1296.6 1808.0,1292.2 1809.1,1303.6 1810.2,1294.7 1811.3,1306.9 1812.4,1298.6 1813.5,1299.9 1814.6,1310.9 1815.7,1303.5 1816.8,1302.8 1817.9,1311.2 1819.0,1297.5 1820.1,1306.0 1821.2,1281.3 1822.3,1302.3 1823.4,1326.4 1824.5,1331.5 1825.6,1308.0 1826.7,1302.6 1827.8,1294.7 1828.9,1312.2 1830.0,1305.2 1831.1,1317.7 1832.2,1292.9 1833.3,1303.1 1834.4,1297.6 1835.5,1293.8 1836.6,1313.1 1837.7,1290.5 1838.8,1289.9 1839.9,1328.1 1841.0,1296.1 1842.1,1293.7 1843.2,1301.0 1844.3,1282.6 1845.4,1298.4 1846.5,1279.7 1847.6,1260.5 1848.7,1287.2 1849.8,1310.9 1850.9,1303.1 1852.0,1318.7 1853.1,1317.9 1854.2,1290.8 1855.3,1306.6 1856.4,1296.3 1857.5,1294.9 1858.6,1317.6 1859.7,1321.0 1860.8,1305.5 1861.9,1307.9 1863.0,1277.7 1864.1,1306.9 1865.2,1306.6 1866.3,1289.7 1867.4,1308.6 1868.5,1292.4 1869.6,1286.0 1870.7,1298.5 1871.8,1303.4 1872.9,1310.5 1874.0,1305.3 1875.1,1304.9 1876.2,1294.2 1877.3,1308.0 1878.4,1306.9 1879.5,1309.0 1880.6,1297.7 1881.7,1328.0 1882.8,1317.3 1883.9,1316.7 1885.0,1309.4 1886.1,1304.0 1887.2,1317.1 1888.3,1288.0 1889.4,1295.8 1890.5,1294.8 1891.6,1302.0 1892.7,1288.1 1893.8,1305.8 1894.9,1264.8 1896.0,1302.7 1897.1,1286.3 1898.2,1293.2 1899.3,1275.9 1900.4,1295.4 1901.5,1280.4 1902.6,1289.1 1903.7,1269.9 1904.8,1295.9 1905.9,1292.2 1907.0,1268.9 1908.1,1290.9 1909.2,1288.3 1910.3,1301.6 1911.4,1283.0 1912.5,1292.7 1913.6,1305.1 1914.7,1278.3 1915.8,1310.9 1916.9,1291.0 1918.0,1285.3 1919.1,1271.8 1920.2,1267.4 1921.3,1301.1 1922.4,1284.8" fill="none" stroke="#ff0000" stroke-width="1.2" stroke-linejoin="round"/>
<g fill="none" stroke="#ff0000" stroke-width="1.25">
<circle cx="1054.5" cy="1067.1" r="3.4"/>
<circle cx="1055.6" cy="1095.3" r="3.4"/>
<circle cx="1056.7" cy="1087.3" r="3.4"/>
<circle cx="1057.8" cy="1081.3" r="3.4"/>
<circle cx="1058.9" cy="1083.0" r="3.4"/>
<circle cx="1060.0" cy="1080.1" r="3.4"/>
<circle cx="1061.1" cy="1085.0" r="3.4"/>
<circle cx="1062.2" cy="1087.5" r="3.4"/>
<circle cx="1063.3" cy="1078.7" r="3.4"/>
<circle cx="1064.4" cy="1054.0" r="3.4"/>
<circle cx="1065.5" cy="1078.3" r="3.4"/>
<circle cx="1066.6" cy="1071.6" r="3.4"/>
<circle cx="1067.7" cy="1068.8" r="3.4"/>
<circle cx="1068.8" cy="1092.2" r="3.4"/>
<circle cx="1069.9" cy="1064.8" r="3.4"/>
<circle cx="1071.0" cy="1098.3" r="3.4"/>
<circle cx="1072.1" cy="1081.9" r="3.4"/>
<circle cx="1073.2" cy="1076.2" r="3.4"/>
<circle cx="1074.3" cy="1081.7" r="3.4"/>
<circle cx="1075.4" cy="1121.7" r="3.4"/>
<circle cx="1076.5" cy="1111.7" r="3.4"/>
<circle cx="1077.6" cy="1090.2" r="3.4"/>
<circle cx="1078.7" cy="1106.3" r="3.4"/>
<circle cx="1079.8" cy="1088.8" r="3.4"/>
<circle cx="1080.9" cy="1080.5" r="3.4"/>
<circle cx="1082.0" cy="1086.1" r="3.4"/>
<circle cx="1083.1" cy="1099.0" r="3.4"/>
<circle cx="1084.2" cy="1090.7" r="3.4"/>
<circle cx="1085.3" cy="1079.3" r="3.4"/>
<circle cx="1086.4" cy="1101.9" r="3.4"/>
<circle cx="1087.5" cy="1086.6" r="3.4"/>
<circle cx="1088.6" cy="1088.7" r="3.4"/>
<circle cx="1089.7" cy="1107.1" r="3.4"/>
<circle cx="1090.8" cy="1082.8" r="3.4"/>
<circle cx="1091.9" cy="1108.3" r="3.4"/>
<circle cx="1093.0" cy="1078.9" r="3.4"/>
<circle cx="1094.1" cy="1072.3" r="3.4"/>
<circle cx="1095.2" cy="1075.0" r="3.4"/>
<circle cx="1096.3" cy="1083.1" r="3.4"/>
<circle cx="1097.4" cy="1079.5" r="3.4"/>
<circle cx="1098.5" cy="1074.9" r="3.4"/>
<circle cx="1099.6" cy="1051.1" r="3.4"/>
<circle cx="1100.7" cy="1055.0" r="3.4"/>
<circle cx="1101.8" cy="1064.3" r="3.4"/>
<circle cx="1102.9" cy="1075.8" r="3.4"/>
<circle cx="1104.0" cy="1084.2" r="3.4"/>
<circle cx="1105.1" cy="1036.8" r="3.4"/>
<circle cx="1106.2" cy="1064.4" r="3.4"/>
<circle cx="1107.3" cy="1060.8" r="3.4"/>
<circle cx="1108.4" cy="1065.5" r="3.4"/>
<circle cx="1109.5" cy="1069.9" r="3.4"/>
<circle cx="1110.6" cy="1057.2" r="3.4"/>
<circle cx="1111.7" cy="1051.7" r="3.4"/>
<circle cx="1112.8" cy="1080.5" r="3.4"/>
<circle cx="1113.9" cy="1077.2" r="3.4"/>
<circle cx="1115.0" cy="1062.5" r="3.4"/>
<circle cx="1116.1" cy="1065.6" r="3.4"/>
<circle cx="1117.2" cy="1057.9" r="3.4"/>
<circle cx="1118.3" cy="1048.4" r="3.4"/>
<circle cx="1119.4" cy="1073.0" r="3.4"/>
<circle cx="1120.5" cy="1056.2" r="3.4"/>
<circle cx="1121.6" cy="1050.2" r="3.4"/>
<circle cx="1122.7" cy="1056.1" r="3.4"/>
<circle cx="1123.8" cy="1083.4" r="3.4"/>
<circle cx="1124.9" cy="1068.5" r="3.4"/>
<circle cx="1126.0" cy="1066.0" r="3.4"/>
<circle cx="1127.1" cy="1064.1" r="3.4"/>
<circle cx="1128.2" cy="1073.6" r="3.4"/>
<circle cx="1129.3" cy="1072.0" r="3.4"/>
<circle cx="1130.4" cy="1047.0" r="3.4"/>
<circle cx="1131.5" cy="1059.8" r="3.4"/>
<circle cx="1132.6" cy="1054.4" r="3.4"/>
<circle cx="1133.7" cy="1064.4" r="3.4"/>
<circle cx="1134.8" cy="1060.1" r="3.4"/>
<circle cx="1135.9" cy="1035.1" r="3.4"/>
<circle cx="1137.0" cy="1072.3" r="3.4"/>
<circle cx="1138.1" cy="1059.8" r="3.4"/>
<circle cx="1139.2" cy="1033.6" r="3.4"/>
<circle cx="1140.3" cy="1067.3" r="3.4"/>
<circle cx="1141.4" cy="1053.3" r="3.4"/>
<circle cx="1142.5" cy="1056.2" r="3.4"/>
<circle cx="1143.6" cy="1049.7" r="3.4"/>
<circle cx="1144.7" cy="1050.4" r="3.4"/>
<circle cx="1145.8" cy="1041.6" r="3.4"/>
<circle cx="1146.9" cy="1026.8" r="3.4"/>
<circle cx="1148.0" cy="1039.3" r="3.4"/>
<circle cx="1149.1" cy="1048.8" r="3.4"/>
<circle cx="1150.2" cy="1046.8" r="3.4"/>
<circle cx="1151.3" cy="1054.2" r="3.4"/>
<circle cx="1152.4" cy="1045.0" r="3.4"/>
<circle cx="1153.5" cy="1018.7" r="3.4"/>
<circle cx="1154.6" cy="1055.3" r="3.4"/>
<circle cx="1155.7" cy="1064.6" r="3.4"/>
<circle cx="1156.8" cy="1030.1" r="3.4"/>
<circle cx="1157.9" cy="1042.6" r="3.4"/>
<circle cx="1159.0" cy="1029.9" r="3.4"/>
<circle cx="1160.1" cy="1050.8" r="3.4"/>
<circle cx="1161.2" cy="1034.8" r="3.4"/>
<circle cx="1162.3" cy="1069.6" r="3.4"/>
<circle cx="1163.4" cy="1042.4" r="3.4"/>
<circle cx="1164.5" cy="1038.3" r="3.4"/>
<circle cx="1165.6" cy="1036.8" r="3.4"/>
<circle cx="1166.7" cy="1018.1" r="3.4"/>
<circle cx="1167.8" cy="1033.5" r="3.4"/>
<circle cx="1168.9" cy="1034.6" r="3.4"/>
<circle cx="1170.0" cy="1039.4" r="3.4"/>
<circle cx="1171.1" cy="1015.7" r="3.4"/>
<circle cx="1172.2" cy="1042.5" r="3.4"/>
<circle cx="1173.3" cy="1056.7" r="3.4"/>
<circle cx="1174.4" cy="1034.4" r="3.4"/>
<circle cx="1175.5" cy="1037.5" r="3.4"/>
<circle cx="1176.6" cy="1041.8" r="3.4"/>
<circle cx="1177.7" cy="1025.2" r="3.4"/>
<circle cx="1178.8" cy="1028.2" r="3.4"/>
<circle cx="1179.9" cy="1043.8" r="3.4"/>
<circle cx="1181.0" cy="1033.3" r="3.4"/>
<circle cx="1182.1" cy="1015.0" r="3.4"/>
<circle cx="1183.2" cy="1007.4" r="3.4"/>
<circle cx="1184.3" cy="1056.5" r="3.4"/>
<circle cx="1185.4" cy="1033.4" r="3.4"/>
<circle cx="1186.5" cy="1008.2" r="3.4"/>
<circle cx="1187.6" cy="1029.2" r="3.4"/>
<circle cx="1188.7" cy="1035.3" r="3.4"/>
<circle cx="1189.8" cy="1028.2" r="3.4"/>
<circle cx="1190.9" cy="975.9" r="3.4"/>
<circle cx="1192.0" cy="1048.4" r="3.4"/>
<circle cx="1193.1" cy="1033.4" r="3.4"/>
<circle cx="1194.2" cy="1023.4" r="3.4"/>
<circle cx="1195.3" cy="1033.9" r="3.4"/>
<circle cx="1196.4" cy="1022.4" r="3.4"/>
<circle cx="1197.5" cy="1020.6" r="3.4"/>
<circle cx="1198.6" cy="1035.0" r="3.4"/>
<circle cx="1199.7" cy="999.3" r="3.4"/>
<circle cx="1200.8" cy="1034.9" r="3.4"/>
<circle cx="1201.9" cy="1050.5" r="3.4"/>
<circle cx="1203.0" cy="1030.2" r="3.4"/>
<circle cx="1204.1" cy="1031.0" r="3.4"/>
<circle cx="1205.2" cy="1037.8" r="3.4"/>
<circle cx="1206.3" cy="1035.3" r="3.4"/>
<circle cx="1207.4" cy="1027.5" r="3.4"/>
<circle cx="1208.5" cy="1011.1" r="3.4"/>
<circle cx="1209.6" cy="1023.4" r="3.4"/>
<circle cx="1210.7" cy="1008.6" r="3.4"/>
<circle cx="1211.8" cy="1002.3" r="3.4"/>
<circle cx="1212.9" cy="1019.2" r="3.4"/>
<circle cx="1214.0" cy="1017.8" r="3.4"/>
<circle cx="1215.1" cy="1027.8" r="3.4"/>
<circle cx="1216.2" cy="987.0" r="3.4"/>
<circle cx="1217.3" cy="1020.4" r="3.4"/>
<circle cx="1218.4" cy="1021.2" r="3.4"/>
<circle cx="1219.5" cy="1014.2" r="3.4"/>
<circle cx="1220.6" cy="1057.2" r="3.4"/>
<circle cx="1221.7" cy="1001.9" r="3.4"/>
<circle cx="1222.8" cy="1016.7" r="3.4"/>
<circle cx="1223.9" cy="1008.1" r="3.4"/>
<circle cx="1225.0" cy="1012.7" r="3.4"/>
<circle cx="1226.1" cy="1001.7" r="3.4"/>
<circle cx="1227.2" cy="1012.6" r="3.4"/>
<circle cx="1228.3" cy="1023.7" r="3.4"/>
<circle cx="1229.4" cy="1018.5" r="3.4"/>
<circle cx="1230.5" cy="1023.1" r="3.4"/>
<circle cx="1231.6" cy="1011.6" r="3.4"/>
<circle cx="1232.7" cy="1042.5" r="3.4"/>
<circle cx="1233.8" cy="1016.7" r="3.4"/>
<circle cx="1234.9" cy="1027.4" r="3.4"/>
<circle cx="1236.0" cy="1036.0" r="3.4"/>
<circle cx="1237.1" cy="1027.8" r="3.4"/>
<circle cx="1238.2" cy="1039.9" r="3.4"/>
<circle cx="1239.3" cy="1033.2" r="3.4"/>
<circle cx="1240.4" cy="1051.2" r="3.4"/>
<circle cx="1241.5" cy="1036.4" r="3.4"/>
<circle cx="1242.6" cy="1033.5" r="3.4"/>
<circle cx="1243.7" cy="1017.7" r="3.4"/>
<circle cx="1244.8" cy="1032.0" r="3.4"/>
<circle cx="1245.9" cy="1037.6" r="3.4"/>
<circle cx="1247.0" cy="1029.7" r="3.4"/>
<circle cx="1248.1" cy="1012.7" r="3.4"/>
<circle cx="1249.2" cy="1017.0" r="3.4"/>
<circle cx="1250.3" cy="1020.6" r="3.4"/>
<circle cx="1251.4" cy="1023.5" r="3.4"/>
<circle cx="1252.5" cy="1006.5" r="3.4"/>
<circle cx="1253.6" cy="1046.1" r="3.4"/>
<circle cx="1254.7" cy="1022.3" r="3.4"/>
<circle cx="1255.8" cy="1025.0" r="3.4"/>
<circle cx="1256.9" cy="1018.4" r="3.4"/>
<circle cx="1258.0" cy="1023.5" r="3.4"/>
<circle cx="1259.1" cy="1047.7" r="3.4"/>
<circle cx="1260.2" cy="1013.2" r="3.4"/>
<circle cx="1261.3" cy="1019.1" r="3.4"/>
<circle cx="1262.4" cy="1013.7" r="3.4"/>
<circle cx="1263.5" cy="1020.8" r="3.4"/>
<circle cx="1264.6" cy="1047.6" r="3.4"/>
<circle cx="1265.7" cy="1023.3" r="3.4"/>
<circle cx="1266.8" cy="1027.6" r="3.4"/>
<circle cx="1267.9" cy="1013.6" r="3.4"/>
<circle cx="1269.0" cy="1033.7" r="3.4"/>
<circle cx="1270.1" cy="1043.3" r="3.4"/>
<circle cx="1271.2" cy="1036.9" r="3.4"/>
<circle cx="1272.3" cy="1039.8" r="3.4"/>
<circle cx="1273.4" cy="1055.7" r="3.4"/>
<circle cx="1274.5" cy="1053.3" r="3.4"/>
<circle cx="1275.6" cy="1046.1" r="3.4"/>
<circle cx="1276.7" cy="1038.0" r="3.4"/>
<circle cx="1277.8" cy="1029.1" r="3.4"/>
<circle cx="1278.9" cy="1067.4" r="3.4"/>
<circle cx="1280.0" cy="1028.3" r="3.4"/>
<circle cx="1281.1" cy="1055.0" r="3.4"/>
<circle cx="1282.2" cy="1045.3" r="3.4"/>
<circle cx="1283.3" cy="1039.6" r="3.4"/>
<circle cx="1284.4" cy="1060.2" r="3.4"/>
<circle cx="1285.5" cy="1059.2" r="3.4"/>
<circle cx="1286.6" cy="1067.1" r="3.4"/>
<circle cx="1287.7" cy="1040.5" r="3.4"/>
<circle cx="1288.8" cy="1059.8" r="3.4"/>
<circle cx="1289.9" cy="1042.8" r="3.4"/>
<circle cx="1291.0" cy="1043.5" r="3.4"/>
<circle cx="1292.1" cy="1080.9" r="3.4"/>
<circle cx="1293.2" cy="1066.3" r="3.4"/>
<circle cx="1294.3" cy="1029.7" r="3.4"/>
<circle cx="1295.4" cy="1073.6" r="3.4"/>
<circle cx="1296.5" cy="1080.5" r="3.4"/>
<circle cx="1297.6" cy="1055.0" r="3.4"/>
<circle cx="1298.7" cy="1056.7" r="3.4"/>
<circle cx="1299.8" cy="1064.4" r="3.4"/>
<circle cx="1300.9" cy="1037.8" r="3.4"/>
<circle cx="1302.0" cy="1063.3" r="3.4"/>
<circle cx="1303.1" cy="1073.2" r="3.4"/>
<circle cx="1304.2" cy="1055.5" r="3.4"/>
<circle cx="1305.3" cy="1075.5" r="3.4"/>
<circle cx="1306.4" cy="1088.5" r="3.4"/>
<circle cx="1307.5" cy="1037.7" r="3.4"/>
<circle cx="1308.6" cy="1038.9" r="3.4"/>
<circle cx="1309.7" cy="1069.8" r="3.4"/>
<circle cx="1310.8" cy="1066.9" r="3.4"/>
<circle cx="1311.9" cy="1063.1" r="3.4"/>
<circle cx="1313.0" cy="1046.6" r="3.4"/>
<circle cx="1314.1" cy="1043.1" r="3.4"/>
<circle cx="1315.2" cy="1047.0" r="3.4"/>
<circle cx="1316.3" cy="1075.3" r="3.4"/>
<circle cx="1317.4" cy="1041.9" r="3.4"/>
<circle cx="1318.5" cy="1044.9" r="3.4"/>
<circle cx="1319.6" cy="1061.6" r="3.4"/>
<circle cx="1320.7" cy="1044.9" r="3.4"/>
<circle cx="1321.8" cy="1034.2" r="3.4"/>
<circle cx="1322.9" cy="1061.6" r="3.4"/>
<circle cx="1324.0" cy="1046.6" r="3.4"/>
<circle cx="1325.1" cy="1032.6" r="3.4"/>
<circle cx="1326.2" cy="1034.9" r="3.4"/>
<circle cx="1327.3" cy="1049.5" r="3.4"/>
<circle cx="1328.4" cy="1032.9" r="3.4"/>
<circle cx="1329.5" cy="1039.7" r="3.4"/>
<circle cx="1330.6" cy="1046.7" r="3.4"/>
<circle cx="1331.7" cy="1047.4" r="3.4"/>
<circle cx="1332.8" cy="1012.6" r="3.4"/>
<circle cx="1333.9" cy="1028.4" r="3.4"/>
<circle cx="1335.0" cy="1029.7" r="3.4"/>
<circle cx="1336.1" cy="1034.3" r="3.4"/>
<circle cx="1337.2" cy="1041.7" r="3.4"/>
<circle cx="1338.3" cy="1045.8" r="3.4"/>
<circle cx="1339.4" cy="1025.4" r="3.4"/>
<circle cx="1340.5" cy="1016.7" r="3.4"/>
<circle cx="1341.6" cy="1031.4" r="3.4"/>
<circle cx="1342.7" cy="1020.8" r="3.4"/>
<circle cx="1343.8" cy="1047.8" r="3.4"/>
<circle cx="1344.9" cy="1030.0" r="3.4"/>
<circle cx="1346.0" cy="1025.1" r="3.4"/>
<circle cx="1347.1" cy="1035.0" r="3.4"/>
<circle cx="1348.2" cy="1013.5" r="3.4"/>
<circle cx="1349.3" cy="1015.4" r="3.4"/>
<circle cx="1350.4" cy="1015.3" r="3.4"/>
<circle cx="1351.5" cy="1023.1" r="3.4"/>
<circle cx="1352.6" cy="1028.6" r="3.4"/>
<circle cx="1353.7" cy="1020.0" r="3.4"/>
<circle cx="1354.8" cy="1017.2" r="3.4"/>
<circle cx="1355.9" cy="1003.2" r="3.4"/>
<circle cx="1357.0" cy="1008.4" r="3.4"/>
<circle cx="1358.1" cy="999.5" r="3.4"/>
<circle cx="1359.2" cy="1015.1" r="3.4"/>
<circle cx="1360.3" cy="992.9" r="3.4"/>
<circle cx="1361.4" cy="999.5" r="3.4"/>
<circle cx="1362.5" cy="1003.6" r="3.4"/>
<circle cx="1363.6" cy="1010.8" r="3.4"/>
<circle cx="1364.7" cy="993.7" r="3.4"/>
<circle cx="1365.8" cy="1001.0" r="3.4"/>
<circle cx="1366.9" cy="995.2" r="3.4"/>
<circle cx="1368.0" cy="990.2" r="3.4"/>
<circle cx="1369.1" cy="1020.6" r="3.4"/>
<circle cx="1370.2" cy="1013.8" r="3.4"/>
<circle cx="1371.3" cy="990.6" r="3.4"/>
<circle cx="1372.4" cy="996.9" r="3.4"/>
<circle cx="1373.5" cy="1014.9" r="3.4"/>
<circle cx="1374.6" cy="1000.1" r="3.4"/>
<circle cx="1375.7" cy="993.7" r="3.4"/>
<circle cx="1376.8" cy="1020.3" r="3.4"/>
<circle cx="1377.9" cy="998.2" r="3.4"/>
<circle cx="1379.0" cy="998.6" r="3.4"/>
<circle cx="1380.1" cy="1009.1" r="3.4"/>
<circle cx="1381.2" cy="993.3" r="3.4"/>
<circle cx="1382.3" cy="1002.0" r="3.4"/>
<circle cx="1383.4" cy="1003.9" r="3.4"/>
<circle cx="1384.5" cy="1011.6" r="3.4"/>
<circle cx="1385.6" cy="994.6" r="3.4"/>
<circle cx="1386.7" cy="1017.6" r="3.4"/>
<circle cx="1387.8" cy="1009.9" r="3.4"/>
<circle cx="1388.9" cy="1028.6" r="3.4"/>
<circle cx="1390.0" cy="1010.9" r="3.4"/>
<circle cx="1391.1" cy="1002.8" r="3.4"/>
<circle cx="1392.2" cy="1004.1" r="3.4"/>
<circle cx="1393.3" cy="999.3" r="3.4"/>
<circle cx="1394.4" cy="1015.9" r="3.4"/>
<circle cx="1395.5" cy="1018.9" r="3.4"/>
<circle cx="1396.6" cy="1034.8" r="3.4"/>
<circle cx="1397.7" cy="1029.9" r="3.4"/>
<circle cx="1398.8" cy="1023.8" r="3.4"/>
<circle cx="1399.9" cy="1051.8" r="3.4"/>
<circle cx="1401.0" cy="1039.7" r="3.4"/>
<circle cx="1402.1" cy="1053.4" r="3.4"/>
<circle cx="1403.2" cy="1072.9" r="3.4"/>
<circle cx="1404.3" cy="1076.0" r="3.4"/>
<circle cx="1405.4" cy="1057.5" r="3.4"/>
<circle cx="1406.5" cy="1070.5" r="3.4"/>
<circle cx="1407.6" cy="1093.4" r="3.4"/>
<circle cx="1408.7" cy="1094.0" r="3.4"/>
<circle cx="1409.8" cy="1093.1" r="3.4"/>
<circle cx="1410.9" cy="1100.9" r="3.4"/>
<circle cx="1412.0" cy="1067.1" r="3.4"/>
<circle cx="1413.1" cy="1091.7" r="3.4"/>
<circle cx="1414.2" cy="1079.3" r="3.4"/>
<circle cx="1415.3" cy="1090.0" r="3.4"/>
<circle cx="1416.4" cy="1094.2" r="3.4"/>
<circle cx="1417.5" cy="1105.8" r="3.4"/>
<circle cx="1418.6" cy="1115.7" r="3.4"/>
<circle cx="1419.7" cy="1112.8" r="3.4"/>
<circle cx="1420.8" cy="1108.7" r="3.4"/>
<circle cx="1421.9" cy="1103.3" r="3.4"/>
<circle cx="1423.0" cy="1125.2" r="3.4"/>
<circle cx="1424.1" cy="1115.1" r="3.4"/>
<circle cx="1425.2" cy="1092.5" r="3.4"/>
<circle cx="1426.3" cy="1114.7" r="3.4"/>
<circle cx="1427.4" cy="1122.8" r="3.4"/>
<circle cx="1428.5" cy="1106.1" r="3.4"/>
<circle cx="1429.6" cy="1121.1" r="3.4"/>
<circle cx="1430.7" cy="1153.9" r="3.4"/>
<circle cx="1431.8" cy="1116.3" r="3.4"/>
<circle cx="1432.9" cy="1119.2" r="3.4"/>
<circle cx="1434.0" cy="1119.9" r="3.4"/>
<circle cx="1435.1" cy="1109.4" r="3.4"/>
<circle cx="1436.2" cy="1116.3" r="3.4"/>
<circle cx="1437.3" cy="1111.0" r="3.4"/>
<circle cx="1438.4" cy="1120.9" r="3.4"/>
<circle cx="1439.5" cy="1116.1" r="3.4"/>
<circle cx="1440.6" cy="1138.8" r="3.4"/>
<circle cx="1441.7" cy="1127.3" r="3.4"/>
<circle cx="1442.8" cy="1140.5" r="3.4"/>
<circle cx="1443.9" cy="1116.5" r="3.4"/>
<circle cx="1445.0" cy="1133.1" r="3.4"/>
<circle cx="1446.1" cy="1141.9" r="3.4"/>
<circle cx="1447.2" cy="1144.9" r="3.4"/>
<circle cx="1448.3" cy="1130.5" r="3.4"/>
<circle cx="1449.4" cy="1138.2" r="3.4"/>
<circle cx="1450.5" cy="1142.1" r="3.4"/>
<circle cx="1451.6" cy="1137.9" r="3.4"/>
<circle cx="1452.7" cy="1137.9" r="3.4"/>
<circle cx="1453.8" cy="1150.1" r="3.4"/>
<circle cx="1454.9" cy="1130.0" r="3.4"/>
<circle cx="1456.0" cy="1122.9" r="3.4"/>
<circle cx="1457.1" cy="1139.3" r="3.4"/>
<circle cx="1458.2" cy="1149.2" r="3.4"/>
<circle cx="1459.3" cy="1118.7" r="3.4"/>
<circle cx="1460.4" cy="1163.7" r="3.4"/>
<circle cx="1461.5" cy="1134.5" r="3.4"/>
<circle cx="1462.6" cy="1157.1" r="3.4"/>
<circle cx="1463.7" cy="1141.6" r="3.4"/>
<circle cx="1464.8" cy="1153.1" r="3.4"/>
<circle cx="1465.9" cy="1177.6" r="3.4"/>
<circle cx="1467.0" cy="1179.9" r="3.4"/>
<circle cx="1468.1" cy="1166.5" r="3.4"/>
<circle cx="1469.2" cy="1156.8" r="3.4"/>
<circle cx="1470.3" cy="1159.7" r="3.4"/>
<circle cx="1471.4" cy="1177.3" r="3.4"/>
<circle cx="1472.5" cy="1152.8" r="3.4"/>
<circle cx="1473.6" cy="1150.1" r="3.4"/>
<circle cx="1474.7" cy="1159.6" r="3.4"/>
<circle cx="1475.8" cy="1172.2" r="3.4"/>
<circle cx="1476.9" cy="1148.4" r="3.4"/>
<circle cx="1478.0" cy="1166.2" r="3.4"/>
<circle cx="1479.1" cy="1167.2" r="3.4"/>
<circle cx="1480.2" cy="1165.4" r="3.4"/>
<circle cx="1481.3" cy="1163.4" r="3.4"/>
<circle cx="1482.4" cy="1178.2" r="3.4"/>
<circle cx="1483.5" cy="1175.6" r="3.4"/>
<circle cx="1484.6" cy="1152.7" r="3.4"/>
<circle cx="1485.7" cy="1191.6" r="3.4"/>
<circle cx="1486.8" cy="1179.2" r="3.4"/>
<circle cx="1487.9" cy="1178.8" r="3.4"/>
<circle cx="1489.0" cy="1171.6" r="3.4"/>
<circle cx="1490.1" cy="1172.9" r="3.4"/>
<circle cx="1491.2" cy="1146.2" r="3.4"/>
<circle cx="1492.3" cy="1199.9" r="3.4"/>
<circle cx="1493.4" cy="1153.7" r="3.4"/>
<circle cx="1494.5" cy="1182.6" r="3.4"/>
<circle cx="1495.6" cy="1165.7" r="3.4"/>
<circle cx="1496.7" cy="1143.7" r="3.4"/>
<circle cx="1497.8" cy="1156.9" r="3.4"/>
<circle cx="1498.9" cy="1164.9" r="3.4"/>
<circle cx="1500.0" cy="1182.3" r="3.4"/>
<circle cx="1501.1" cy="1145.0" r="3.4"/>
<circle cx="1502.2" cy="1162.8" r="3.4"/>
<circle cx="1503.3" cy="1167.6" r="3.4"/>
<circle cx="1504.4" cy="1165.9" r="3.4"/>
<circle cx="1505.5" cy="1155.1" r="3.4"/>
<circle cx="1506.6" cy="1120.3" r="3.4"/>
<circle cx="1507.7" cy="1136.1" r="3.4"/>
<circle cx="1508.8" cy="1151.7" r="3.4"/>
<circle cx="1509.9" cy="1155.1" r="3.4"/>
<circle cx="1511.0" cy="1135.7" r="3.4"/>
<circle cx="1512.1" cy="1140.2" r="3.4"/>
<circle cx="1513.2" cy="1163.4" r="3.4"/>
<circle cx="1514.3" cy="1143.3" r="3.4"/>
<circle cx="1515.4" cy="1143.9" r="3.4"/>
<circle cx="1516.5" cy="1134.8" r="3.4"/>
<circle cx="1517.6" cy="1158.4" r="3.4"/>
<circle cx="1518.7" cy="1122.5" r="3.4"/>
<circle cx="1519.8" cy="1135.2" r="3.4"/>
<circle cx="1520.9" cy="1145.5" r="3.4"/>
<circle cx="1522.0" cy="1138.1" r="3.4"/>
<circle cx="1523.1" cy="1147.2" r="3.4"/>
<circle cx="1524.2" cy="1139.3" r="3.4"/>
<circle cx="1525.3" cy="1149.1" r="3.4"/>
<circle cx="1526.4" cy="1126.4" r="3.4"/>
<circle cx="1527.5" cy="1125.3" r="3.4"/>
<circle cx="1528.6" cy="1128.3" r="3.4"/>
<circle cx="1529.7" cy="1101.8" r="3.4"/>
<circle cx="1530.8" cy="1139.6" r="3.4"/>
<circle cx="1531.9" cy="1110.9" r="3.4"/>
<circle cx="1533.0" cy="1135.6" r="3.4"/>
<circle cx="1534.1" cy="1139.7" r="3.4"/>
<circle cx="1535.2" cy="1135.0" r="3.4"/>
<circle cx="1536.3" cy="1125.8" r="3.4"/>
<circle cx="1537.4" cy="1116.5" r="3.4"/>
<circle cx="1538.5" cy="1099.1" r="3.4"/>
<circle cx="1539.6" cy="1132.6" r="3.4"/>
<circle cx="1540.7" cy="1123.7" r="3.4"/>
<circle cx="1541.8" cy="1148.1" r="3.4"/>
<circle cx="1542.9" cy="1124.1" r="3.4"/>
<circle cx="1544.0" cy="1135.7" r="3.4"/>
<circle cx="1545.1" cy="1123.1" r="3.4"/>
<circle cx="1546.2" cy="1133.1" r="3.4"/>
<circle cx="1547.3" cy="1123.1" r="3.4"/>
<circle cx="1548.4" cy="1124.5" r="3.4"/>
<circle cx="1549.5" cy="1102.6" r="3.4"/>
<circle cx="1550.6" cy="1115.5" r="3.4"/>
<circle cx="1551.7" cy="1121.0" r="3.4"/>
<circle cx="1552.8" cy="1136.9" r="3.4"/>
<circle cx="1553.9" cy="1123.0" r="3.4"/>
<circle cx="1555.0" cy="1103.2" r="3.4"/>
<circle cx="1556.1" cy="1135.6" r="3.4"/>
<circle cx="1557.2" cy="1118.8" r="3.4"/>
<circle cx="1558.3" cy="1126.3" r="3.4"/>
<circle cx="1559.4" cy="1100.0" r="3.4"/>
<circle cx="1560.5" cy="1069.4" r="3.4"/>
<circle cx="1561.6" cy="1098.6" r="3.4"/>
<circle cx="1562.7" cy="1094.3" r="3.4"/>
<circle cx="1563.8" cy="1108.9" r="3.4"/>
<circle cx="1564.9" cy="1086.0" r="3.4"/>
<circle cx="1566.0" cy="1092.9" r="3.4"/>
<circle cx="1567.1" cy="1085.7" r="3.4"/>
<circle cx="1568.2" cy="1102.3" r="3.4"/>
<circle cx="1569.3" cy="1087.2" r="3.4"/>
<circle cx="1570.4" cy="1112.8" r="3.4"/>
<circle cx="1571.5" cy="1103.0" r="3.4"/>
<circle cx="1572.6" cy="1100.7" r="3.4"/>
<circle cx="1573.7" cy="1084.8" r="3.4"/>
<circle cx="1574.8" cy="1087.5" r="3.4"/>
<circle cx="1575.9" cy="1092.5" r="3.4"/>
<circle cx="1577.0" cy="1069.5" r="3.4"/>
<circle cx="1578.1" cy="1093.2" r="3.4"/>
<circle cx="1579.2" cy="1075.5" r="3.4"/>
<circle cx="1580.3" cy="1090.4" r="3.4"/>
<circle cx="1581.4" cy="1101.3" r="3.4"/>
<circle cx="1582.5" cy="1092.0" r="3.4"/>
<circle cx="1583.6" cy="1059.0" r="3.4"/>
<circle cx="1584.7" cy="1086.5" r="3.4"/>
<circle cx="1585.8" cy="1067.5" r="3.4"/>
<circle cx="1586.9" cy="1066.0" r="3.4"/>
<circle cx="1588.0" cy="1068.3" r="3.4"/>
<circle cx="1589.1" cy="1056.8" r="3.4"/>
<circle cx="1590.2" cy="1074.3" r="3.4"/>
<circle cx="1591.3" cy="1062.8" r="3.4"/>
<circle cx="1592.4" cy="1085.4" r="3.4"/>
<circle cx="1593.5" cy="1076.2" r="3.4"/>
<circle cx="1594.6" cy="1041.3" r="3.4"/>
<circle cx="1595.7" cy="1061.9" r="3.4"/>
<circle cx="1596.8" cy="1062.2" r="3.4"/>
<circle cx="1597.9" cy="1067.0" r="3.4"/>
<circle cx="1599.0" cy="1068.4" r="3.4"/>
<circle cx="1600.1" cy="1079.9" r="3.4"/>
<circle cx="1601.2" cy="1076.4" r="3.4"/>
<circle cx="1602.3" cy="1066.0" r="3.4"/>
<circle cx="1603.4" cy="1085.7" r="3.4"/>
<circle cx="1604.5" cy="1092.7" r="3.4"/>
<circle cx="1605.6" cy="1102.6" r="3.4"/>
<circle cx="1606.7" cy="1099.0" r="3.4"/>
<circle cx="1607.8" cy="1091.4" r="3.4"/>
<circle cx="1608.9" cy="1081.0" r="3.4"/>
<circle cx="1610.0" cy="1084.6" r="3.4"/>
<circle cx="1611.1" cy="1091.0" r="3.4"/>
<circle cx="1612.2" cy="1099.1" r="3.4"/>
<circle cx="1613.3" cy="1096.4" r="3.4"/>
<circle cx="1614.4" cy="1108.1" r="3.4"/>
<circle cx="1615.5" cy="1112.2" r="3.4"/>
<circle cx="1616.6" cy="1088.0" r="3.4"/>
<circle cx="1617.7" cy="1088.6" r="3.4"/>
<circle cx="1618.8" cy="1104.2" r="3.4"/>
<circle cx="1619.9" cy="1114.0" r="3.4"/>
<circle cx="1621.0" cy="1122.9" r="3.4"/>
<circle cx="1622.1" cy="1123.2" r="3.4"/>
<circle cx="1623.2" cy="1126.4" r="3.4"/>
<circle cx="1624.3" cy="1111.3" r="3.4"/>
<circle cx="1625.4" cy="1130.8" r="3.4"/>
<circle cx="1626.5" cy="1122.0" r="3.4"/>
<circle cx="1627.6" cy="1138.3" r="3.4"/>
<circle cx="1628.7" cy="1147.4" r="3.4"/>
<circle cx="1629.8" cy="1131.4" r="3.4"/>
<circle cx="1630.9" cy="1139.5" r="3.4"/>
<circle cx="1632.0" cy="1174.6" r="3.4"/>
<circle cx="1633.1" cy="1138.0" r="3.4"/>
<circle cx="1634.2" cy="1143.4" r="3.4"/>
<circle cx="1635.3" cy="1138.6" r="3.4"/>
<circle cx="1636.4" cy="1136.6" r="3.4"/>
<circle cx="1637.5" cy="1168.2" r="3.4"/>
<circle cx="1638.6" cy="1150.0" r="3.4"/>
<circle cx="1639.7" cy="1152.7" r="3.4"/>
<circle cx="1640.8" cy="1152.5" r="3.4"/>
<circle cx="1641.9" cy="1130.1" r="3.4"/>
<circle cx="1643.0" cy="1175.3" r="3.4"/>
<circle cx="1644.1" cy="1161.4" r="3.4"/>
<circle cx="1645.2" cy="1140.5" r="3.4"/>
<circle cx="1646.3" cy="1188.1" r="3.4"/>
<circle cx="1647.4" cy="1171.1" r="3.4"/>
<circle cx="1648.5" cy="1175.5" r="3.4"/>
<circle cx="1649.6" cy="1176.7" r="3.4"/>
<circle cx="1650.7" cy="1190.2" r="3.4"/>
<circle cx="1651.8" cy="1157.9" r="3.4"/>
<circle cx="1652.9" cy="1195.1" r="3.4"/>
<circle cx="1654.0" cy="1144.7" r="3.4"/>
<circle cx="1655.1" cy="1190.5" r="3.4"/>
<circle cx="1656.2" cy="1173.5" r="3.4"/>
<circle cx="1657.3" cy="1157.3" r="3.4"/>
<circle cx="1658.4" cy="1199.9" r="3.4"/>
<circle cx="1659.5" cy="1167.5" r="3.4"/>
<circle cx="1660.6" cy="1175.4" r="3.4"/>
<circle cx="1661.7" cy="1149.4" r="3.4"/>
<circle cx="1662.8" cy="1164.9" r="3.4"/>
<circle cx="1663.9" cy="1132.2" r="3.4"/>
<circle cx="1665.0" cy="1138.9" r="3.4"/>
<circle cx="1666.1" cy="1131.1" r="3.4"/>
<circle cx="1667.2" cy="1120.1" r="3.4"/>
<circle cx="1668.3" cy="1141.2" r="3.4"/>
<circle cx="1669.4" cy="1133.2" r="3.4"/>
<circle cx="1670.5" cy="1105.2" r="3.4"/>
<circle cx="1671.6" cy="1118.4" r="3.4"/>
<circle cx="1672.7" cy="1107.9" r="3.4"/>
<circle cx="1673.8" cy="1105.3" r="3.4"/>
<circle cx="1674.9" cy="1107.2" r="3.4"/>
<circle cx="1676.0" cy="1089.8" r="3.4"/>
<circle cx="1677.1" cy="1093.7" r="3.4"/>
<circle cx="1678.2" cy="1089.9" r="3.4"/>
<circle cx="1679.3" cy="1072.9" r="3.4"/>
<circle cx="1680.4" cy="1067.0" r="3.4"/>
<circle cx="1681.5" cy="1073.9" r="3.4"/>
<circle cx="1682.6" cy="1052.3" r="3.4"/>
<circle cx="1683.7" cy="1068.8" r="3.4"/>
<circle cx="1684.8" cy="1055.6" r="3.4"/>
<circle cx="1685.9" cy="1013.4" r="3.4"/>
<circle cx="1687.0" cy="1021.0" r="3.4"/>
<circle cx="1688.1" cy="988.3" r="3.4"/>
<circle cx="1689.2" cy="1001.3" r="3.4"/>
<circle cx="1690.3" cy="996.0" r="3.4"/>
<circle cx="1691.4" cy="996.6" r="3.4"/>
<circle cx="1692.5" cy="980.6" r="3.4"/>
<circle cx="1693.6" cy="1010.9" r="3.4"/>
<circle cx="1694.7" cy="1010.3" r="3.4"/>
<circle cx="1695.8" cy="999.5" r="3.4"/>
<circle cx="1696.9" cy="1009.0" r="3.4"/>
<circle cx="1698.0" cy="1021.5" r="3.4"/>
<circle cx="1699.1" cy="1030.0" r="3.4"/>
<circle cx="1700.2" cy="994.6" r="3.4"/>
<circle cx="1701.3" cy="1030.2" r="3.4"/>
<circle cx="1702.4" cy="990.4" r="3.4"/>
<circle cx="1703.5" cy="1001.6" r="3.4"/>
<circle cx="1704.6" cy="1007.2" r="3.4"/>
<circle cx="1705.7" cy="1031.2" r="3.4"/>
<circle cx="1706.8" cy="1020.3" r="3.4"/>
<circle cx="1707.9" cy="1020.4" r="3.4"/>
<circle cx="1709.0" cy="1032.4" r="3.4"/>
<circle cx="1710.1" cy="1016.1" r="3.4"/>
<circle cx="1711.2" cy="1007.7" r="3.4"/>
<circle cx="1712.3" cy="1030.6" r="3.4"/>
<circle cx="1713.4" cy="1009.7" r="3.4"/>
<circle cx="1714.5" cy="1013.2" r="3.4"/>
<circle cx="1715.6" cy="990.3" r="3.4"/>
<circle cx="1716.7" cy="1012.8" r="3.4"/>
<circle cx="1717.8" cy="1033.1" r="3.4"/>
<circle cx="1718.9" cy="1019.0" r="3.4"/>
<circle cx="1720.0" cy="1010.2" r="3.4"/>
<circle cx="1721.1" cy="1023.9" r="3.4"/>
<circle cx="1722.2" cy="990.7" r="3.4"/>
<circle cx="1723.3" cy="1012.6" r="3.4"/>
<circle cx="1724.4" cy="997.4" r="3.4"/>
<circle cx="1725.5" cy="1016.3" r="3.4"/>
<circle cx="1726.6" cy="985.3" r="3.4"/>
<circle cx="1727.7" cy="1002.4" r="3.4"/>
<circle cx="1728.8" cy="956.0" r="3.4"/>
<circle cx="1729.9" cy="994.6" r="3.4"/>
<circle cx="1731.0" cy="1007.0" r="3.4"/>
<circle cx="1732.1" cy="1002.6" r="3.4"/>
<circle cx="1733.2" cy="1028.1" r="3.4"/>
<circle cx="1734.3" cy="1015.1" r="3.4"/>
<circle cx="1735.4" cy="998.3" r="3.4"/>
<circle cx="1736.5" cy="1050.3" r="3.4"/>
<circle cx="1737.6" cy="1057.8" r="3.4"/>
<circle cx="1738.7" cy="1057.5" r="3.4"/>
<circle cx="1739.8" cy="1078.3" r="3.4"/>
<circle cx="1740.9" cy="1080.4" r="3.4"/>
<circle cx="1742.0" cy="1073.1" r="3.4"/>
<circle cx="1743.1" cy="1072.1" r="3.4"/>
<circle cx="1744.2" cy="1106.2" r="3.4"/>
<circle cx="1745.3" cy="1143.4" r="3.4"/>
<circle cx="1746.4" cy="1171.4" r="3.4"/>
<circle cx="1747.5" cy="1168.8" r="3.4"/>
<circle cx="1748.6" cy="1196.7" r="3.4"/>
<circle cx="1749.7" cy="1237.6" r="3.4"/>
<circle cx="1750.8" cy="1214.0" r="3.4"/>
<circle cx="1751.9" cy="1215.4" r="3.4"/>
<circle cx="1753.0" cy="1213.9" r="3.4"/>
<circle cx="1754.1" cy="1246.3" r="3.4"/>
<circle cx="1755.2" cy="1238.4" r="3.4"/>
<circle cx="1756.3" cy="1243.4" r="3.4"/>
<circle cx="1757.4" cy="1258.0" r="3.4"/>
<circle cx="1758.5" cy="1255.9" r="3.4"/>
<circle cx="1759.6" cy="1292.0" r="3.4"/>
<circle cx="1760.7" cy="1261.4" r="3.4"/>
<circle cx="1761.8" cy="1247.5" r="3.4"/>
<circle cx="1762.9" cy="1273.4" r="3.4"/>
<circle cx="1764.0" cy="1278.0" r="3.4"/>
<circle cx="1765.1" cy="1258.6" r="3.4"/>
<circle cx="1766.2" cy="1272.7" r="3.4"/>
<circle cx="1767.3" cy="1273.0" r="3.4"/>
<circle cx="1768.4" cy="1271.0" r="3.4"/>
<circle cx="1769.5" cy="1279.2" r="3.4"/>
<circle cx="1770.6" cy="1302.0" r="3.4"/>
<circle cx="1771.7" cy="1274.1" r="3.4"/>
<circle cx="1772.8" cy="1281.4" r="3.4"/>
<circle cx="1773.9" cy="1284.9" r="3.4"/>
<circle cx="1775.0" cy="1298.6" r="3.4"/>
<circle cx="1776.1" cy="1268.1" r="3.4"/>
<circle cx="1777.2" cy="1288.9" r="3.4"/>
<circle cx="1778.3" cy="1305.9" r="3.4"/>
<circle cx="1779.4" cy="1309.4" r="3.4"/>
<circle cx="1780.5" cy="1300.4" r="3.4"/>
<circle cx="1781.6" cy="1297.9" r="3.4"/>
<circle cx="1782.7" cy="1271.0" r="3.4"/>
<circle cx="1783.8" cy="1285.8" r="3.4"/>
<circle cx="1784.9" cy="1295.1" r="3.4"/>
<circle cx="1786.0" cy="1301.3" r="3.4"/>
<circle cx="1787.1" cy="1302.6" r="3.4"/>
<circle cx="1788.2" cy="1270.9" r="3.4"/>
<circle cx="1789.3" cy="1292.9" r="3.4"/>
<circle cx="1790.4" cy="1303.7" r="3.4"/>
<circle cx="1791.5" cy="1292.0" r="3.4"/>
<circle cx="1792.6" cy="1299.5" r="3.4"/>
<circle cx="1793.7" cy="1309.4" r="3.4"/>
<circle cx="1794.8" cy="1307.9" r="3.4"/>
<circle cx="1795.9" cy="1307.2" r="3.4"/>
<circle cx="1797.0" cy="1314.6" r="3.4"/>
<circle cx="1798.1" cy="1319.8" r="3.4"/>
<circle cx="1799.2" cy="1302.8" r="3.4"/>
<circle cx="1800.3" cy="1293.5" r="3.4"/>
<circle cx="1801.4" cy="1297.2" r="3.4"/>
<circle cx="1802.5" cy="1298.8" r="3.4"/>
<circle cx="1803.6" cy="1303.2" r="3.4"/>
<circle cx="1804.7" cy="1284.2" r="3.4"/>
<circle cx="1805.8" cy="1291.9" r="3.4"/>
<circle cx="1806.9" cy="1296.6" r="3.4"/>
<circle cx="1808.0" cy="1292.2" r="3.4"/>
<circle cx="1809.1" cy="1303.6" r="3.4"/>
<circle cx="1810.2" cy="1294.7" r="3.4"/>
<circle cx="1811.3" cy="1306.9" r="3.4"/>
<circle cx="1812.4" cy="1298.6" r="3.4"/>
<circle cx="1813.5" cy="1299.9" r="3.4"/>
<circle cx="1814.6" cy="1310.9" r="3.4"/>
<circle cx="1815.7" cy="1303.5" r="3.4"/>
<circle cx="1816.8" cy="1302.8" r="3.4"/>
<circle cx="1817.9" cy="1311.2" r="3.4"/>
<circle cx="1819.0" cy="1297.5" r="3.4"/>
<circle cx="1820.1" cy="1306.0" r="3.4"/>
<circle cx="1821.2" cy="1281.3" r="3.4"/>
<circle cx="1822.3" cy="1302.3" r="3.4"/>
<circle cx="1823.4" cy="1326.4" r="3.4"/>
<circle cx="1824.5" cy="1331.5" r="3.4"/>
<circle cx="1825.6" cy="1308.0" r="3.4"/>
<circle cx="1826.7" cy="1302.6" r="3.4"/>
<circle cx="1827.8" cy="1294.7" r="3.4"/>
<circle cx="1828.9" cy="1312.2" r="3.4"/>
<circle cx="1830.0" cy="1305.2" r="3.4"/>
<circle cx="1831.1" cy="1317.7" r="3.4"/>
<circle cx="1832.2" cy="1292.9" r="3.4"/>
<circle cx="1833.3" cy="1303.1" r="3.4"/>
<circle cx="1834.4" cy="1297.6" r="3.4"/>
<circle cx="1835.5" cy="1293.8" r="3.4"/>
<circle cx="1836.6" cy="1313.1" r="3.4"/>
<circle cx="1837.7" cy="1290.5" r="3.4"/>
<circle cx="1838.8" cy="1289.9" r="3.4"/>
<circle cx="1839.9" cy="1328.1" r="3.4"/>
<circle cx="1841.0" cy="1296.1" r="3.4"/>
<circle cx="1842.1" cy="1293.7" r="3.4"/>
<circle cx="1843.2" cy="1301.0" r="3.4"/>
<circle cx="1844.3" cy="1282.6" r="3.4"/>
<circle cx="1845.4" cy="1298.4" r="3.4"/>
<circle cx="1846.5" cy="1279.7" r="3.4"/>
<circle cx="1847.6" cy="1260.5" r="3.4"/>
<circle cx="1848.7" cy="1287.2" r="3.4"/>
<circle cx="1849.8" cy="1310.9" r="3.4"/>
<circle cx="1850.9" cy="1303.1" r="3.4"/>
<circle cx="1852.0" cy="1318.7" r="3.4"/>
<circle cx="1853.1" cy="1317.9" r="3.4"/>
<circle cx="1854.2" cy="1290.8" r="3.4"/>
<circle cx="1855.3" cy="1306.6" r="3.4"/>
<circle cx="1856.4" cy="1296.3" r="3.4"/>
<circle cx="1857.5" cy="1294.9" r="3.4"/>
<circle cx="1858.6" cy="1317.6" r="3.4"/>
<circle cx="1859.7" cy="1321.0" r="3.4"/>
<circle cx="1860.8" cy="1305.5" r="3.4"/>
<circle cx="1861.9" cy="1307.9" r="3.4"/>
<circle cx="1863.0" cy="1277.7" r="3.4"/>
<circle cx="1864.1" cy="1306.9" r="3.4"/>
<circle cx="1865.2" cy="1306.6" r="3.4"/>
<circle cx="1866.3" cy="1289.7" r="3.4"/>
<circle cx="1867.4" cy="1308.6" r="3.4"/>
<circle cx="1868.5" cy="1292.4" r="3.4"/>
<circle cx="1869.6" cy="1286.0" r="3.4"/>
<circle cx="1870.7" cy="1298.5" r="3.4"/>
<circle cx="1871.8" cy="1303.4" r="3.4"/>
<circle cx="1872.9" cy="1310.5" r="3.4"/>
<circle cx="1874.0" cy="1305.3" r="3.4"/>
<circle cx="1875.1" cy="1304.9" r="3.4"/>
<circle cx="1876.2" cy="1294.2" r="3.4"/>
<circle cx="1877.3" cy="1308.0" r="3.4"/>
<circle cx="1878.4" cy="1306.9" r="3.4"/>
<circle cx="1879.5" cy="1309.0" r="3.4"/>
<circle cx="1880.6" cy="1297.7" r="3.4"/>
<circle cx="1881.7" cy="1328.0" r="3.4"/>
<circle cx="1882.8" cy="1317.3" r="3.4"/>
<circle cx="1883.9" cy="1316.7" r="3.4"/>
<circle cx="1885.0" cy="1309.4" r="3.4"/>
<circle cx="1886.1" cy="1304.0" r="3.4"/>
<circle cx="1887.2" cy="1317.1" r="3.4"/>
<circle cx="1888.3" cy="1288.0" r="3.4"/>
<circle cx="1889.4" cy="1295.8" r="3.4"/>
<circle cx="1890.5" cy="1294.8" r="3.4"/>
<circle cx="1891.6" cy="1302.0" r="3.4"/>
<circle cx="1892.7" cy="1288.1" r="3.4"/>
<circle cx="1893.8" cy="1305.8" r="3.4"/>
<circle cx="1894.9" cy="1264.8" r="3.4"/>
<circle cx="1896.0" cy="1302.7" r="3.4"/>
<circle cx="1897.1" cy="1286.3" r="3.4"/>
<circle cx="1898.2" cy="1293.2" r="3.4"/>
<circle cx="1899.3" cy="1275.9" r="3.4"/>
<circle cx="1900.4" cy="1295.4" r="3.4"/>
<circle cx="1901.5" cy="1280.4" r="3.4"/>
<circle cx="1902.6" cy="1289.1" r="3.4"/>
<circle cx="1903.7" cy="1269.9" r="3.4"/>
<circle cx="1904.8" cy="1295.9" r="3.4"/>
<circle cx="1905.9" cy="1292.2" r="3.4"/>
<circle cx="1907.0" cy="1268.9" r="3.4"/>
<circle cx="1908.1" cy="1290.9" r="3.4"/>
<circle cx="1909.2" cy="1288.3" r="3.4"/>
<circle cx="1910.3" cy="1301.6" r="3.4"/>
<circle cx="1911.4" cy="1283.0" r="3.4"/>
<circle cx="1912.5" cy="1292.7" r="3.4"/>
<circle cx="1913.6" cy="1305.1" r="3.4"/>
<circle cx="1914.7" cy="1278.3" r="3.4"/>
<circle cx="1915.8" cy="1310.9" r="3.4"/>
<circle cx="1916.9" cy="1291.0" r="3.4"/>
<circle cx="1918.0" cy="1285.3" r="3.4"/>
<circle cx="1919.1" cy="1271.8" r="3.4"/>
<circle cx="1920.2" cy="1267.4" r="3.4"/>
<circle cx="1921.3" cy="1301.1" r="3.4"/>
<circle cx="1922.4" cy="1284.8" r="3.4"/>
</g>
<rect x="119.7" y="1590.7" width="834.6999999999999" height="618.7" fill="none" stroke="#404040" stroke-width="2.7"/>
<line x1="149.9" y1="2209.4" x2="149.9" y2="2216.4" stroke="#404040" stroke-width="2.6"/>
<line x1="200.8" y1="2209.4" x2="200.8" y2="2221.9" stroke="#404040" stroke-width="2.6"/>
<line x1="251.8" y1="2209.4" x2="251.8" y2="2216.4" stroke="#404040" stroke-width="2.6"/>
<line x1="302.7" y1="2209.4" x2="302.7" y2="2221.9" stroke="#404040" stroke-width="2.6"/>
<line x1="353.6" y1="2209.4" x2="353.6" y2="2216.4" stroke="#404040" stroke-width="2.6"/>
<line x1="404.6" y1="2209.4" x2="404.6" y2="2221.9" stroke="#404040" stroke-width="2.6"/>
<line x1="455.6" y1="2209.4" x2="455.6" y2="2216.4" stroke="#404040" stroke-width="2.6"/>
<line x1="506.5" y1="2209.4" x2="506.5" y2="2221.9" stroke="#404040" stroke-width="2.6"/>
<line x1="557.5" y1="2209.4" x2="557.5" y2="2216.4" stroke="#404040" stroke-width="2.6"/>
<line x1="608.4" y1="2209.4" x2="608.4" y2="2221.9" stroke="#404040" stroke-width="2.6"/>
<line x1="659.3" y1="2209.4" x2="659.3" y2="2216.4" stroke="#404040" stroke-width="2.6"/>
<line x1="710.3" y1="2209.4" x2="710.3" y2="2221.9" stroke="#404040" stroke-width="2.6"/>
<line x1="761.2" y1="2209.4" x2="761.2" y2="2216.4" stroke="#404040" stroke-width="2.6"/>
<line x1="812.2" y1="2209.4" x2="812.2" y2="2221.9" stroke="#404040" stroke-width="2.6"/>
<line x1="863.2" y1="2209.4" x2="863.2" y2="2216.4" stroke="#404040" stroke-width="2.6"/>
<line x1="914.1" y1="2209.4" x2="914.1" y2="2221.9" stroke="#404040" stroke-width="2.6"/>
<text x="200.8" y="2256.5" font-family="'Liberation Sans',Arial,sans-serif" font-size="34" font-weight="normal" text-anchor="middle" fill="#404040" >810</text>
<text x="302.7" y="2256.5" font-family="'Liberation Sans',Arial,sans-serif" font-size="34" font-weight="normal" text-anchor="middle" fill="#404040" >805</text>
<text x="404.6" y="2256.5" font-family="'Liberation Sans',Arial,sans-serif" font-size="34" font-weight="normal" text-anchor="middle" fill="#404040" >800</text>
<text x="506.5" y="2256.5" font-family="'Liberation Sans',Arial,sans-serif" font-size="34" font-weight="normal" text-anchor="middle" fill="#404040" >795</text>
<text x="608.4" y="2256.5" font-family="'Liberation Sans',Arial,sans-serif" font-size="34" font-weight="normal" text-anchor="middle" fill="#404040" >790</text>
<text x="710.3" y="2256.5" font-family="'Liberation Sans',Arial,sans-serif" font-size="34" font-weight="normal" text-anchor="middle" fill="#404040" >785</text>
<text x="812.2" y="2256.5" font-family="'Liberation Sans',Arial,sans-serif" font-size="34" font-weight="normal" text-anchor="middle" fill="#404040" >780</text>
<text x="914.1" y="2256.5" font-family="'Liberation Sans',Arial,sans-serif" font-size="34" font-weight="normal" text-anchor="middle" fill="#404040" >775</text>
<text x="278.5" y="2334.0" font-family="'Liberation Serif','Times New Roman',serif" font-size="54" font-weight="bold" text-anchor="start" fill="#000" >Binding Energy (eV)</text>
<text transform="translate(92.0,2100.0) rotate(-90)" font-family="'Liberation Serif','Times New Roman',serif" font-size="78.0" font-weight="bold" fill="#000" >Intensity</text>
<text x="156.1" y="1653.9" font-family="'Liberation Serif','Times New Roman',serif" font-size="46" font-weight="bold" text-anchor="start" fill="#000" >Co 2p</text>
<text x="393.5" y="1722.9" font-family="'Liberation Serif','Times New Roman',serif" font-size="41" font-weight="normal" fill="#1a1a1a" ><tspan dy="-0.0">Co 2p</tspan><tspan font-size="26.5" dy="10.0">1/2</tspan></text>
<text x="770.5" y="1631.8" font-family="'Liberation Serif','Times New Roman',serif" font-size="41" font-weight="normal" fill="#1a1a1a" ><tspan dy="-0.0">Co 2p</tspan><tspan font-size="26.5" dy="10.0">3/2</tspan></text>
<polyline points="120.2,1784.6 121.3,1805.0 122.4,1795.6 123.5,1794.6 124.6,1807.5 125.7,1789.8 126.8,1777.6 127.9,1811.1 129.0,1789.1 130.1,1797.8 131.2,1810.6 132.3,1802.0 133.4,1801.5 134.5,1794.0 135.6,1807.0 136.7,1824.4 137.8,1795.7 138.9,1790.5 140.0,1805.7 141.1,1795.3 142.2,1804.8 143.3,1804.1 144.4,1809.7 145.5,1807.2 146.6,1809.1 147.7,1819.8 148.8,1797.0 149.9,1808.3 151.0,1811.9 152.1,1796.3 153.2,1799.9 154.3,1807.1 155.4,1805.7 156.5,1823.8 157.6,1814.4 158.7,1844.6 159.8,1810.8 160.9,1812.3 162.0,1840.0 163.1,1811.0 164.2,1840.5 165.3,1785.2 166.4,1811.3 167.5,1833.2 168.6,1835.3 169.7,1823.2 170.8,1811.4 171.9,1816.4 173.0,1825.6 174.1,1820.2 175.2,1826.5 176.3,1808.7 177.4,1825.0 178.5,1829.8 179.6,1849.0 180.7,1824.4 181.8,1824.5 182.9,1808.4 184.0,1803.2 185.1,1792.9 186.2,1821.3 187.3,1837.0 188.4,1813.9 189.5,1787.8 190.6,1815.0 191.7,1809.9 192.8,1807.4 193.9,1829.2 195.0,1823.4 196.1,1826.0 197.2,1802.1 198.3,1814.5 199.4,1799.6 200.5,1823.9 201.6,1801.0 202.7,1827.2 203.8,1817.9 204.9,1819.1 206.0,1802.9 207.1,1826.7 208.2,1801.2 209.3,1807.9 210.4,1811.4 211.5,1842.8 212.6,1821.7 213.7,1812.4 214.8,1823.9 215.9,1841.9 217.0,1813.9 218.1,1803.2 219.2,1801.7 220.3,1812.0 221.4,1829.8 222.5,1810.5 223.6,1809.6 224.7,1802.0 225.8,1800.8 226.9,1824.3 228.0,1817.6 229.1,1818.9 230.2,1800.6 231.3,1821.4 232.4,1819.3 233.5,1832.1 234.6,1827.3 235.7,1813.5 236.8,1819.0 237.9,1818.2 239.0,1812.9 240.1,1803.7 241.2,1821.3 242.3,1834.5 243.4,1808.7 244.5,1826.1 245.6,1804.7 246.7,1803.8 247.8,1806.4 248.9,1812.9 250.0,1815.2 251.1,1816.0 252.2,1775.2 253.3,1809.2 254.4,1803.0 255.5,1815.6 256.6,1786.4 257.7,1796.3 258.8,1807.6 259.9,1804.7 261.0,1812.8 262.1,1790.5 263.2,1794.6 264.3,1811.3 265.4,1794.3 266.5,1817.2 267.6,1825.8 268.7,1822.7 269.8,1807.2 270.9,1829.9 272.0,1820.0 273.1,1827.4 274.2,1824.3 275.3,1815.1 276.4,1799.4 277.5,1795.0 278.6,1800.7 279.7,1797.6 280.8,1799.4 281.9,1792.8 283.0,1800.9 284.1,1795.0 285.2,1802.8 286.3,1800.2 287.4,1806.2 288.5,1789.6 289.6,1790.1 290.7,1787.2 291.8,1799.3 292.9,1805.2 294.0,1808.6 295.1,1797.2 296.2,1792.8 297.3,1800.9 298.4,1791.4 299.5,1780.4 300.6,1815.3 301.7,1784.7 302.8,1772.7 303.9,1785.7 305.0,1778.3 306.1,1786.0 307.2,1778.2 308.3,1781.7 309.4,1777.9 310.5,1782.1 311.6,1788.4 312.7,1783.7 313.8,1779.8 314.9,1789.3 316.0,1762.9 317.1,1777.7 318.2,1787.0 319.3,1779.5 320.4,1784.4 321.5,1762.0 322.6,1783.2 323.7,1763.5 324.8,1782.6 325.9,1773.6 327.0,1796.7 328.1,1763.8 329.2,1770.5 330.3,1754.4 331.4,1778.5 332.5,1783.6 333.6,1780.9 334.7,1789.9 335.8,1785.4 336.9,1781.2 338.0,1786.4 339.1,1775.6 340.2,1791.6 341.3,1785.4 342.4,1786.7 343.5,1782.4 344.6,1778.5 345.7,1775.3 346.8,1783.1 347.9,1794.2 349.0,1768.7 350.1,1789.0 351.2,1825.4 352.3,1803.5 353.4,1787.2 354.5,1793.2 355.6,1788.1 356.7,1791.2 357.8,1792.4 358.9,1781.3 360.0,1805.2 361.1,1796.1 362.2,1806.7 363.3,1798.1 364.4,1808.9 365.5,1799.7 366.6,1832.2 367.7,1813.5 368.8,1816.4 369.9,1802.8 371.0,1788.0 372.1,1801.1 373.2,1810.0 374.3,1806.0 375.4,1798.4 376.5,1796.2 377.6,1790.7 378.7,1798.4 379.8,1809.3 380.9,1809.3 382.0,1809.0 383.1,1800.3 384.2,1804.6 385.3,1803.0 386.4,1808.5 387.5,1808.2 388.6,1813.1 389.7,1807.3 390.8,1810.0 391.9,1827.8 393.0,1829.4 394.1,1796.8 395.2,1825.0 396.3,1827.4 397.4,1834.6 398.5,1805.3 399.6,1811.2 400.7,1824.9 401.8,1830.8 402.9,1817.9 404.0,1841.1 405.1,1839.8 406.2,1835.7 407.3,1837.4 408.4,1816.7 409.5,1827.2 410.6,1804.6 411.7,1838.9 412.8,1840.6 413.9,1832.7 415.0,1817.9 416.1,1828.1 417.2,1836.7 418.3,1812.5 419.4,1825.7 420.5,1828.5 421.6,1810.6 422.7,1809.9 423.8,1825.0 424.9,1817.5 426.0,1821.2 427.1,1806.1 428.2,1790.2 429.3,1796.6 430.4,1787.6 431.5,1788.6 432.6,1793.6 433.7,1801.8 434.8,1785.9 435.9,1801.7 437.0,1767.1 438.1,1777.2 439.2,1778.2 440.3,1755.2 441.4,1759.9 442.5,1773.0 443.6,1777.8 444.7,1781.5 445.8,1778.4 446.9,1775.0 448.0,1764.4 449.1,1779.4 450.2,1795.7 451.3,1783.7 452.4,1771.9 453.5,1780.3 454.6,1783.2 455.7,1791.7 456.8,1772.9 457.9,1783.6 459.0,1784.2 460.1,1775.2 461.2,1777.2 462.3,1773.7 463.4,1778.3 464.5,1779.7 465.6,1763.4 466.7,1773.1 467.8,1788.6 468.9,1770.8 470.0,1749.6 471.1,1781.9 472.2,1762.7 473.3,1765.3 474.4,1768.0 475.5,1757.8 476.6,1751.3 477.7,1754.6 478.8,1765.7 479.9,1764.1 481.0,1762.8 482.1,1789.5 483.2,1755.7 484.3,1780.7 485.4,1794.1 486.5,1774.8 487.6,1770.2 488.7,1772.3 489.8,1776.7 490.9,1794.4 492.0,1787.3 493.1,1774.5 494.2,1771.4 495.3,1785.9 496.4,1798.0 497.5,1774.6 498.6,1799.0 499.7,1787.8 500.8,1786.8 501.9,1786.4 503.0,1784.3 504.1,1788.6 505.2,1808.2 506.3,1782.4 507.4,1793.6 508.5,1798.5 509.6,1787.7 510.7,1794.9 511.8,1785.5 512.9,1806.9 514.0,1807.4 515.1,1787.1 516.2,1816.6 517.3,1792.4 518.4,1784.0 519.5,1786.4 520.6,1810.4 521.7,1782.2 522.8,1806.5 523.9,1811.0 525.0,1819.7 526.1,1807.2 527.2,1824.0 528.3,1809.2 529.4,1824.5 530.5,1806.8 531.6,1822.2 532.7,1818.3 533.8,1826.0 534.9,1850.0 536.0,1830.2 537.1,1833.9 538.2,1838.1 539.3,1844.8 540.4,1824.6 541.5,1862.1 542.6,1847.7 543.7,1848.1 544.8,1876.7 545.9,1868.5 547.0,1887.9 548.1,1900.3 549.2,1892.2 550.3,1884.6 551.4,1899.2 552.5,1922.4 553.6,1904.8 554.7,1925.3 555.8,1924.8 556.9,1899.5 558.0,1923.4 559.1,1902.2 560.2,1923.5 561.3,1925.3 562.4,1919.2 563.5,1906.3 564.6,1920.4 565.7,1922.2 566.8,1932.0 567.9,1927.6 569.0,1934.8 570.1,1927.2 571.2,1898.4 572.3,1931.6 573.4,1947.4 574.5,1924.8 575.6,1924.3 576.7,1916.1 577.8,1957.1 578.9,1927.8 580.0,1951.1 581.1,1942.4 582.2,1940.0 583.3,1942.5 584.4,1961.3 585.5,1959.5 586.6,1946.6 587.7,1953.6 588.8,1955.1 589.9,1946.0 591.0,1938.9 592.1,1941.8 593.2,1927.2 594.3,1941.5 595.4,1929.7 596.5,1928.8 597.6,1918.1 598.7,1930.2 599.8,1932.7 600.9,1912.1 602.0,1930.1 603.1,1930.9 604.2,1939.5 605.3,1937.5 606.4,1899.7 607.5,1938.1 608.6,1930.4 609.7,1922.5 610.8,1916.3 611.9,1933.1 613.0,1931.3 614.1,1916.6 615.2,1923.2 616.3,1913.7 617.4,1907.7 618.5,1903.9 619.6,1917.6 620.7,1912.1 621.8,1910.6 622.9,1921.0 624.0,1903.7 625.1,1911.3 626.2,1883.5 627.3,1923.9 628.4,1886.9 629.5,1896.0 630.6,1898.7 631.7,1897.2 632.8,1901.3 633.9,1887.2 635.0,1913.7 636.1,1907.7 637.2,1918.9 638.3,1904.4 639.4,1893.2 640.5,1879.5 641.6,1862.4 642.7,1903.0 643.8,1870.8 644.9,1914.0 646.0,1901.9 647.1,1887.1 648.2,1890.4 649.3,1878.5 650.4,1892.6 651.5,1896.4 652.6,1903.3 653.7,1875.6 654.8,1898.2 655.9,1873.1 657.0,1882.7 658.1,1882.5 659.2,1885.0 660.3,1899.8 661.4,1896.2 662.5,1889.8 663.6,1874.5 664.7,1881.1 665.8,1894.1 666.9,1889.9 668.0,1878.8 669.1,1906.6 670.2,1912.5 671.3,1892.9 672.4,1882.9 673.5,1885.5 674.6,1873.6 675.7,1870.4 676.8,1884.8 677.9,1877.4 679.0,1888.2 680.1,1907.7 681.2,1881.3 682.3,1875.4 683.4,1876.2 684.5,1878.2 685.6,1888.1 686.7,1874.1 687.8,1880.6 688.9,1860.6 690.0,1861.6 691.1,1869.7 692.2,1881.8 693.3,1863.5 694.4,1887.4 695.5,1865.7 696.6,1878.8 697.7,1878.3 698.8,1897.1 699.9,1873.0 701.0,1876.1 702.1,1884.7 703.2,1897.5 704.3,1899.4 705.4,1881.5 706.5,1887.8 707.6,1884.1 708.7,1916.1 709.8,1903.2 710.9,1905.5 712.0,1876.0 713.1,1900.0 714.2,1894.1 715.3,1905.3 716.4,1876.8 717.5,1906.5 718.6,1897.1 719.7,1894.2 720.8,1872.9 721.9,1903.4 723.0,1883.0 724.1,1880.7 725.2,1874.8 726.3,1868.6 727.4,1870.7 728.5,1868.2 729.6,1875.7 730.7,1868.1 731.8,1853.3 732.9,1861.4 734.0,1868.0 735.1,1849.3 736.2,1852.9 737.3,1863.2 738.4,1853.6 739.5,1841.0 740.6,1849.7 741.7,1850.6 742.8,1844.9 743.9,1836.6 745.0,1851.5 746.1,1814.6 747.2,1829.6 748.3,1812.7 749.4,1810.9 750.5,1809.5 751.6,1807.4 752.7,1813.5 753.8,1808.3 754.9,1812.1 756.0,1816.5 757.1,1793.9 758.2,1817.2 759.3,1796.3 760.4,1766.4 761.5,1779.2 762.6,1757.5 763.7,1760.5 764.8,1752.2 765.9,1766.8 767.0,1742.5 768.1,1735.9 769.2,1744.6 770.3,1730.0 771.4,1711.9 772.5,1732.7 773.6,1726.8 774.7,1708.6 775.8,1690.5 776.9,1696.4 778.0,1690.2 779.1,1712.9 780.2,1685.3 781.3,1696.8 782.4,1697.5 783.5,1683.5 784.6,1679.6 785.7,1685.9 786.8,1677.9 787.9,1651.4 789.0,1660.1 790.1,1643.3 791.2,1660.2 792.3,1677.6 793.4,1651.9 794.5,1684.2 795.6,1698.1 796.7,1674.5 797.8,1658.9 798.9,1696.1 800.0,1669.5 801.1,1666.8 802.2,1668.6 803.3,1675.1 804.4,1674.0 805.5,1701.7 806.6,1672.3 807.7,1666.2 808.8,1670.4 809.9,1686.4 811.0,1713.6 812.1,1688.4 813.2,1711.6 814.3,1732.2 815.4,1728.8 816.5,1735.5 817.6,1740.2 818.7,1753.0 819.8,1745.2 820.9,1770.0 822.0,1736.2 823.1,1764.4 824.2,1764.9 825.3,1753.0 826.4,1747.7 827.5,1761.8 828.6,1736.3 829.7,1740.4 830.8,1728.4 831.9,1733.8 833.0,1713.7 834.1,1708.0 835.2,1724.4 836.3,1695.9 837.4,1683.8 838.5,1682.8 839.6,1638.3 840.7,1655.3 841.8,1667.7 842.9,1691.9 844.0,1677.9 845.1,1701.9 846.2,1723.8 847.3,1728.8 848.4,1809.2 849.5,1843.3 850.6,1853.5 851.7,1881.5 852.8,1915.6 853.9,1938.5 855.0,1968.9 856.1,1958.0 857.2,1981.8 858.3,1983.6 859.4,2020.1 860.5,2004.0 861.6,2029.4 862.7,2043.7 863.8,2012.6 864.9,2035.4 866.0,2025.4 867.1,2045.4 868.2,2056.1 869.3,2043.9 870.4,2053.3 871.5,2061.4 872.6,2047.6 873.7,2053.6 874.8,2047.0 875.9,2064.5 877.0,2057.7 878.1,2077.3 879.2,2076.5 880.3,2051.4 881.4,2069.2 882.5,2071.4 883.6,2072.8 884.7,2076.9 885.8,2072.5 886.9,2086.7 888.0,2085.4 889.1,2084.6 890.2,2076.3 891.3,2096.0 892.4,2071.1 893.5,2098.3 894.6,2095.9 895.7,2082.5 896.8,2097.7 897.9,2119.4 899.0,2096.8 900.1,2091.6 901.2,2101.2 902.3,2106.6 903.4,2119.8 904.5,2100.2 905.6,2113.0 906.7,2105.7 907.8,2102.4 908.9,2109.7 910.0,2095.9 911.1,2115.3 912.2,2120.7 913.3,2108.3 914.4,2090.0 915.5,2103.5 916.6,2114.8 917.7,2122.8 918.8,2111.1 919.9,2127.6 921.0,2112.0 922.1,2103.2 923.2,2121.9 924.3,2109.8 925.4,2130.2 926.5,2127.2 927.6,2111.0 928.7,2108.1 929.8,2116.4 930.9,2125.6 932.0,2114.9 933.1,2112.0 934.2,2124.6 935.3,2120.5 936.4,2106.9 937.5,2107.6 938.6,2092.1 939.7,2113.2 940.8,2112.7 941.9,2122.6 943.0,2111.6 944.1,2115.3 945.2,2116.8 946.3,2116.7 947.4,2120.5 948.5,2119.1 949.6,2139.2 950.7,2127.1 951.8,2134.7 952.9,2136.2" fill="none" stroke="#ff0000" stroke-width="1.2" stroke-linejoin="round"/>
<g fill="none" stroke="#ff0000" stroke-width="1.25">
<circle cx="120.2" cy="1784.6" r="3.5"/>
<circle cx="121.3" cy="1805.0" r="3.5"/>
<circle cx="122.4" cy="1795.6" r="3.5"/>
<circle cx="123.5" cy="1794.6" r="3.5"/>
<circle cx="124.6" cy="1807.5" r="3.5"/>
<circle cx="125.7" cy="1789.8" r="3.5"/>
<circle cx="126.8" cy="1777.6" r="3.5"/>
<circle cx="127.9" cy="1811.1" r="3.5"/>
<circle cx="129.0" cy="1789.1" r="3.5"/>
<circle cx="130.1" cy="1797.8" r="3.5"/>
<circle cx="131.2" cy="1810.6" r="3.5"/>
<circle cx="132.3" cy="1802.0" r="3.5"/>
<circle cx="133.4" cy="1801.5" r="3.5"/>
<circle cx="134.5" cy="1794.0" r="3.5"/>
<circle cx="135.6" cy="1807.0" r="3.5"/>
<circle cx="136.7" cy="1824.4" r="3.5"/>
<circle cx="137.8" cy="1795.7" r="3.5"/>
<circle cx="138.9" cy="1790.5" r="3.5"/>
<circle cx="140.0" cy="1805.7" r="3.5"/>
<circle cx="141.1" cy="1795.3" r="3.5"/>
<circle cx="142.2" cy="1804.8" r="3.5"/>
<circle cx="143.3" cy="1804.1" r="3.5"/>
<circle cx="144.4" cy="1809.7" r="3.5"/>
<circle cx="145.5" cy="1807.2" r="3.5"/>
<circle cx="146.6" cy="1809.1" r="3.5"/>
<circle cx="147.7" cy="1819.8" r="3.5"/>
<circle cx="148.8" cy="1797.0" r="3.5"/>
<circle cx="149.9" cy="1808.3" r="3.5"/>
<circle cx="151.0" cy="1811.9" r="3.5"/>
<circle cx="152.1" cy="1796.3" r="3.5"/>
<circle cx="153.2" cy="1799.9" r="3.5"/>
<circle cx="154.3" cy="1807.1" r="3.5"/>
<circle cx="155.4" cy="1805.7" r="3.5"/>
<circle cx="156.5" cy="1823.8" r="3.5"/>
<circle cx="157.6" cy="1814.4" r="3.5"/>
<circle cx="158.7" cy="1844.6" r="3.5"/>
<circle cx="159.8" cy="1810.8" r="3.5"/>
<circle cx="160.9" cy="1812.3" r="3.5"/>
<circle cx="162.0" cy="1840.0" r="3.5"/>
<circle cx="163.1" cy="1811.0" r="3.5"/>
<circle cx="164.2" cy="1840.5" r="3.5"/>
<circle cx="165.3" cy="1785.2" r="3.5"/>
<circle cx="166.4" cy="1811.3" r="3.5"/>
<circle cx="167.5" cy="1833.2" r="3.5"/>
<circle cx="168.6" cy="1835.3" r="3.5"/>
<circle cx="169.7" cy="1823.2" r="3.5"/>
<circle cx="170.8" cy="1811.4" r="3.5"/>
<circle cx="171.9" cy="1816.4" r="3.5"/>
<circle cx="173.0" cy="1825.6" r="3.5"/>
<circle cx="174.1" cy="1820.2" r="3.5"/>
<circle cx="175.2" cy="1826.5" r="3.5"/>
<circle cx="176.3" cy="1808.7" r="3.5"/>
<circle cx="177.4" cy="1825.0" r="3.5"/>
<circle cx="178.5" cy="1829.8" r="3.5"/>
<circle cx="179.6" cy="1849.0" r="3.5"/>
<circle cx="180.7" cy="1824.4" r="3.5"/>
<circle cx="181.8" cy="1824.5" r="3.5"/>
<circle cx="182.9" cy="1808.4" r="3.5"/>
<circle cx="184.0" cy="1803.2" r="3.5"/>
<circle cx="185.1" cy="1792.9" r="3.5"/>
<circle cx="186.2" cy="1821.3" r="3.5"/>
<circle cx="187.3" cy="1837.0" r="3.5"/>
<circle cx="188.4" cy="1813.9" r="3.5"/>
<circle cx="189.5" cy="1787.8" r="3.5"/>
<circle cx="190.6" cy="1815.0" r="3.5"/>
<circle cx="191.7" cy="1809.9" r="3.5"/>
<circle cx="192.8" cy="1807.4" r="3.5"/>
<circle cx="193.9" cy="1829.2" r="3.5"/>
<circle cx="195.0" cy="1823.4" r="3.5"/>
<circle cx="196.1" cy="1826.0" r="3.5"/>
<circle cx="197.2" cy="1802.1" r="3.5"/>
<circle cx="198.3" cy="1814.5" r="3.5"/>
<circle cx="199.4" cy="1799.6" r="3.5"/>
<circle cx="200.5" cy="1823.9" r="3.5"/>
<circle cx="201.6" cy="1801.0" r="3.5"/>
<circle cx="202.7" cy="1827.2" r="3.5"/>
<circle cx="203.8" cy="1817.9" r="3.5"/>
<circle cx="204.9" cy="1819.1" r="3.5"/>
<circle cx="206.0" cy="1802.9" r="3.5"/>
<circle cx="207.1" cy="1826.7" r="3.5"/>
<circle cx="208.2" cy="1801.2" r="3.5"/>
<circle cx="209.3" cy="1807.9" r="3.5"/>
<circle cx="210.4" cy="1811.4" r="3.5"/>
<circle cx="211.5" cy="1842.8" r="3.5"/>
<circle cx="212.6" cy="1821.7" r="3.5"/>
<circle cx="213.7" cy="1812.4" r="3.5"/>
<circle cx="214.8" cy="1823.9" r="3.5"/>
<circle cx="215.9" cy="1841.9" r="3.5"/>
<circle cx="217.0" cy="1813.9" r="3.5"/>
<circle cx="218.1" cy="1803.2" r="3.5"/>
<circle cx="219.2" cy="1801.7" r="3.5"/>
<circle cx="220.3" cy="1812.0" r="3.5"/>
<circle cx="221.4" cy="1829.8" r="3.5"/>
<circle cx="222.5" cy="1810.5" r="3.5"/>
<circle cx="223.6" cy="1809.6" r="3.5"/>
<circle cx="224.7" cy="1802.0" r="3.5"/>
<circle cx="225.8" cy="1800.8" r="3.5"/>
<circle cx="226.9" cy="1824.3" r="3.5"/>
<circle cx="228.0" cy="1817.6" r="3.5"/>
<circle cx="229.1" cy="1818.9" r="3.5"/>
<circle cx="230.2" cy="1800.6" r="3.5"/>
<circle cx="231.3" cy="1821.4" r="3.5"/>
<circle cx="232.4" cy="1819.3" r="3.5"/>
<circle cx="233.5" cy="1832.1" r="3.5"/>
<circle cx="234.6" cy="1827.3" r="3.5"/>
<circle cx="235.7" cy="1813.5" r="3.5"/>
<circle cx="236.8" cy="1819.0" r="3.5"/>
<circle cx="237.9" cy="1818.2" r="3.5"/>
<circle cx="239.0" cy="1812.9" r="3.5"/>
<circle cx="240.1" cy="1803.7" r="3.5"/>
<circle cx="241.2" cy="1821.3" r="3.5"/>
<circle cx="242.3" cy="1834.5" r="3.5"/>
<circle cx="243.4" cy="1808.7" r="3.5"/>
<circle cx="244.5" cy="1826.1" r="3.5"/>
<circle cx="245.6" cy="1804.7" r="3.5"/>
<circle cx="246.7" cy="1803.8" r="3.5"/>
<circle cx="247.8" cy="1806.4" r="3.5"/>
<circle cx="248.9" cy="1812.9" r="3.5"/>
<circle cx="250.0" cy="1815.2" r="3.5"/>
<circle cx="251.1" cy="1816.0" r="3.5"/>
<circle cx="252.2" cy="1775.2" r="3.5"/>
<circle cx="253.3" cy="1809.2" r="3.5"/>
<circle cx="254.4" cy="1803.0" r="3.5"/>
<circle cx="255.5" cy="1815.6" r="3.5"/>
<circle cx="256.6" cy="1786.4" r="3.5"/>
<circle cx="257.7" cy="1796.3" r="3.5"/>
<circle cx="258.8" cy="1807.6" r="3.5"/>
<circle cx="259.9" cy="1804.7" r="3.5"/>
<circle cx="261.0" cy="1812.8" r="3.5"/>
<circle cx="262.1" cy="1790.5" r="3.5"/>
<circle cx="263.2" cy="1794.6" r="3.5"/>
<circle cx="264.3" cy="1811.3" r="3.5"/>
<circle cx="265.4" cy="1794.3" r="3.5"/>
<circle cx="266.5" cy="1817.2" r="3.5"/>
<circle cx="267.6" cy="1825.8" r="3.5"/>
<circle cx="268.7" cy="1822.7" r="3.5"/>
<circle cx="269.8" cy="1807.2" r="3.5"/>
<circle cx="270.9" cy="1829.9" r="3.5"/>
<circle cx="272.0" cy="1820.0" r="3.5"/>
<circle cx="273.1" cy="1827.4" r="3.5"/>
<circle cx="274.2" cy="1824.3" r="3.5"/>
<circle cx="275.3" cy="1815.1" r="3.5"/>
<circle cx="276.4" cy="1799.4" r="3.5"/>
<circle cx="277.5" cy="1795.0" r="3.5"/>
<circle cx="278.6" cy="1800.7" r="3.5"/>
<circle cx="279.7" cy="1797.6" r="3.5"/>
<circle cx="280.8" cy="1799.4" r="3.5"/>
<circle cx="281.9" cy="1792.8" r="3.5"/>
<circle cx="283.0" cy="1800.9" r="3.5"/>
<circle cx="284.1" cy="1795.0" r="3.5"/>
<circle cx="285.2" cy="1802.8" r="3.5"/>
<circle cx="286.3" cy="1800.2" r="3.5"/>
<circle cx="287.4" cy="1806.2" r="3.5"/>
<circle cx="288.5" cy="1789.6" r="3.5"/>
<circle cx="289.6" cy="1790.1" r="3.5"/>
<circle cx="290.7" cy="1787.2" r="3.5"/>
<circle cx="291.8" cy="1799.3" r="3.5"/>
<circle cx="292.9" cy="1805.2" r="3.5"/>
<circle cx="294.0" cy="1808.6" r="3.5"/>
<circle cx="295.1" cy="1797.2" r="3.5"/>
<circle cx="296.2" cy="1792.8" r="3.5"/>
<circle cx="297.3" cy="1800.9" r="3.5"/>
<circle cx="298.4" cy="1791.4" r="3.5"/>
<circle cx="299.5" cy="1780.4" r="3.5"/>
<circle cx="300.6" cy="1815.3" r="3.5"/>
<circle cx="301.7" cy="1784.7" r="3.5"/>
<circle cx="302.8" cy="1772.7" r="3.5"/>
<circle cx="303.9" cy="1785.7" r="3.5"/>
<circle cx="305.0" cy="1778.3" r="3.5"/>
<circle cx="306.1" cy="1786.0" r="3.5"/>
<circle cx="307.2" cy="1778.2" r="3.5"/>
<circle cx="308.3" cy="1781.7" r="3.5"/>
<circle cx="309.4" cy="1777.9" r="3.5"/>
<circle cx="310.5" cy="1782.1" r="3.5"/>
<circle cx="311.6" cy="1788.4" r="3.5"/>
<circle cx="312.7" cy="1783.7" r="3.5"/>
<circle cx="313.8" cy="1779.8" r="3.5"/>
<circle cx="314.9" cy="1789.3" r="3.5"/>
<circle cx="316.0" cy="1762.9" r="3.5"/>
<circle cx="317.1" cy="1777.7" r="3.5"/>
<circle cx="318.2" cy="1787.0" r="3.5"/>
<circle cx="319.3" cy="1779.5" r="3.5"/>
<circle cx="320.4" cy="1784.4" r="3.5"/>
<circle cx="321.5" cy="1762.0" r="3.5"/>
<circle cx="322.6" cy="1783.2" r="3.5"/>
<circle cx="323.7" cy="1763.5" r="3.5"/>
<circle cx="324.8" cy="1782.6" r="3.5"/>
<circle cx="325.9" cy="1773.6" r="3.5"/>
<circle cx="327.0" cy="1796.7" r="3.5"/>
<circle cx="328.1" cy="1763.8" r="3.5"/>
<circle cx="329.2" cy="1770.5" r="3.5"/>
<circle cx="330.3" cy="1754.4" r="3.5"/>
<circle cx="331.4" cy="1778.5" r="3.5"/>
<circle cx="332.5" cy="1783.6" r="3.5"/>
<circle cx="333.6" cy="1780.9" r="3.5"/>
<circle cx="334.7" cy="1789.9" r="3.5"/>
<circle cx="335.8" cy="1785.4" r="3.5"/>
<circle cx="336.9" cy="1781.2" r="3.5"/>
<circle cx="338.0" cy="1786.4" r="3.5"/>
<circle cx="339.1" cy="1775.6" r="3.5"/>
<circle cx="340.2" cy="1791.6" r="3.5"/>
<circle cx="341.3" cy="1785.4" r="3.5"/>
<circle cx="342.4" cy="1786.7" r="3.5"/>
<circle cx="343.5" cy="1782.4" r="3.5"/>
<circle cx="344.6" cy="1778.5" r="3.5"/>
<circle cx="345.7" cy="1775.3" r="3.5"/>
<circle cx="346.8" cy="1783.1" r="3.5"/>
<circle cx="347.9" cy="1794.2" r="3.5"/>
<circle cx="349.0" cy="1768.7" r="3.5"/>
<circle cx="350.1" cy="1789.0" r="3.5"/>
<circle cx="351.2" cy="1825.4" r="3.5"/>
<circle cx="352.3" cy="1803.5" r="3.5"/>
<circle cx="353.4" cy="1787.2" r="3.5"/>
<circle cx="354.5" cy="1793.2" r="3.5"/>
<circle cx="355.6" cy="1788.1" r="3.5"/>
<circle cx="356.7" cy="1791.2" r="3.5"/>
<circle cx="357.8" cy="1792.4" r="3.5"/>
<circle cx="358.9" cy="1781.3" r="3.5"/>
<circle cx="360.0" cy="1805.2" r="3.5"/>
<circle cx="361.1" cy="1796.1" r="3.5"/>
<circle cx="362.2" cy="1806.7" r="3.5"/>
<circle cx="363.3" cy="1798.1" r="3.5"/>
<circle cx="364.4" cy="1808.9" r="3.5"/>
<circle cx="365.5" cy="1799.7" r="3.5"/>
<circle cx="366.6" cy="1832.2" r="3.5"/>
<circle cx="367.7" cy="1813.5" r="3.5"/>
<circle cx="368.8" cy="1816.4" r="3.5"/>
<circle cx="369.9" cy="1802.8" r="3.5"/>
<circle cx="371.0" cy="1788.0" r="3.5"/>
<circle cx="372.1" cy="1801.1" r="3.5"/>
<circle cx="373.2" cy="1810.0" r="3.5"/>
<circle cx="374.3" cy="1806.0" r="3.5"/>
<circle cx="375.4" cy="1798.4" r="3.5"/>
<circle cx="376.5" cy="1796.2" r="3.5"/>
<circle cx="377.6" cy="1790.7" r="3.5"/>
<circle cx="378.7" cy="1798.4" r="3.5"/>
<circle cx="379.8" cy="1809.3" r="3.5"/>
<circle cx="380.9" cy="1809.3" r="3.5"/>
<circle cx="382.0" cy="1809.0" r="3.5"/>
<circle cx="383.1" cy="1800.3" r="3.5"/>
<circle cx="384.2" cy="1804.6" r="3.5"/>
<circle cx="385.3" cy="1803.0" r="3.5"/>
<circle cx="386.4" cy="1808.5" r="3.5"/>
<circle cx="387.5" cy="1808.2" r="3.5"/>
<circle cx="388.6" cy="1813.1" r="3.5"/>
<circle cx="389.7" cy="1807.3" r="3.5"/>
<circle cx="390.8" cy="1810.0" r="3.5"/>
<circle cx="391.9" cy="1827.8" r="3.5"/>
<circle cx="393.0" cy="1829.4" r="3.5"/>
<circle cx="394.1" cy="1796.8" r="3.5"/>
<circle cx="395.2" cy="1825.0" r="3.5"/>
<circle cx="396.3" cy="1827.4" r="3.5"/>
<circle cx="397.4" cy="1834.6" r="3.5"/>
<circle cx="398.5" cy="1805.3" r="3.5"/>
<circle cx="399.6" cy="1811.2" r="3.5"/>
<circle cx="400.7" cy="1824.9" r="3.5"/>
<circle cx="401.8" cy="1830.8" r="3.5"/>
<circle cx="402.9" cy="1817.9" r="3.5"/>
<circle cx="404.0" cy="1841.1" r="3.5"/>
<circle cx="405.1" cy="1839.8" r="3.5"/>
<circle cx="406.2" cy="1835.7" r="3.5"/>
<circle cx="407.3" cy="1837.4" r="3.5"/>
<circle cx="408.4" cy="1816.7" r="3.5"/>
<circle cx="409.5" cy="1827.2" r="3.5"/>
<circle cx="410.6" cy="1804.6" r="3.5"/>
<circle cx="411.7" cy="1838.9" r="3.5"/>
<circle cx="412.8" cy="1840.6" r="3.5"/>
<circle cx="413.9" cy="1832.7" r="3.5"/>
<circle cx="415.0" cy="1817.9" r="3.5"/>
<circle cx="416.1" cy="1828.1" r="3.5"/>
<circle cx="417.2" cy="1836.7" r="3.5"/>
<circle cx="418.3" cy="1812.5" r="3.5"/>
<circle cx="419.4" cy="1825.7" r="3.5"/>
<circle cx="420.5" cy="1828.5" r="3.5"/>
<circle cx="421.6" cy="1810.6" r="3.5"/>
<circle cx="422.7" cy="1809.9" r="3.5"/>
<circle cx="423.8" cy="1825.0" r="3.5"/>
<circle cx="424.9" cy="1817.5" r="3.5"/>
<circle cx="426.0" cy="1821.2" r="3.5"/>
<circle cx="427.1" cy="1806.1" r="3.5"/>
<circle cx="428.2" cy="1790.2" r="3.5"/>
<circle cx="429.3" cy="1796.6" r="3.5"/>
<circle cx="430.4" cy="1787.6" r="3.5"/>
<circle cx="431.5" cy="1788.6" r="3.5"/>
<circle cx="432.6" cy="1793.6" r="3.5"/>
<circle cx="433.7" cy="1801.8" r="3.5"/>
<circle cx="434.8" cy="1785.9" r="3.5"/>
<circle cx="435.9" cy="1801.7" r="3.5"/>
<circle cx="437.0" cy="1767.1" r="3.5"/>
<circle cx="438.1" cy="1777.2" r="3.5"/>
<circle cx="439.2" cy="1778.2" r="3.5"/>
<circle cx="440.3" cy="1755.2" r="3.5"/>
<circle cx="441.4" cy="1759.9" r="3.5"/>
<circle cx="442.5" cy="1773.0" r="3.5"/>
<circle cx="443.6" cy="1777.8" r="3.5"/>
<circle cx="444.7" cy="1781.5" r="3.5"/>
<circle cx="445.8" cy="1778.4" r="3.5"/>
<circle cx="446.9" cy="1775.0" r="3.5"/>
<circle cx="448.0" cy="1764.4" r="3.5"/>
<circle cx="449.1" cy="1779.4" r="3.5"/>
<circle cx="450.2" cy="1795.7" r="3.5"/>
<circle cx="451.3" cy="1783.7" r="3.5"/>
<circle cx="452.4" cy="1771.9" r="3.5"/>
<circle cx="453.5" cy="1780.3" r="3.5"/>
<circle cx="454.6" cy="1783.2" r="3.5"/>
<circle cx="455.7" cy="1791.7" r="3.5"/>
<circle cx="456.8" cy="1772.9" r="3.5"/>
<circle cx="457.9" cy="1783.6" r="3.5"/>
<circle cx="459.0" cy="1784.2" r="3.5"/>
<circle cx="460.1" cy="1775.2" r="3.5"/>
<circle cx="461.2" cy="1777.2" r="3.5"/>
<circle cx="462.3" cy="1773.7" r="3.5"/>
<circle cx="463.4" cy="1778.3" r="3.5"/>
<circle cx="464.5" cy="1779.7" r="3.5"/>
<circle cx="465.6" cy="1763.4" r="3.5"/>
<circle cx="466.7" cy="1773.1" r="3.5"/>
<circle cx="467.8" cy="1788.6" r="3.5"/>
<circle cx="468.9" cy="1770.8" r="3.5"/>
<circle cx="470.0" cy="1749.6" r="3.5"/>
<circle cx="471.1" cy="1781.9" r="3.5"/>
<circle cx="472.2" cy="1762.7" r="3.5"/>
<circle cx="473.3" cy="1765.3" r="3.5"/>
<circle cx="474.4" cy="1768.0" r="3.5"/>
<circle cx="475.5" cy="1757.8" r="3.5"/>
<circle cx="476.6" cy="1751.3" r="3.5"/>
<circle cx="477.7" cy="1754.6" r="3.5"/>
<circle cx="478.8" cy="1765.7" r="3.5"/>
<circle cx="479.9" cy="1764.1" r="3.5"/>
<circle cx="481.0" cy="1762.8" r="3.5"/>
<circle cx="482.1" cy="1789.5" r="3.5"/>
<circle cx="483.2" cy="1755.7" r="3.5"/>
<circle cx="484.3" cy="1780.7" r="3.5"/>
<circle cx="485.4" cy="1794.1" r="3.5"/>
<circle cx="486.5" cy="1774.8" r="3.5"/>
<circle cx="487.6" cy="1770.2" r="3.5"/>
<circle cx="488.7" cy="1772.3" r="3.5"/>
<circle cx="489.8" cy="1776.7" r="3.5"/>
<circle cx="490.9" cy="1794.4" r="3.5"/>
<circle cx="492.0" cy="1787.3" r="3.5"/>
<circle cx="493.1" cy="1774.5" r="3.5"/>
<circle cx="494.2" cy="1771.4" r="3.5"/>
<circle cx="495.3" cy="1785.9" r="3.5"/>
<circle cx="496.4" cy="1798.0" r="3.5"/>
<circle cx="497.5" cy="1774.6" r="3.5"/>
<circle cx="498.6" cy="1799.0" r="3.5"/>
<circle cx="499.7" cy="1787.8" r="3.5"/>
<circle cx="500.8" cy="1786.8" r="3.5"/>
<circle cx="501.9" cy="1786.4" r="3.5"/>
<circle cx="503.0" cy="1784.3" r="3.5"/>
<circle cx="504.1" cy="1788.6" r="3.5"/>
<circle cx="505.2" cy="1808.2" r="3.5"/>
<circle cx="506.3" cy="1782.4" r="3.5"/>
<circle cx="507.4" cy="1793.6" r="3.5"/>
<circle cx="508.5" cy="1798.5" r="3.5"/>
<circle cx="509.6" cy="1787.7" r="3.5"/>
<circle cx="510.7" cy="1794.9" r="3.5"/>
<circle cx="511.8" cy="1785.5" r="3.5"/>
<circle cx="512.9" cy="1806.9" r="3.5"/>
<circle cx="514.0" cy="1807.4" r="3.5"/>
<circle cx="515.1" cy="1787.1" r="3.5"/>
<circle cx="516.2" cy="1816.6" r="3.5"/>
<circle cx="517.3" cy="1792.4" r="3.5"/>
<circle cx="518.4" cy="1784.0" r="3.5"/>
<circle cx="519.5" cy="1786.4" r="3.5"/>
<circle cx="520.6" cy="1810.4" r="3.5"/>
<circle cx="521.7" cy="1782.2" r="3.5"/>
<circle cx="522.8" cy="1806.5" r="3.5"/>
<circle cx="523.9" cy="1811.0" r="3.5"/>
<circle cx="525.0" cy="1819.7" r="3.5"/>
<circle cx="526.1" cy="1807.2" r="3.5"/>
<circle cx="527.2" cy="1824.0" r="3.5"/>
<circle cx="528.3" cy="1809.2" r="3.5"/>
<circle cx="529.4" cy="1824.5" r="3.5"/>
<circle cx="530.5" cy="1806.8" r="3.5"/>
<circle cx="531.6" cy="1822.2" r="3.5"/>
<circle cx="532.7" cy="1818.3" r="3.5"/>
<circle cx="533.8" cy="1826.0" r="3.5"/>
<circle cx="534.9" cy="1850.0" r="3.5"/>
<circle cx="536.0" cy="1830.2" r="3.5"/>
<circle cx="537.1" cy="1833.9" r="3.5"/>
<circle cx="538.2" cy="1838.1" r="3.5"/>
<circle cx="539.3" cy="1844.8" r="3.5"/>
<circle cx="540.4" cy="1824.6" r="3.5"/>
<circle cx="541.5" cy="1862.1" r="3.5"/>
<circle cx="542.6" cy="1847.7" r="3.5"/>
<circle cx="543.7" cy="1848.1" r="3.5"/>
<circle cx="544.8" cy="1876.7" r="3.5"/>
<circle cx="545.9" cy="1868.5" r="3.5"/>
<circle cx="547.0" cy="1887.9" r="3.5"/>
<circle cx="548.1" cy="1900.3" r="3.5"/>
<circle cx="549.2" cy="1892.2" r="3.5"/>
<circle cx="550.3" cy="1884.6" r="3.5"/>
<circle cx="551.4" cy="1899.2" r="3.5"/>
<circle cx="552.5" cy="1922.4" r="3.5"/>
<circle cx="553.6" cy="1904.8" r="3.5"/>
<circle cx="554.7" cy="1925.3" r="3.5"/>
<circle cx="555.8" cy="1924.8" r="3.5"/>
<circle cx="556.9" cy="1899.5" r="3.5"/>
<circle cx="558.0" cy="1923.4" r="3.5"/>
<circle cx="559.1" cy="1902.2" r="3.5"/>
<circle cx="560.2" cy="1923.5" r="3.5"/>
<circle cx="561.3" cy="1925.3" r="3.5"/>
<circle cx="562.4" cy="1919.2" r="3.5"/>
<circle cx="563.5" cy="1906.3" r="3.5"/>
<circle cx="564.6" cy="1920.4" r="3.5"/>
<circle cx="565.7" cy="1922.2" r="3.5"/>
<circle cx="566.8" cy="1932.0" r="3.5"/>
<circle cx="567.9" cy="1927.6" r="3.5"/>
<circle cx="569.0" cy="1934.8" r="3.5"/>
<circle cx="570.1" cy="1927.2" r="3.5"/>
<circle cx="571.2" cy="1898.4" r="3.5"/>
<circle cx="572.3" cy="1931.6" r="3.5"/>
<circle cx="573.4" cy="1947.4" r="3.5"/>
<circle cx="574.5" cy="1924.8" r="3.5"/>
<circle cx="575.6" cy="1924.3" r="3.5"/>
<circle cx="576.7" cy="1916.1" r="3.5"/>
<circle cx="577.8" cy="1957.1" r="3.5"/>
<circle cx="578.9" cy="1927.8" r="3.5"/>
<circle cx="580.0" cy="1951.1" r="3.5"/>
<circle cx="581.1" cy="1942.4" r="3.5"/>
<circle cx="582.2" cy="1940.0" r="3.5"/>
<circle cx="583.3" cy="1942.5" r="3.5"/>
<circle cx="584.4" cy="1961.3" r="3.5"/>
<circle cx="585.5" cy="1959.5" r="3.5"/>
<circle cx="586.6" cy="1946.6" r="3.5"/>
<circle cx="587.7" cy="1953.6" r="3.5"/>
<circle cx="588.8" cy="1955.1" r="3.5"/>
<circle cx="589.9" cy="1946.0" r="3.5"/>
<circle cx="591.0" cy="1938.9" r="3.5"/>
<circle cx="592.1" cy="1941.8" r="3.5"/>
<circle cx="593.2" cy="1927.2" r="3.5"/>
<circle cx="594.3" cy="1941.5" r="3.5"/>
<circle cx="595.4" cy="1929.7" r="3.5"/>
<circle cx="596.5" cy="1928.8" r="3.5"/>
<circle cx="597.6" cy="1918.1" r="3.5"/>
<circle cx="598.7" cy="1930.2" r="3.5"/>
<circle cx="599.8" cy="1932.7" r="3.5"/>
<circle cx="600.9" cy="1912.1" r="3.5"/>
<circle cx="602.0" cy="1930.1" r="3.5"/>
<circle cx="603.1" cy="1930.9" r="3.5"/>
<circle cx="604.2" cy="1939.5" r="3.5"/>
<circle cx="605.3" cy="1937.5" r="3.5"/>
<circle cx="606.4" cy="1899.7" r="3.5"/>
<circle cx="607.5" cy="1938.1" r="3.5"/>
<circle cx="608.6" cy="1930.4" r="3.5"/>
<circle cx="609.7" cy="1922.5" r="3.5"/>
<circle cx="610.8" cy="1916.3" r="3.5"/>
<circle cx="611.9" cy="1933.1" r="3.5"/>
<circle cx="613.0" cy="1931.3" r="3.5"/>
<circle cx="614.1" cy="1916.6" r="3.5"/>
<circle cx="615.2" cy="1923.2" r="3.5"/>
<circle cx="616.3" cy="1913.7" r="3.5"/>
<circle cx="617.4" cy="1907.7" r="3.5"/>
<circle cx="618.5" cy="1903.9" r="3.5"/>
<circle cx="619.6" cy="1917.6" r="3.5"/>
<circle cx="620.7" cy="1912.1" r="3.5"/>
<circle cx="621.8" cy="1910.6" r="3.5"/>
<circle cx="622.9" cy="1921.0" r="3.5"/>
<circle cx="624.0" cy="1903.7" r="3.5"/>
<circle cx="625.1" cy="1911.3" r="3.5"/>
<circle cx="626.2" cy="1883.5" r="3.5"/>
<circle cx="627.3" cy="1923.9" r="3.5"/>
<circle cx="628.4" cy="1886.9" r="3.5"/>
<circle cx="629.5" cy="1896.0" r="3.5"/>
<circle cx="630.6" cy="1898.7" r="3.5"/>
<circle cx="631.7" cy="1897.2" r="3.5"/>
<circle cx="632.8" cy="1901.3" r="3.5"/>
<circle cx="633.9" cy="1887.2" r="3.5"/>
<circle cx="635.0" cy="1913.7" r="3.5"/>
<circle cx="636.1" cy="1907.7" r="3.5"/>
<circle cx="637.2" cy="1918.9" r="3.5"/>
<circle cx="638.3" cy="1904.4" r="3.5"/>
<circle cx="639.4" cy="1893.2" r="3.5"/>
<circle cx="640.5" cy="1879.5" r="3.5"/>
<circle cx="641.6" cy="1862.4" r="3.5"/>
<circle cx="642.7" cy="1903.0" r="3.5"/>
<circle cx="643.8" cy="1870.8" r="3.5"/>
<circle cx="644.9" cy="1914.0" r="3.5"/>
<circle cx="646.0" cy="1901.9" r="3.5"/>
<circle cx="647.1" cy="1887.1" r="3.5"/>
<circle cx="648.2" cy="1890.4" r="3.5"/>
<circle cx="649.3" cy="1878.5" r="3.5"/>
<circle cx="650.4" cy="1892.6" r="3.5"/>
<circle cx="651.5" cy="1896.4" r="3.5"/>
<circle cx="652.6" cy="1903.3" r="3.5"/>
<circle cx="653.7" cy="1875.6" r="3.5"/>
<circle cx="654.8" cy="1898.2" r="3.5"/>
<circle cx="655.9" cy="1873.1" r="3.5"/>
<circle cx="657.0" cy="1882.7" r="3.5"/>
<circle cx="658.1" cy="1882.5" r="3.5"/>
<circle cx="659.2" cy="1885.0" r="3.5"/>
<circle cx="660.3" cy="1899.8" r="3.5"/>
<circle cx="661.4" cy="1896.2" r="3.5"/>
<circle cx="662.5" cy="1889.8" r="3.5"/>
<circle cx="663.6" cy="1874.5" r="3.5"/>
<circle cx="664.7" cy="1881.1" r="3.5"/>
<circle cx="665.8" cy="1894.1" r="3.5"/>
<circle cx="666.9" cy="1889.9" r="3.5"/>
<circle cx="668.0" cy="1878.8" r="3.5"/>
<circle cx="669.1" cy="1906.6" r="3.5"/>
<circle cx="670.2" cy="1912.5" r="3.5"/>
<circle cx="671.3" cy="1892.9" r="3.5"/>
<circle cx="672.4" cy="1882.9" r="3.5"/>
<circle cx="673.5" cy="1885.5" r="3.5"/>
<circle cx="674.6" cy="1873.6" r="3.5"/>
<circle cx="675.7" cy="1870.4" r="3.5"/>
<circle cx="676.8" cy="1884.8" r="3.5"/>
<circle cx="677.9" cy="1877.4" r="3.5"/>
<circle cx="679.0" cy="1888.2" r="3.5"/>
<circle cx="680.1" cy="1907.7" r="3.5"/>
<circle cx="681.2" cy="1881.3" r="3.5"/>
<circle cx="682.3" cy="1875.4" r="3.5"/>
<circle cx="683.4" cy="1876.2" r="3.5"/>
<circle cx="684.5" cy="1878.2" r="3.5"/>
<circle cx="685.6" cy="1888.1" r="3.5"/>
<circle cx="686.7" cy="1874.1" r="3.5"/>
<circle cx="687.8" cy="1880.6" r="3.5"/>
<circle cx="688.9" cy="1860.6" r="3.5"/>
<circle cx="690.0" cy="1861.6" r="3.5"/>
<circle cx="691.1" cy="1869.7" r="3.5"/>
<circle cx="692.2" cy="1881.8" r="3.5"/>
<circle cx="693.3" cy="1863.5" r="3.5"/>
<circle cx="694.4" cy="1887.4" r="3.5"/>
<circle cx="695.5" cy="1865.7" r="3.5"/>
<circle cx="696.6" cy="1878.8" r="3.5"/>
<circle cx="697.7" cy="1878.3" r="3.5"/>
<circle cx="698.8" cy="1897.1" r="3.5"/>
<circle cx="699.9" cy="1873.0" r="3.5"/>
<circle cx="701.0" cy="1876.1" r="3.5"/>
<circle cx="702.1" cy="1884.7" r="3.5"/>
<circle cx="703.2" cy="1897.5" r="3.5"/>
<circle cx="704.3" cy="1899.4" r="3.5"/>
<circle cx="705.4" cy="1881.5" r="3.5"/>
<circle cx="706.5" cy="1887.8" r="3.5"/>
<circle cx="707.6" cy="1884.1" r="3.5"/>
<circle cx="708.7" cy="1916.1" r="3.5"/>
<circle cx="709.8" cy="1903.2" r="3.5"/>
<circle cx="710.9" cy="1905.5" r="3.5"/>
<circle cx="712.0" cy="1876.0" r="3.5"/>
<circle cx="713.1" cy="1900.0" r="3.5"/>
<circle cx="714.2" cy="1894.1" r="3.5"/>
<circle cx="715.3" cy="1905.3" r="3.5"/>
<circle cx="716.4" cy="1876.8" r="3.5"/>
<circle cx="717.5" cy="1906.5" r="3.5"/>
<circle cx="718.6" cy="1897.1" r="3.5"/>
<circle cx="719.7" cy="1894.2" r="3.5"/>
<circle cx="720.8" cy="1872.9" r="3.5"/>
<circle cx="721.9" cy="1903.4" r="3.5"/>
<circle cx="723.0" cy="1883.0" r="3.5"/>
<circle cx="724.1" cy="1880.7" r="3.5"/>
<circle cx="725.2" cy="1874.8" r="3.5"/>
<circle cx="726.3" cy="1868.6" r="3.5"/>
<circle cx="727.4" cy="1870.7" r="3.5"/>
<circle cx="728.5" cy="1868.2" r="3.5"/>
<circle cx="729.6" cy="1875.7" r="3.5"/>
<circle cx="730.7" cy="1868.1" r="3.5"/>
<circle cx="731.8" cy="1853.3" r="3.5"/>
<circle cx="732.9" cy="1861.4" r="3.5"/>
<circle cx="734.0" cy="1868.0" r="3.5"/>
<circle cx="735.1" cy="1849.3" r="3.5"/>
<circle cx="736.2" cy="1852.9" r="3.5"/>
<circle cx="737.3" cy="1863.2" r="3.5"/>
<circle cx="738.4" cy="1853.6" r="3.5"/>
<circle cx="739.5" cy="1841.0" r="3.5"/>
<circle cx="740.6" cy="1849.7" r="3.5"/>
<circle cx="741.7" cy="1850.6" r="3.5"/>
<circle cx="742.8" cy="1844.9" r="3.5"/>
<circle cx="743.9" cy="1836.6" r="3.5"/>
<circle cx="745.0" cy="1851.5" r="3.5"/>
<circle cx="746.1" cy="1814.6" r="3.5"/>
<circle cx="747.2" cy="1829.6" r="3.5"/>
<circle cx="748.3" cy="1812.7" r="3.5"/>
<circle cx="749.4" cy="1810.9" r="3.5"/>
<circle cx="750.5" cy="1809.5" r="3.5"/>
<circle cx="751.6" cy="1807.4" r="3.5"/>
<circle cx="752.7" cy="1813.5" r="3.5"/>
<circle cx="753.8" cy="1808.3" r="3.5"/>
<circle cx="754.9" cy="1812.1" r="3.5"/>
<circle cx="756.0" cy="1816.5" r="3.5"/>
<circle cx="757.1" cy="1793.9" r="3.5"/>
<circle cx="758.2" cy="1817.2" r="3.5"/>
<circle cx="759.3" cy="1796.3" r="3.5"/>
<circle cx="760.4" cy="1766.4" r="3.5"/>
<circle cx="761.5" cy="1779.2" r="3.5"/>
<circle cx="762.6" cy="1757.5" r="3.5"/>
<circle cx="763.7" cy="1760.5" r="3.5"/>
<circle cx="764.8" cy="1752.2" r="3.5"/>
<circle cx="765.9" cy="1766.8" r="3.5"/>
<circle cx="767.0" cy="1742.5" r="3.5"/>
<circle cx="768.1" cy="1735.9" r="3.5"/>
<circle cx="769.2" cy="1744.6" r="3.5"/>
<circle cx="770.3" cy="1730.0" r="3.5"/>
<circle cx="771.4" cy="1711.9" r="3.5"/>
<circle cx="772.5" cy="1732.7" r="3.5"/>
<circle cx="773.6" cy="1726.8" r="3.5"/>
<circle cx="774.7" cy="1708.6" r="3.5"/>
<circle cx="775.8" cy="1690.5" r="3.5"/>
<circle cx="776.9" cy="1696.4" r="3.5"/>
<circle cx="778.0" cy="1690.2" r="3.5"/>
<circle cx="779.1" cy="1712.9" r="3.5"/>
<circle cx="780.2" cy="1685.3" r="3.5"/>
<circle cx="781.3" cy="1696.8" r="3.5"/>
<circle cx="782.4" cy="1697.5" r="3.5"/>
<circle cx="783.5" cy="1683.5" r="3.5"/>
<circle cx="784.6" cy="1679.6" r="3.5"/>
<circle cx="785.7" cy="1685.9" r="3.5"/>
<circle cx="786.8" cy="1677.9" r="3.5"/>
<circle cx="787.9" cy="1651.4" r="3.5"/>
<circle cx="789.0" cy="1660.1" r="3.5"/>
<circle cx="790.1" cy="1643.3" r="3.5"/>
<circle cx="791.2" cy="1660.2" r="3.5"/>
<circle cx="792.3" cy="1677.6" r="3.5"/>
<circle cx="793.4" cy="1651.9" r="3.5"/>
<circle cx="794.5" cy="1684.2" r="3.5"/>
<circle cx="795.6" cy="1698.1" r="3.5"/>
<circle cx="796.7" cy="1674.5" r="3.5"/>
<circle cx="797.8" cy="1658.9" r="3.5"/>
<circle cx="798.9" cy="1696.1" r="3.5"/>
<circle cx="800.0" cy="1669.5" r="3.5"/>
<circle cx="801.1" cy="1666.8" r="3.5"/>
<circle cx="802.2" cy="1668.6" r="3.5"/>
<circle cx="803.3" cy="1675.1" r="3.5"/>
<circle cx="804.4" cy="1674.0" r="3.5"/>
<circle cx="805.5" cy="1701.7" r="3.5"/>
<circle cx="806.6" cy="1672.3" r="3.5"/>
<circle cx="807.7" cy="1666.2" r="3.5"/>
<circle cx="808.8" cy="1670.4" r="3.5"/>
<circle cx="809.9" cy="1686.4" r="3.5"/>
<circle cx="811.0" cy="1713.6" r="3.5"/>
<circle cx="812.1" cy="1688.4" r="3.5"/>
<circle cx="813.2" cy="1711.6" r="3.5"/>
<circle cx="814.3" cy="1732.2" r="3.5"/>
<circle cx="815.4" cy="1728.8" r="3.5"/>
<circle cx="816.5" cy="1735.5" r="3.5"/>
<circle cx="817.6" cy="1740.2" r="3.5"/>
<circle cx="818.7" cy="1753.0" r="3.5"/>
<circle cx="819.8" cy="1745.2" r="3.5"/>
<circle cx="820.9" cy="1770.0" r="3.5"/>
<circle cx="822.0" cy="1736.2" r="3.5"/>
<circle cx="823.1" cy="1764.4" r="3.5"/>
<circle cx="824.2" cy="1764.9" r="3.5"/>
<circle cx="825.3" cy="1753.0" r="3.5"/>
<circle cx="826.4" cy="1747.7" r="3.5"/>
<circle cx="827.5" cy="1761.8" r="3.5"/>
<circle cx="828.6" cy="1736.3" r="3.5"/>
<circle cx="829.7" cy="1740.4" r="3.5"/>
<circle cx="830.8" cy="1728.4" r="3.5"/>
<circle cx="831.9" cy="1733.8" r="3.5"/>
<circle cx="833.0" cy="1713.7" r="3.5"/>
<circle cx="834.1" cy="1708.0" r="3.5"/>
<circle cx="835.2" cy="1724.4" r="3.5"/>
<circle cx="836.3" cy="1695.9" r="3.5"/>
<circle cx="837.4" cy="1683.8" r="3.5"/>
<circle cx="838.5" cy="1682.8" r="3.5"/>
<circle cx="839.6" cy="1638.3" r="3.5"/>
<circle cx="840.7" cy="1655.3" r="3.5"/>
<circle cx="841.8" cy="1667.7" r="3.5"/>
<circle cx="842.9" cy="1691.9" r="3.5"/>
<circle cx="844.0" cy="1677.9" r="3.5"/>
<circle cx="845.1" cy="1701.9" r="3.5"/>
<circle cx="846.2" cy="1723.8" r="3.5"/>
<circle cx="847.3" cy="1728.8" r="3.5"/>
<circle cx="848.4" cy="1809.2" r="3.5"/>
<circle cx="849.5" cy="1843.3" r="3.5"/>
<circle cx="850.6" cy="1853.5" r="3.5"/>
<circle cx="851.7" cy="1881.5" r="3.5"/>
<circle cx="852.8" cy="1915.6" r="3.5"/>
<circle cx="853.9" cy="1938.5" r="3.5"/>
<circle cx="855.0" cy="1968.9" r="3.5"/>
<circle cx="856.1" cy="1958.0" r="3.5"/>
<circle cx="857.2" cy="1981.8" r="3.5"/>
<circle cx="858.3" cy="1983.6" r="3.5"/>
<circle cx="859.4" cy="2020.1" r="3.5"/>
<circle cx="860.5" cy="2004.0" r="3.5"/>
<circle cx="861.6" cy="2029.4" r="3.5"/>
<circle cx="862.7" cy="2043.7" r="3.5"/>
<circle cx="863.8" cy="2012.6" r="3.5"/>
<circle cx="864.9" cy="2035.4" r="3.5"/>
<circle cx="866.0" cy="2025.4" r="3.5"/>
<circle cx="867.1" cy="2045.4" r="3.5"/>
<circle cx="868.2" cy="2056.1" r="3.5"/>
<circle cx="869.3" cy="2043.9" r="3.5"/>
<circle cx="870.4" cy="2053.3" r="3.5"/>
<circle cx="871.5" cy="2061.4" r="3.5"/>
<circle cx="872.6" cy="2047.6" r="3.5"/>
<circle cx="873.7" cy="2053.6" r="3.5"/>
<circle cx="874.8" cy="2047.0" r="3.5"/>
<circle cx="875.9" cy="2064.5" r="3.5"/>
<circle cx="877.0" cy="2057.7" r="3.5"/>
<circle cx="878.1" cy="2077.3" r="3.5"/>
<circle cx="879.2" cy="2076.5" r="3.5"/>
<circle cx="880.3" cy="2051.4" r="3.5"/>
<circle cx="881.4" cy="2069.2" r="3.5"/>
<circle cx="882.5" cy="2071.4" r="3.5"/>
<circle cx="883.6" cy="2072.8" r="3.5"/>
<circle cx="884.7" cy="2076.9" r="3.5"/>
<circle cx="885.8" cy="2072.5" r="3.5"/>
<circle cx="886.9" cy="2086.7" r="3.5"/>
<circle cx="888.0" cy="2085.4" r="3.5"/>
<circle cx="889.1" cy="2084.6" r="3.5"/>
<circle cx="890.2" cy="2076.3" r="3.5"/>
<circle cx="891.3" cy="2096.0" r="3.5"/>
<circle cx="892.4" cy="2071.1" r="3.5"/>
<circle cx="893.5" cy="2098.3" r="3.5"/>
<circle cx="894.6" cy="2095.9" r="3.5"/>
<circle cx="895.7" cy="2082.5" r="3.5"/>
<circle cx="896.8" cy="2097.7" r="3.5"/>
<circle cx="897.9" cy="2119.4" r="3.5"/>
<circle cx="899.0" cy="2096.8" r="3.5"/>
<circle cx="900.1" cy="2091.6" r="3.5"/>
<circle cx="901.2" cy="2101.2" r="3.5"/>
<circle cx="902.3" cy="2106.6" r="3.5"/>
<circle cx="903.4" cy="2119.8" r="3.5"/>
<circle cx="904.5" cy="2100.2" r="3.5"/>
<circle cx="905.6" cy="2113.0" r="3.5"/>
<circle cx="906.7" cy="2105.7" r="3.5"/>
<circle cx="907.8" cy="2102.4" r="3.5"/>
<circle cx="908.9" cy="2109.7" r="3.5"/>
<circle cx="910.0" cy="2095.9" r="3.5"/>
<circle cx="911.1" cy="2115.3" r="3.5"/>
<circle cx="912.2" cy="2120.7" r="3.5"/>
<circle cx="913.3" cy="2108.3" r="3.5"/>
<circle cx="914.4" cy="2090.0" r="3.5"/>
<circle cx="915.5" cy="2103.5" r="3.5"/>
<circle cx="916.6" cy="2114.8" r="3.5"/>
<circle cx="917.7" cy="2122.8" r="3.5"/>
<circle cx="918.8" cy="2111.1" r="3.5"/>
<circle cx="919.9" cy="2127.6" r="3.5"/>
<circle cx="921.0" cy="2112.0" r="3.5"/>
<circle cx="922.1" cy="2103.2" r="3.5"/>
<circle cx="923.2" cy="2121.9" r="3.5"/>
<circle cx="924.3" cy="2109.8" r="3.5"/>
<circle cx="925.4" cy="2130.2" r="3.5"/>
<circle cx="926.5" cy="2127.2" r="3.5"/>
<circle cx="927.6" cy="2111.0" r="3.5"/>
<circle cx="928.7" cy="2108.1" r="3.5"/>
<circle cx="929.8" cy="2116.4" r="3.5"/>
<circle cx="930.9" cy="2125.6" r="3.5"/>
<circle cx="932.0" cy="2114.9" r="3.5"/>
<circle cx="933.1" cy="2112.0" r="3.5"/>
<circle cx="934.2" cy="2124.6" r="3.5"/>
<circle cx="935.3" cy="2120.5" r="3.5"/>
<circle cx="936.4" cy="2106.9" r="3.5"/>
<circle cx="937.5" cy="2107.6" r="3.5"/>
<circle cx="938.6" cy="2092.1" r="3.5"/>
<circle cx="939.7" cy="2113.2" r="3.5"/>
<circle cx="940.8" cy="2112.7" r="3.5"/>
<circle cx="941.9" cy="2122.6" r="3.5"/>
<circle cx="943.0" cy="2111.6" r="3.5"/>
<circle cx="944.1" cy="2115.3" r="3.5"/>
<circle cx="945.2" cy="2116.8" r="3.5"/>
<circle cx="946.3" cy="2116.7" r="3.5"/>
<circle cx="947.4" cy="2120.5" r="3.5"/>
<circle cx="948.5" cy="2119.1" r="3.5"/>
<circle cx="949.6" cy="2139.2" r="3.5"/>
<circle cx="950.7" cy="2127.1" r="3.5"/>
<circle cx="951.8" cy="2134.7" r="3.5"/>
<circle cx="952.9" cy="2136.2" r="3.5"/>
</g>
<rect x="1057.0" y="1584.1" width="853.4000000000001" height="633.3000000000002" fill="none" stroke="#222" stroke-width="2.8"/>
<line x1="1056.5" y1="2217.4" x2="1056.5" y2="2229.4" stroke="#222" stroke-width="2.6"/>
<line x1="1141.9" y1="2217.4" x2="1141.9" y2="2224.4" stroke="#222" stroke-width="2.6"/>
<line x1="1227.3" y1="2217.4" x2="1227.3" y2="2229.4" stroke="#222" stroke-width="2.6"/>
<line x1="1312.7" y1="2217.4" x2="1312.7" y2="2224.4" stroke="#222" stroke-width="2.6"/>
<line x1="1398.1" y1="2217.4" x2="1398.1" y2="2229.4" stroke="#222" stroke-width="2.6"/>
<line x1="1483.5" y1="2217.4" x2="1483.5" y2="2224.4" stroke="#222" stroke-width="2.6"/>
<line x1="1568.9" y1="2217.4" x2="1568.9" y2="2229.4" stroke="#222" stroke-width="2.6"/>
<line x1="1654.3" y1="2217.4" x2="1654.3" y2="2224.4" stroke="#222" stroke-width="2.6"/>
<line x1="1739.7" y1="2217.4" x2="1739.7" y2="2229.4" stroke="#222" stroke-width="2.6"/>
<line x1="1825.1" y1="2217.4" x2="1825.1" y2="2224.4" stroke="#222" stroke-width="2.6"/>
<line x1="1910.5" y1="2217.4" x2="1910.5" y2="2229.4" stroke="#222" stroke-width="2.6"/>
<text x="1056.5" y="2264.5" font-family="'Liberation Sans',Arial,sans-serif" font-size="33.5" font-weight="normal" text-anchor="middle" fill="#1a1a1a" >475</text>
<text x="1227.3" y="2264.5" font-family="'Liberation Sans',Arial,sans-serif" font-size="33.5" font-weight="normal" text-anchor="middle" fill="#1a1a1a" >470</text>
<text x="1398.1" y="2264.5" font-family="'Liberation Sans',Arial,sans-serif" font-size="33.5" font-weight="normal" text-anchor="middle" fill="#1a1a1a" >465</text>
<text x="1568.9" y="2264.5" font-family="'Liberation Sans',Arial,sans-serif" font-size="33.5" font-weight="normal" text-anchor="middle" fill="#1a1a1a" >460</text>
<text x="1739.7" y="2264.5" font-family="'Liberation Sans',Arial,sans-serif" font-size="33.5" font-weight="normal" text-anchor="middle" fill="#1a1a1a" >455</text>
<text x="1910.5" y="2264.5" font-family="'Liberation Sans',Arial,sans-serif" font-size="33.5" font-weight="normal" text-anchor="middle" fill="#1a1a1a" >450</text>
<text x="1211.5" y="2332.5" font-family="'Liberation Serif','Times New Roman',serif" font-size="54.2" font-weight="bold" text-anchor="start" fill="#000" >Binding Energy (eV)</text>
<text transform="translate(1028.0,2100.0) rotate(-90)" font-family="'Liberation Serif','Times New Roman',serif" font-size="77.2" font-weight="bold" fill="#000" >Intensity</text>
<text x="1077.0" y="1646.0" font-family="'Liberation Serif','Times New Roman',serif" font-size="46" font-weight="bold" text-anchor="start" fill="#000" >Ti 2p</text>
<text x="1539.0" y="1641.9" font-family="'Liberation Serif','Times New Roman',serif" font-size="44" font-weight="normal" fill="#1a1a1a" ><tspan dy="-0.0">Ti 2p</tspan><tspan font-size="28.0" dy="10.0" font-weight="bold">3/2</tspan></text>
<text x="1337.0" y="1899.0" font-family="'Liberation Serif','Times New Roman',serif" font-size="44" font-weight="normal" fill="#1a1a1a" ><tspan dy="-0.0">Ti 2p</tspan><tspan font-size="28.0" dy="10.0" font-weight="bold">1/2</tspan></text>
<polyline points="1057.0,2044.9 1058.5,2045.8 1060.0,2052.6 1061.5,2058.5 1063.0,2060.6 1064.5,2054.7 1066.0,2043.6 1067.5,2039.8 1069.0,2050.7 1070.5,2052.0 1072.0,2040.1 1073.5,2049.4 1075.0,2051.4 1076.5,2056.8 1078.0,2040.1 1079.5,2051.9 1081.0,2037.4 1082.5,2042.7 1084.0,2044.9 1085.5,2057.1 1087.0,2071.1 1088.5,2046.3 1090.0,2048.0 1091.5,2051.9 1093.0,2032.8 1094.5,2049.5 1096.0,2033.1 1097.5,2055.5 1099.0,2053.3 1100.5,2044.8 1102.0,2033.3 1103.5,2051.8 1105.0,2039.1 1106.5,2036.5 1108.0,2038.8 1109.5,2019.2 1111.0,2035.1 1112.5,2038.6 1114.0,2051.1 1115.5,2030.2 1117.0,2020.8 1118.5,2033.1 1120.0,2029.3 1121.5,2027.7 1123.0,2023.2 1124.5,2034.9 1126.0,2038.7 1127.5,2032.6 1129.0,2037.7 1130.5,2042.1 1132.0,2045.1 1133.5,2034.8 1135.0,2031.7 1136.5,2030.2 1138.0,2033.5 1139.5,2037.5 1141.0,2040.2 1142.5,2028.9 1144.0,2033.3 1145.5,2024.1 1147.0,2042.4 1148.5,2029.5 1150.0,2036.0 1151.5,2027.9 1153.0,2032.0 1154.5,2029.5 1156.0,2049.3 1157.5,2039.1 1159.0,2035.5 1160.5,2029.8 1162.0,2033.0 1163.5,2042.8 1165.0,2051.7 1166.5,2026.9 1168.0,2030.8 1169.5,2036.3 1171.0,2032.0 1172.5,2022.9 1174.0,2035.4 1175.5,2040.3 1177.0,2020.6 1178.5,2033.8 1180.0,2038.7 1181.5,2037.7 1183.0,2025.9 1184.5,2048.0 1186.0,2035.1 1187.5,2025.9 1189.0,2042.6 1190.5,2028.7 1192.0,2048.2 1193.5,2034.5 1195.0,2054.6 1196.5,2047.1 1198.0,2063.9 1199.5,2063.5 1201.0,2063.7 1202.5,2063.1 1204.0,2073.6 1205.5,2052.5 1207.0,2072.1 1208.5,2073.4 1210.0,2075.8 1211.5,2062.3 1213.0,2102.6 1214.5,2074.6 1216.0,2080.6 1217.5,2062.0 1219.0,2087.8 1220.5,2059.7 1222.0,2090.1 1223.5,2071.7 1225.0,2059.7 1226.5,2069.9 1228.0,2077.7 1229.5,2081.1 1231.0,2079.6 1232.5,2086.7 1234.0,2079.9 1235.5,2079.7 1237.0,2062.9 1238.5,2083.8 1240.0,2087.9 1241.5,2076.5 1243.0,2065.0 1244.5,2069.6 1246.0,2094.2 1247.5,2076.5 1249.0,2076.6 1250.5,2075.9 1252.0,2088.3 1253.5,2078.4 1255.0,2076.3 1256.5,2071.1 1258.0,2082.1 1259.5,2090.6 1261.0,2081.2 1262.5,2089.2 1264.0,2083.5 1265.5,2083.4 1267.0,2084.0 1268.5,2083.4 1270.0,2092.0 1271.5,2088.3 1273.0,2067.1 1274.5,2086.7 1276.0,2085.5 1277.5,2090.2 1279.0,2087.7 1280.5,2089.5 1282.0,2074.2 1283.5,2071.6 1285.0,2095.8 1286.5,2074.2 1288.0,2097.5 1289.5,2087.0 1291.0,2082.8 1292.5,2070.0 1294.0,2093.2 1295.5,2076.9 1297.0,2080.7 1298.5,2089.2 1300.0,2076.7 1301.5,2077.0 1303.0,2075.3 1304.5,2082.9 1306.0,2087.4 1307.5,2084.5 1309.0,2082.8 1310.5,2074.9 1312.0,2076.8 1313.5,2068.1 1315.0,2087.6 1316.5,2053.6 1318.0,2052.3 1319.5,2057.8 1321.0,2077.6 1322.5,2052.3 1324.0,2058.2 1325.5,2063.3 1327.0,2049.5 1328.5,2064.9 1330.0,2067.9 1331.5,2045.8 1333.0,2059.4 1334.5,2041.3 1336.0,2038.7 1337.5,2047.2 1339.0,2046.0 1340.5,2038.5 1342.0,2049.4 1343.5,2030.5 1345.0,2035.1 1346.5,2033.1 1348.0,2047.5 1349.5,2047.4 1351.0,2045.8 1352.5,2029.4 1354.0,2039.9 1355.5,2041.5 1357.0,2023.7 1358.5,2028.6 1360.0,2038.7 1361.5,2037.3 1363.0,2031.6 1364.5,2031.7 1366.0,2027.5 1367.5,2023.5 1369.0,2018.7 1370.5,1991.5 1372.0,2011.8 1373.5,2007.5 1375.0,2026.1 1376.5,2006.5 1378.0,2001.1 1379.5,1996.1 1381.0,1993.7 1382.5,1988.8 1384.0,1991.3 1385.5,1982.8 1387.0,1985.6 1388.5,1969.8 1390.0,1974.9 1391.5,1976.3 1393.0,1957.9 1394.5,1967.2 1396.0,1967.3 1397.5,1963.1 1399.0,1962.7 1400.5,1952.7 1402.0,1977.9 1403.5,1962.4 1405.0,1961.1 1406.5,1977.5 1408.0,1958.7 1409.5,1982.3 1411.0,1979.3 1412.5,1982.0 1414.0,1977.4 1415.5,1970.7 1417.0,1967.4 1418.5,1996.4 1420.0,1983.3 1421.5,1985.3 1423.0,2004.3 1424.5,1988.5 1426.0,1993.3 1427.5,1994.8 1429.0,1996.9 1430.5,1990.9 1432.0,1996.6 1433.5,2014.9 1435.0,2015.8 1436.5,1992.0 1438.0,2006.8 1439.5,2031.8 1441.0,2034.2 1442.5,2036.9 1444.0,2052.4 1445.5,2034.0 1447.0,2061.8 1448.5,2056.8 1450.0,2063.3 1451.5,2063.5 1453.0,2070.4 1454.5,2063.3 1456.0,2062.1 1457.5,2073.4 1459.0,2068.6 1460.5,2057.0 1462.0,2077.7 1463.5,2076.4 1465.0,2078.0 1466.5,2067.0 1468.0,2068.9 1469.5,2062.9 1471.0,2058.2 1472.5,2066.5 1474.0,2067.7 1475.5,2061.4 1477.0,2081.9 1478.5,2055.1 1480.0,2062.2 1481.5,2064.0 1483.0,2080.2 1484.5,2067.9 1486.0,2067.1 1487.5,2061.9 1489.0,2061.9 1490.5,2056.3 1492.0,2073.3 1493.5,2068.5 1495.0,2070.1 1496.5,2055.6 1498.0,2080.1 1499.5,2051.5 1501.0,2042.6 1502.5,2056.6 1504.0,2060.2 1505.5,2065.5 1507.0,2051.8 1508.5,2065.2 1510.0,2074.7 1511.5,2054.8 1513.0,2056.2 1514.5,2049.0 1516.0,2065.0 1517.5,2070.3 1519.0,2069.8 1520.5,2070.3 1522.0,2074.8 1523.5,2064.1 1525.0,2070.3 1526.5,2054.6 1528.0,2055.5 1529.5,2063.5 1531.0,2054.9 1532.5,2066.1 1534.0,2072.8 1535.5,2065.3 1537.0,2056.5 1538.5,2056.7 1540.0,2073.8 1541.5,2056.5 1543.0,2063.6 1544.5,2060.6 1546.0,2062.7 1547.5,2070.6 1549.0,2056.9 1550.5,2049.1 1552.0,2071.0 1553.5,2060.0 1555.0,2062.6 1556.5,2054.6 1558.0,2055.0 1559.5,2049.4 1561.0,2038.0 1562.5,2011.0 1564.0,1995.7 1565.5,1999.1 1567.0,1972.0 1568.5,1961.8 1570.0,1937.9 1571.5,1910.6 1573.0,1917.9 1574.5,1905.1 1576.0,1888.1 1577.5,1879.9 1579.0,1856.6 1580.5,1827.4 1582.0,1817.0 1583.5,1786.3 1585.0,1775.3 1586.5,1747.3 1588.0,1732.3 1589.5,1718.3 1591.0,1708.5 1592.5,1688.2 1594.0,1693.5 1595.5,1669.0 1597.0,1686.8 1598.5,1688.2 1600.0,1674.0 1601.5,1684.9 1603.0,1680.3 1604.5,1692.4 1606.0,1715.1 1607.5,1696.7 1609.0,1724.6 1610.5,1710.5 1612.0,1749.9 1613.5,1773.7 1615.0,1811.3 1616.5,1836.3 1618.0,1851.0 1619.5,1876.2 1621.0,1891.2 1622.5,1896.8 1624.0,1901.3 1625.5,1912.9 1627.0,1912.4 1628.5,1936.9 1630.0,1948.5 1631.5,1942.2 1633.0,1959.6 1634.5,1977.5 1636.0,1974.3 1637.5,2005.9 1639.0,2011.6 1640.5,2006.9 1642.0,2026.3 1643.5,2041.7 1645.0,2028.5 1646.5,2053.2 1648.0,2055.9 1649.5,2062.9 1651.0,2075.9 1652.5,2069.8 1654.0,2064.8 1655.5,2066.6 1657.0,2079.6 1658.5,2086.2 1660.0,2082.1 1661.5,2082.0 1663.0,2083.7 1664.5,2094.8 1666.0,2089.2 1667.5,2079.4 1669.0,2083.5 1670.5,2095.9 1672.0,2082.0 1673.5,2083.8 1675.0,2087.1 1676.5,2079.1 1678.0,2094.9 1679.5,2070.2 1681.0,2099.1 1682.5,2083.5 1684.0,2076.4 1685.5,2088.2 1687.0,2071.7 1688.5,2089.3 1690.0,2091.1 1691.5,2080.6 1693.0,2082.6 1694.5,2094.2 1696.0,2082.4 1697.5,2089.3 1699.0,2093.3 1700.5,2104.4 1702.0,2089.2 1703.5,2094.8 1705.0,2104.9 1706.5,2076.7 1708.0,2096.4 1709.5,2084.8 1711.0,2086.9 1712.5,2118.9 1714.0,2106.6 1715.5,2118.3 1717.0,2105.9 1718.5,2113.4 1720.0,2106.7 1721.5,2106.6 1723.0,2111.0 1724.5,2113.2 1726.0,2124.9 1727.5,2111.5 1729.0,2116.4 1730.5,2111.6 1732.0,2115.0 1733.5,2103.4 1735.0,2122.6 1736.5,2109.6 1738.0,2113.8 1739.5,2111.5 1741.0,2120.9 1742.5,2117.0 1744.0,2112.8 1745.5,2114.2 1747.0,2115.8 1748.5,2119.5 1750.0,2117.9 1751.5,2124.5 1753.0,2127.5 1754.5,2119.8 1756.0,2104.5 1757.5,2129.2 1759.0,2132.4 1760.5,2112.4 1762.0,2112.0 1763.5,2099.0 1765.0,2121.9 1766.5,2107.9 1768.0,2131.1 1769.5,2097.2 1771.0,2118.2 1772.5,2123.7 1774.0,2115.8 1775.5,2113.3 1777.0,2122.4 1778.5,2116.9 1780.0,2119.0 1781.5,2122.1 1783.0,2118.5 1784.5,2121.7 1786.0,2130.4 1787.5,2121.5 1789.0,2126.4 1790.5,2119.4 1792.0,2133.1 1793.5,2115.7 1795.0,2133.9 1796.5,2102.1 1798.0,2119.1 1799.5,2113.7 1801.0,2134.4 1802.5,2128.3 1804.0,2115.6 1805.5,2121.3 1807.0,2136.5 1808.5,2125.1 1810.0,2129.8 1811.5,2112.9 1813.0,2112.6 1814.5,2128.8 1816.0,2142.3 1817.5,2119.1 1819.0,2127.7 1820.5,2115.0 1822.0,2132.1 1823.5,2118.1 1825.0,2117.9 1826.5,2105.9 1828.0,2117.3 1829.5,2121.8 1831.0,2131.0 1832.5,2110.3 1834.0,2127.4 1835.5,2116.7 1837.0,2117.3 1838.5,2112.3 1840.0,2106.8 1841.5,2111.5 1843.0,2135.1 1844.5,2113.6 1846.0,2120.8 1847.5,2134.2 1849.0,2109.5 1850.5,2130.8 1852.0,2124.0 1853.5,2130.3 1855.0,2136.3 1856.5,2128.6 1858.0,2128.6 1859.5,2136.1 1861.0,2135.4 1862.5,2124.4 1864.0,2128.4 1865.5,2118.7 1867.0,2139.1 1868.5,2118.3 1870.0,2128.4 1871.5,2139.7 1873.0,2130.8 1874.5,2120.6 1876.0,2115.6 1877.5,2115.0 1879.0,2125.9 1880.5,2120.1 1882.0,2116.5 1883.5,2136.7 1885.0,2094.7 1886.5,2111.8 1888.0,2113.1 1889.5,2118.5 1891.0,2120.2 1892.5,2116.7 1894.0,2126.1 1895.5,2126.0 1897.0,2120.7 1898.5,2104.9 1900.0,2132.3 1901.5,2119.7 1903.0,2123.3 1904.5,2128.4 1906.0,2120.4 1907.5,2124.5 1909.0,2131.9" fill="none" stroke="#ff0000" stroke-width="1.2" stroke-linejoin="round"/>
<g fill="none" stroke="#ff0000" stroke-width="1.25">
<circle cx="1057.0" cy="2044.9" r="3.2"/>
<circle cx="1058.5" cy="2045.8" r="3.2"/>
<circle cx="1060.0" cy="2052.6" r="3.2"/>
<circle cx="1061.5" cy="2058.5" r="3.2"/>
<circle cx="1063.0" cy="2060.6" r="3.2"/>
<circle cx="1064.5" cy="2054.7" r="3.2"/>
<circle cx="1066.0" cy="2043.6" r="3.2"/>
<circle cx="1067.5" cy="2039.8" r="3.2"/>
<circle cx="1069.0" cy="2050.7" r="3.2"/>
<circle cx="1070.5" cy="2052.0" r="3.2"/>
<circle cx="1072.0" cy="2040.1" r="3.2"/>
<circle cx="1073.5" cy="2049.4" r="3.2"/>
<circle cx="1075.0" cy="2051.4" r="3.2"/>
<circle cx="1076.5" cy="2056.8" r="3.2"/>
<circle cx="1078.0" cy="2040.1" r="3.2"/>
<circle cx="1079.5" cy="2051.9" r="3.2"/>
<circle cx="1081.0" cy="2037.4" r="3.2"/>
<circle cx="1082.5" cy="2042.7" r="3.2"/>
<circle cx="1084.0" cy="2044.9" r="3.2"/>
<circle cx="1085.5" cy="2057.1" r="3.2"/>
<circle cx="1087.0" cy="2071.1" r="3.2"/>
<circle cx="1088.5" cy="2046.3" r="3.2"/>
<circle cx="1090.0" cy="2048.0" r="3.2"/>
<circle cx="1091.5" cy="2051.9" r="3.2"/>
<circle cx="1093.0" cy="2032.8" r="3.2"/>
<circle cx="1094.5" cy="2049.5" r="3.2"/>
<circle cx="1096.0" cy="2033.1" r="3.2"/>
<circle cx="1097.5" cy="2055.5" r="3.2"/>
<circle cx="1099.0" cy="2053.3" r="3.2"/>
<circle cx="1100.5" cy="2044.8" r="3.2"/>
<circle cx="1102.0" cy="2033.3" r="3.2"/>
<circle cx="1103.5" cy="2051.8" r="3.2"/>
<circle cx="1105.0" cy="2039.1" r="3.2"/>
<circle cx="1106.5" cy="2036.5" r="3.2"/>
<circle cx="1108.0" cy="2038.8" r="3.2"/>
<circle cx="1109.5" cy="2019.2" r="3.2"/>
<circle cx="1111.0" cy="2035.1" r="3.2"/>
<circle cx="1112.5" cy="2038.6" r="3.2"/>
<circle cx="1114.0" cy="2051.1" r="3.2"/>
<circle cx="1115.5" cy="2030.2" r="3.2"/>
<circle cx="1117.0" cy="2020.8" r="3.2"/>
<circle cx="1118.5" cy="2033.1" r="3.2"/>
<circle cx="1120.0" cy="2029.3" r="3.2"/>
<circle cx="1121.5" cy="2027.7" r="3.2"/>
<circle cx="1123.0" cy="2023.2" r="3.2"/>
<circle cx="1124.5" cy="2034.9" r="3.2"/>
<circle cx="1126.0" cy="2038.7" r="3.2"/>
<circle cx="1127.5" cy="2032.6" r="3.2"/>
<circle cx="1129.0" cy="2037.7" r="3.2"/>
<circle cx="1130.5" cy="2042.1" r="3.2"/>
<circle cx="1132.0" cy="2045.1" r="3.2"/>
<circle cx="1133.5" cy="2034.8" r="3.2"/>
<circle cx="1135.0" cy="2031.7" r="3.2"/>
<circle cx="1136.5" cy="2030.2" r="3.2"/>
<circle cx="1138.0" cy="2033.5" r="3.2"/>
<circle cx="1139.5" cy="2037.5" r="3.2"/>
<circle cx="1141.0" cy="2040.2" r="3.2"/>
<circle cx="1142.5" cy="2028.9" r="3.2"/>
<circle cx="1144.0" cy="2033.3" r="3.2"/>
<circle cx="1145.5" cy="2024.1" r="3.2"/>
<circle cx="1147.0" cy="2042.4" r="3.2"/>
<circle cx="1148.5" cy="2029.5" r="3.2"/>
<circle cx="1150.0" cy="2036.0" r="3.2"/>
<circle cx="1151.5" cy="2027.9" r="3.2"/>
<circle cx="1153.0" cy="2032.0" r="3.2"/>
<circle cx="1154.5" cy="2029.5" r="3.2"/>
<circle cx="1156.0" cy="2049.3" r="3.2"/>
<circle cx="1157.5" cy="2039.1" r="3.2"/>
<circle cx="1159.0" cy="2035.5" r="3.2"/>
<circle cx="1160.5" cy="2029.8" r="3.2"/>
<circle cx="1162.0" cy="2033.0" r="3.2"/>
<circle cx="1163.5" cy="2042.8" r="3.2"/>
<circle cx="1165.0" cy="2051.7" r="3.2"/>
<circle cx="1166.5" cy="2026.9" r="3.2"/>
<circle cx="1168.0" cy="2030.8" r="3.2"/>
<circle cx="1169.5" cy="2036.3" r="3.2"/>
<circle cx="1171.0" cy="2032.0" r="3.2"/>
<circle cx="1172.5" cy="2022.9" r="3.2"/>
<circle cx="1174.0" cy="2035.4" r="3.2"/>
<circle cx="1175.5" cy="2040.3" r="3.2"/>
<circle cx="1177.0" cy="2020.6" r="3.2"/>
<circle cx="1178.5" cy="2033.8" r="3.2"/>
<circle cx="1180.0" cy="2038.7" r="3.2"/>
<circle cx="1181.5" cy="2037.7" r="3.2"/>
<circle cx="1183.0" cy="2025.9" r="3.2"/>
<circle cx="1184.5" cy="2048.0" r="3.2"/>
<circle cx="1186.0" cy="2035.1" r="3.2"/>
<circle cx="1187.5" cy="2025.9" r="3.2"/>
<circle cx="1189.0" cy="2042.6" r="3.2"/>
<circle cx="1190.5" cy="2028.7" r="3.2"/>
<circle cx="1192.0" cy="2048.2" r="3.2"/>
<circle cx="1193.5" cy="2034.5" r="3.2"/>
<circle cx="1195.0" cy="2054.6" r="3.2"/>
<circle cx="1196.5" cy="2047.1" r="3.2"/>
<circle cx="1198.0" cy="2063.9" r="3.2"/>
<circle cx="1199.5" cy="2063.5" r="3.2"/>
<circle cx="1201.0" cy="2063.7" r="3.2"/>
<circle cx="1202.5" cy="2063.1" r="3.2"/>
<circle cx="1204.0" cy="2073.6" r="3.2"/>
<circle cx="1205.5" cy="2052.5" r="3.2"/>
<circle cx="1207.0" cy="2072.1" r="3.2"/>
<circle cx="1208.5" cy="2073.4" r="3.2"/>
<circle cx="1210.0" cy="2075.8" r="3.2"/>
<circle cx="1211.5" cy="2062.3" r="3.2"/>
<circle cx="1213.0" cy="2102.6" r="3.2"/>
<circle cx="1214.5" cy="2074.6" r="3.2"/>
<circle cx="1216.0" cy="2080.6" r="3.2"/>
<circle cx="1217.5" cy="2062.0" r="3.2"/>
<circle cx="1219.0" cy="2087.8" r="3.2"/>
<circle cx="1220.5" cy="2059.7" r="3.2"/>
<circle cx="1222.0" cy="2090.1" r="3.2"/>
<circle cx="1223.5" cy="2071.7" r="3.2"/>
<circle cx="1225.0" cy="2059.7" r="3.2"/>
<circle cx="1226.5" cy="2069.9" r="3.2"/>
<circle cx="1228.0" cy="2077.7" r="3.2"/>
<circle cx="1229.5" cy="2081.1" r="3.2"/>
<circle cx="1231.0" cy="2079.6" r="3.2"/>
<circle cx="1232.5" cy="2086.7" r="3.2"/>
<circle cx="1234.0" cy="2079.9" r="3.2"/>
<circle cx="1235.5" cy="2079.7" r="3.2"/>
<circle cx="1237.0" cy="2062.9" r="3.2"/>
<circle cx="1238.5" cy="2083.8" r="3.2"/>
<circle cx="1240.0" cy="2087.9" r="3.2"/>
<circle cx="1241.5" cy="2076.5" r="3.2"/>
<circle cx="1243.0" cy="2065.0" r="3.2"/>
<circle cx="1244.5" cy="2069.6" r="3.2"/>
<circle cx="1246.0" cy="2094.2" r="3.2"/>
<circle cx="1247.5" cy="2076.5" r="3.2"/>
<circle cx="1249.0" cy="2076.6" r="3.2"/>
<circle cx="1250.5" cy="2075.9" r="3.2"/>
<circle cx="1252.0" cy="2088.3" r="3.2"/>
<circle cx="1253.5" cy="2078.4" r="3.2"/>
<circle cx="1255.0" cy="2076.3" r="3.2"/>
<circle cx="1256.5" cy="2071.1" r="3.2"/>
<circle cx="1258.0" cy="2082.1" r="3.2"/>
<circle cx="1259.5" cy="2090.6" r="3.2"/>
<circle cx="1261.0" cy="2081.2" r="3.2"/>
<circle cx="1262.5" cy="2089.2" r="3.2"/>
<circle cx="1264.0" cy="2083.5" r="3.2"/>
<circle cx="1265.5" cy="2083.4" r="3.2"/>
<circle cx="1267.0" cy="2084.0" r="3.2"/>
<circle cx="1268.5" cy="2083.4" r="3.2"/>
<circle cx="1270.0" cy="2092.0" r="3.2"/>
<circle cx="1271.5" cy="2088.3" r="3.2"/>
<circle cx="1273.0" cy="2067.1" r="3.2"/>
<circle cx="1274.5" cy="2086.7" r="3.2"/>
<circle cx="1276.0" cy="2085.5" r="3.2"/>
<circle cx="1277.5" cy="2090.2" r="3.2"/>
<circle cx="1279.0" cy="2087.7" r="3.2"/>
<circle cx="1280.5" cy="2089.5" r="3.2"/>
<circle cx="1282.0" cy="2074.2" r="3.2"/>
<circle cx="1283.5" cy="2071.6" r="3.2"/>
<circle cx="1285.0" cy="2095.8" r="3.2"/>
<circle cx="1286.5" cy="2074.2" r="3.2"/>
<circle cx="1288.0" cy="2097.5" r="3.2"/>
<circle cx="1289.5" cy="2087.0" r="3.2"/>
<circle cx="1291.0" cy="2082.8" r="3.2"/>
<circle cx="1292.5" cy="2070.0" r="3.2"/>
<circle cx="1294.0" cy="2093.2" r="3.2"/>
<circle cx="1295.5" cy="2076.9" r="3.2"/>
<circle cx="1297.0" cy="2080.7" r="3.2"/>
<circle cx="1298.5" cy="2089.2" r="3.2"/>
<circle cx="1300.0" cy="2076.7" r="3.2"/>
<circle cx="1301.5" cy="2077.0" r="3.2"/>
<circle cx="1303.0" cy="2075.3" r="3.2"/>
<circle cx="1304.5" cy="2082.9" r="3.2"/>
<circle cx="1306.0" cy="2087.4" r="3.2"/>
<circle cx="1307.5" cy="2084.5" r="3.2"/>
<circle cx="1309.0" cy="2082.8" r="3.2"/>
<circle cx="1310.5" cy="2074.9" r="3.2"/>
<circle cx="1312.0" cy="2076.8" r="3.2"/>
<circle cx="1313.5" cy="2068.1" r="3.2"/>
<circle cx="1315.0" cy="2087.6" r="3.2"/>
<circle cx="1316.5" cy="2053.6" r="3.2"/>
<circle cx="1318.0" cy="2052.3" r="3.2"/>
<circle cx="1319.5" cy="2057.8" r="3.2"/>
<circle cx="1321.0" cy="2077.6" r="3.2"/>
<circle cx="1322.5" cy="2052.3" r="3.2"/>
<circle cx="1324.0" cy="2058.2" r="3.2"/>
<circle cx="1325.5" cy="2063.3" r="3.2"/>
<circle cx="1327.0" cy="2049.5" r="3.2"/>
<circle cx="1328.5" cy="2064.9" r="3.2"/>
<circle cx="1330.0" cy="2067.9" r="3.2"/>
<circle cx="1331.5" cy="2045.8" r="3.2"/>
<circle cx="1333.0" cy="2059.4" r="3.2"/>
<circle cx="1334.5" cy="2041.3" r="3.2"/>
<circle cx="1336.0" cy="2038.7" r="3.2"/>
<circle cx="1337.5" cy="2047.2" r="3.2"/>
<circle cx="1339.0" cy="2046.0" r="3.2"/>
<circle cx="1340.5" cy="2038.5" r="3.2"/>
<circle cx="1342.0" cy="2049.4" r="3.2"/>
<circle cx="1343.5" cy="2030.5" r="3.2"/>
<circle cx="1345.0" cy="2035.1" r="3.2"/>
<circle cx="1346.5" cy="2033.1" r="3.2"/>
<circle cx="1348.0" cy="2047.5" r="3.2"/>
<circle cx="1349.5" cy="2047.4" r="3.2"/>
<circle cx="1351.0" cy="2045.8" r="3.2"/>
<circle cx="1352.5" cy="2029.4" r="3.2"/>
<circle cx="1354.0" cy="2039.9" r="3.2"/>
<circle cx="1355.5" cy="2041.5" r="3.2"/>
<circle cx="1357.0" cy="2023.7" r="3.2"/>
<circle cx="1358.5" cy="2028.6" r="3.2"/>
<circle cx="1360.0" cy="2038.7" r="3.2"/>
<circle cx="1361.5" cy="2037.3" r="3.2"/>
<circle cx="1363.0" cy="2031.6" r="3.2"/>
<circle cx="1364.5" cy="2031.7" r="3.2"/>
<circle cx="1366.0" cy="2027.5" r="3.2"/>
<circle cx="1367.5" cy="2023.5" r="3.2"/>
<circle cx="1369.0" cy="2018.7" r="3.2"/>
<circle cx="1370.5" cy="1991.5" r="3.2"/>
<circle cx="1372.0" cy="2011.8" r="3.2"/>
<circle cx="1373.5" cy="2007.5" r="3.2"/>
<circle cx="1375.0" cy="2026.1" r="3.2"/>
<circle cx="1376.5" cy="2006.5" r="3.2"/>
<circle cx="1378.0" cy="2001.1" r="3.2"/>
<circle cx="1379.5" cy="1996.1" r="3.2"/>
<circle cx="1381.0" cy="1993.7" r="3.2"/>
<circle cx="1382.5" cy="1988.8" r="3.2"/>
<circle cx="1384.0" cy="1991.3" r="3.2"/>
<circle cx="1385.5" cy="1982.8" r="3.2"/>
<circle cx="1387.0" cy="1985.6" r="3.2"/>
<circle cx="1388.5" cy="1969.8" r="3.2"/>
<circle cx="1390.0" cy="1974.9" r="3.2"/>
<circle cx="1391.5" cy="1976.3" r="3.2"/>
<circle cx="1393.0" cy="1957.9" r="3.2"/>
<circle cx="1394.5" cy="1967.2" r="3.2"/>
<circle cx="1396.0" cy="1967.3" r="3.2"/>
<circle cx="1397.5" cy="1963.1" r="3.2"/>
<circle cx="1399.0" cy="1962.7" r="3.2"/>
<circle cx="1400.5" cy="1952.7" r="3.2"/>
<circle cx="1402.0" cy="1977.9" r="3.2"/>
<circle cx="1403.5" cy="1962.4" r="3.2"/>
<circle cx="1405.0" cy="1961.1" r="3.2"/>
<circle cx="1406.5" cy="1977.5" r="3.2"/>
<circle cx="1408.0" cy="1958.7" r="3.2"/>
<circle cx="1409.5" cy="1982.3" r="3.2"/>
<circle cx="1411.0" cy="1979.3" r="3.2"/>
<circle cx="1412.5" cy="1982.0" r="3.2"/>
<circle cx="1414.0" cy="1977.4" r="3.2"/>
<circle cx="1415.5" cy="1970.7" r="3.2"/>
<circle cx="1417.0" cy="1967.4" r="3.2"/>
<circle cx="1418.5" cy="1996.4" r="3.2"/>
<circle cx="1420.0" cy="1983.3" r="3.2"/>
<circle cx="1421.5" cy="1985.3" r="3.2"/>
<circle cx="1423.0" cy="2004.3" r="3.2"/>
<circle cx="1424.5" cy="1988.5" r="3.2"/>
<circle cx="1426.0" cy="1993.3" r="3.2"/>
<circle cx="1427.5" cy="1994.8" r="3.2"/>
<circle cx="1429.0" cy="1996.9" r="3.2"/>
<circle cx="1430.5" cy="1990.9" r="3.2"/>
<circle cx="1432.0" cy="1996.6" r="3.2"/>
<circle cx="1433.5" cy="2014.9" r="3.2"/>
<circle cx="1435.0" cy="2015.8" r="3.2"/>
<circle cx="1436.5" cy="1992.0" r="3.2"/>
<circle cx="1438.0" cy="2006.8" r="3.2"/>
<circle cx="1439.5" cy="2031.8" r="3.2"/>
<circle cx="1441.0" cy="2034.2" r="3.2"/>
<circle cx="1442.5" cy="2036.9" r="3.2"/>
<circle cx="1444.0" cy="2052.4" r="3.2"/>
<circle cx="1445.5" cy="2034.0" r="3.2"/>
<circle cx="1447.0" cy="2061.8" r="3.2"/>
<circle cx="1448.5" cy="2056.8" r="3.2"/>
<circle cx="1450.0" cy="2063.3" r="3.2"/>
<circle cx="1451.5" cy="2063.5" r="3.2"/>
<circle cx="1453.0" cy="2070.4" r="3.2"/>
<circle cx="1454.5" cy="2063.3" r="3.2"/>
<circle cx="1456.0" cy="2062.1" r="3.2"/>
<circle cx="1457.5" cy="2073.4" r="3.2"/>
<circle cx="1459.0" cy="2068.6" r="3.2"/>
<circle cx="1460.5" cy="2057.0" r="3.2"/>
<circle cx="1462.0" cy="2077.7" r="3.2"/>
<circle cx="1463.5" cy="2076.4" r="3.2"/>
<circle cx="1465.0" cy="2078.0" r="3.2"/>
<circle cx="1466.5" cy="2067.0" r="3.2"/>
<circle cx="1468.0" cy="2068.9" r="3.2"/>
<circle cx="1469.5" cy="2062.9" r="3.2"/>
<circle cx="1471.0" cy="2058.2" r="3.2"/>
<circle cx="1472.5" cy="2066.5" r="3.2"/>
<circle cx="1474.0" cy="2067.7" r="3.2"/>
<circle cx="1475.5" cy="2061.4" r="3.2"/>
<circle cx="1477.0" cy="2081.9" r="3.2"/>
<circle cx="1478.5" cy="2055.1" r="3.2"/>
<circle cx="1480.0" cy="2062.2" r="3.2"/>
<circle cx="1481.5" cy="2064.0" r="3.2"/>
<circle cx="1483.0" cy="2080.2" r="3.2"/>
<circle cx="1484.5" cy="2067.9" r="3.2"/>
<circle cx="1486.0" cy="2067.1" r="3.2"/>
<circle cx="1487.5" cy="2061.9" r="3.2"/>
<circle cx="1489.0" cy="2061.9" r="3.2"/>
<circle cx="1490.5" cy="2056.3" r="3.2"/>
<circle cx="1492.0" cy="2073.3" r="3.2"/>
<circle cx="1493.5" cy="2068.5" r="3.2"/>
<circle cx="1495.0" cy="2070.1" r="3.2"/>
<circle cx="1496.5" cy="2055.6" r="3.2"/>
<circle cx="1498.0" cy="2080.1" r="3.2"/>
<circle cx="1499.5" cy="2051.5" r="3.2"/>
<circle cx="1501.0" cy="2042.6" r="3.2"/>
<circle cx="1502.5" cy="2056.6" r="3.2"/>
<circle cx="1504.0" cy="2060.2" r="3.2"/>
<circle cx="1505.5" cy="2065.5" r="3.2"/>
<circle cx="1507.0" cy="2051.8" r="3.2"/>
<circle cx="1508.5" cy="2065.2" r="3.2"/>
<circle cx="1510.0" cy="2074.7" r="3.2"/>
<circle cx="1511.5" cy="2054.8" r="3.2"/>
<circle cx="1513.0" cy="2056.2" r="3.2"/>
<circle cx="1514.5" cy="2049.0" r="3.2"/>
<circle cx="1516.0" cy="2065.0" r="3.2"/>
<circle cx="1517.5" cy="2070.3" r="3.2"/>
<circle cx="1519.0" cy="2069.8" r="3.2"/>
<circle cx="1520.5" cy="2070.3" r="3.2"/>
<circle cx="1522.0" cy="2074.8" r="3.2"/>
<circle cx="1523.5" cy="2064.1" r="3.2"/>
<circle cx="1525.0" cy="2070.3" r="3.2"/>
<circle cx="1526.5" cy="2054.6" r="3.2"/>
<circle cx="1528.0" cy="2055.5" r="3.2"/>
<circle cx="1529.5" cy="2063.5" r="3.2"/>
<circle cx="1531.0" cy="2054.9" r="3.2"/>
<circle cx="1532.5" cy="2066.1" r="3.2"/>
<circle cx="1534.0" cy="2072.8" r="3.2"/>
<circle cx="1535.5" cy="2065.3" r="3.2"/>
<circle cx="1537.0" cy="2056.5" r="3.2"/>
<circle cx="1538.5" cy="2056.7" r="3.2"/>
<circle cx="1540.0" cy="2073.8" r="3.2"/>
<circle cx="1541.5" cy="2056.5" r="3.2"/>
<circle cx="1543.0" cy="2063.6" r="3.2"/>
<circle cx="1544.5" cy="2060.6" r="3.2"/>
<circle cx="1546.0" cy="2062.7" r="3.2"/>
<circle cx="1547.5" cy="2070.6" r="3.2"/>
<circle cx="1549.0" cy="2056.9" r="3.2"/>
<circle cx="1550.5" cy="2049.1" r="3.2"/>
<circle cx="1552.0" cy="2071.0" r="3.2"/>
<circle cx="1553.5" cy="2060.0" r="3.2"/>
<circle cx="1555.0" cy="2062.6" r="3.2"/>
<circle cx="1556.5" cy="2054.6" r="3.2"/>
<circle cx="1558.0" cy="2055.0" r="3.2"/>
<circle cx="1559.5" cy="2049.4" r="3.2"/>
<circle cx="1561.0" cy="2038.0" r="3.2"/>
<circle cx="1562.5" cy="2011.0" r="3.2"/>
<circle cx="1564.0" cy="1995.7" r="3.2"/>
<circle cx="1565.5" cy="1999.1" r="3.2"/>
<circle cx="1567.0" cy="1972.0" r="3.2"/>
<circle cx="1568.5" cy="1961.8" r="3.2"/>
<circle cx="1570.0" cy="1937.9" r="3.2"/>
<circle cx="1571.5" cy="1910.6" r="3.2"/>
<circle cx="1573.0" cy="1917.9" r="3.2"/>
<circle cx="1574.5" cy="1905.1" r="3.2"/>
<circle cx="1576.0" cy="1888.1" r="3.2"/>
<circle cx="1577.5" cy="1879.9" r="3.2"/>
<circle cx="1579.0" cy="1856.6" r="3.2"/>
<circle cx="1580.5" cy="1827.4" r="3.2"/>
<circle cx="1582.0" cy="1817.0" r="3.2"/>
<circle cx="1583.5" cy="1786.3" r="3.2"/>
<circle cx="1585.0" cy="1775.3" r="3.2"/>
<circle cx="1586.5" cy="1747.3" r="3.2"/>
<circle cx="1588.0" cy="1732.3" r="3.2"/>
<circle cx="1589.5" cy="1718.3" r="3.2"/>
<circle cx="1591.0" cy="1708.5" r="3.2"/>
<circle cx="1592.5" cy="1688.2" r="3.2"/>
<circle cx="1594.0" cy="1693.5" r="3.2"/>
<circle cx="1595.5" cy="1669.0" r="3.2"/>
<circle cx="1597.0" cy="1686.8" r="3.2"/>
<circle cx="1598.5" cy="1688.2" r="3.2"/>
<circle cx="1600.0" cy="1674.0" r="3.2"/>
<circle cx="1601.5" cy="1684.9" r="3.2"/>
<circle cx="1603.0" cy="1680.3" r="3.2"/>
<circle cx="1604.5" cy="1692.4" r="3.2"/>
<circle cx="1606.0" cy="1715.1" r="3.2"/>
<circle cx="1607.5" cy="1696.7" r="3.2"/>
<circle cx="1609.0" cy="1724.6" r="3.2"/>
<circle cx="1610.5" cy="1710.5" r="3.2"/>
<circle cx="1612.0" cy="1749.9" r="3.2"/>
<circle cx="1613.5" cy="1773.7" r="3.2"/>
<circle cx="1615.0" cy="1811.3" r="3.2"/>
<circle cx="1616.5" cy="1836.3" r="3.2"/>
<circle cx="1618.0" cy="1851.0" r="3.2"/>
<circle cx="1619.5" cy="1876.2" r="3.2"/>
<circle cx="1621.0" cy="1891.2" r="3.2"/>
<circle cx="1622.5" cy="1896.8" r="3.2"/>
<circle cx="1624.0" cy="1901.3" r="3.2"/>
<circle cx="1625.5" cy="1912.9" r="3.2"/>
<circle cx="1627.0" cy="1912.4" r="3.2"/>
<circle cx="1628.5" cy="1936.9" r="3.2"/>
<circle cx="1630.0" cy="1948.5" r="3.2"/>
<circle cx="1631.5" cy="1942.2" r="3.2"/>
<circle cx="1633.0" cy="1959.6" r="3.2"/>
<circle cx="1634.5" cy="1977.5" r="3.2"/>
<circle cx="1636.0" cy="1974.3" r="3.2"/>
<circle cx="1637.5" cy="2005.9" r="3.2"/>
<circle cx="1639.0" cy="2011.6" r="3.2"/>
<circle cx="1640.5" cy="2006.9" r="3.2"/>
<circle cx="1642.0" cy="2026.3" r="3.2"/>
<circle cx="1643.5" cy="2041.7" r="3.2"/>
<circle cx="1645.0" cy="2028.5" r="3.2"/>
<circle cx="1646.5" cy="2053.2" r="3.2"/>
<circle cx="1648.0" cy="2055.9" r="3.2"/>
<circle cx="1649.5" cy="2062.9" r="3.2"/>
<circle cx="1651.0" cy="2075.9" r="3.2"/>
<circle cx="1652.5" cy="2069.8" r="3.2"/>
<circle cx="1654.0" cy="2064.8" r="3.2"/>
<circle cx="1655.5" cy="2066.6" r="3.2"/>
<circle cx="1657.0" cy="2079.6" r="3.2"/>
<circle cx="1658.5" cy="2086.2" r="3.2"/>
<circle cx="1660.0" cy="2082.1" r="3.2"/>
<circle cx="1661.5" cy="2082.0" r="3.2"/>
<circle cx="1663.0" cy="2083.7" r="3.2"/>
<circle cx="1664.5" cy="2094.8" r="3.2"/>
<circle cx="1666.0" cy="2089.2" r="3.2"/>
<circle cx="1667.5" cy="2079.4" r="3.2"/>
<circle cx="1669.0" cy="2083.5" r="3.2"/>
<circle cx="1670.5" cy="2095.9" r="3.2"/>
<circle cx="1672.0" cy="2082.0" r="3.2"/>
<circle cx="1673.5" cy="2083.8" r="3.2"/>
<circle cx="1675.0" cy="2087.1" r="3.2"/>
<circle cx="1676.5" cy="2079.1" r="3.2"/>
<circle cx="1678.0" cy="2094.9" r="3.2"/>
<circle cx="1679.5" cy="2070.2" r="3.2"/>
<circle cx="1681.0" cy="2099.1" r="3.2"/>
<circle cx="1682.5" cy="2083.5" r="3.2"/>
<circle cx="1684.0" cy="2076.4" r="3.2"/>
<circle cx="1685.5" cy="2088.2" r="3.2"/>
<circle cx="1687.0" cy="2071.7" r="3.2"/>
<circle cx="1688.5" cy="2089.3" r="3.2"/>
<circle cx="1690.0" cy="2091.1" r="3.2"/>
<circle cx="1691.5" cy="2080.6" r="3.2"/>
<circle cx="1693.0" cy="2082.6" r="3.2"/>
<circle cx="1694.5" cy="2094.2" r="3.2"/>
<circle cx="1696.0" cy="2082.4" r="3.2"/>
<circle cx="1697.5" cy="2089.3" r="3.2"/>
<circle cx="1699.0" cy="2093.3" r="3.2"/>
<circle cx="1700.5" cy="2104.4" r="3.2"/>
<circle cx="1702.0" cy="2089.2" r="3.2"/>
<circle cx="1703.5" cy="2094.8" r="3.2"/>
<circle cx="1705.0" cy="2104.9" r="3.2"/>
<circle cx="1706.5" cy="2076.7" r="3.2"/>
<circle cx="1708.0" cy="2096.4" r="3.2"/>
<circle cx="1709.5" cy="2084.8" r="3.2"/>
<circle cx="1711.0" cy="2086.9" r="3.2"/>
<circle cx="1712.5" cy="2118.9" r="3.2"/>
<circle cx="1714.0" cy="2106.6" r="3.2"/>
<circle cx="1715.5" cy="2118.3" r="3.2"/>
<circle cx="1717.0" cy="2105.9" r="3.2"/>
<circle cx="1718.5" cy="2113.4" r="3.2"/>
<circle cx="1720.0" cy="2106.7" r="3.2"/>
<circle cx="1721.5" cy="2106.6" r="3.2"/>
<circle cx="1723.0" cy="2111.0" r="3.2"/>
<circle cx="1724.5" cy="2113.2" r="3.2"/>
<circle cx="1726.0" cy="2124.9" r="3.2"/>
<circle cx="1727.5" cy="2111.5" r="3.2"/>
<circle cx="1729.0" cy="2116.4" r="3.2"/>
<circle cx="1730.5" cy="2111.6" r="3.2"/>
<circle cx="1732.0" cy="2115.0" r="3.2"/>
<circle cx="1733.5" cy="2103.4" r="3.2"/>
<circle cx="1735.0" cy="2122.6" r="3.2"/>
<circle cx="1736.5" cy="2109.6" r="3.2"/>
<circle cx="1738.0" cy="2113.8" r="3.2"/>
<circle cx="1739.5" cy="2111.5" r="3.2"/>
<circle cx="1741.0" cy="2120.9" r="3.2"/>
<circle cx="1742.5" cy="2117.0" r="3.2"/>
<circle cx="1744.0" cy="2112.8" r="3.2"/>
<circle cx="1745.5" cy="2114.2" r="3.2"/>
<circle cx="1747.0" cy="2115.8" r="3.2"/>
<circle cx="1748.5" cy="2119.5" r="3.2"/>
<circle cx="1750.0" cy="2117.9" r="3.2"/>
<circle cx="1751.5" cy="2124.5" r="3.2"/>
<circle cx="1753.0" cy="2127.5" r="3.2"/>
<circle cx="1754.5" cy="2119.8" r="3.2"/>
<circle cx="1756.0" cy="2104.5" r="3.2"/>
<circle cx="1757.5" cy="2129.2" r="3.2"/>
<circle cx="1759.0" cy="2132.4" r="3.2"/>
<circle cx="1760.5" cy="2112.4" r="3.2"/>
<circle cx="1762.0" cy="2112.0" r="3.2"/>
<circle cx="1763.5" cy="2099.0" r="3.2"/>
<circle cx="1765.0" cy="2121.9" r="3.2"/>
<circle cx="1766.5" cy="2107.9" r="3.2"/>
<circle cx="1768.0" cy="2131.1" r="3.2"/>
<circle cx="1769.5" cy="2097.2" r="3.2"/>
<circle cx="1771.0" cy="2118.2" r="3.2"/>
<circle cx="1772.5" cy="2123.7" r="3.2"/>
<circle cx="1774.0" cy="2115.8" r="3.2"/>
<circle cx="1775.5" cy="2113.3" r="3.2"/>
<circle cx="1777.0" cy="2122.4" r="3.2"/>
<circle cx="1778.5" cy="2116.9" r="3.2"/>
<circle cx="1780.0" cy="2119.0" r="3.2"/>
<circle cx="1781.5" cy="2122.1" r="3.2"/>
<circle cx="1783.0" cy="2118.5" r="3.2"/>
<circle cx="1784.5" cy="2121.7" r="3.2"/>
<circle cx="1786.0" cy="2130.4" r="3.2"/>
<circle cx="1787.5" cy="2121.5" r="3.2"/>
<circle cx="1789.0" cy="2126.4" r="3.2"/>
<circle cx="1790.5" cy="2119.4" r="3.2"/>
<circle cx="1792.0" cy="2133.1" r="3.2"/>
<circle cx="1793.5" cy="2115.7" r="3.2"/>
<circle cx="1795.0" cy="2133.9" r="3.2"/>
<circle cx="1796.5" cy="2102.1" r="3.2"/>
<circle cx="1798.0" cy="2119.1" r="3.2"/>
<circle cx="1799.5" cy="2113.7" r="3.2"/>
<circle cx="1801.0" cy="2134.4" r="3.2"/>
<circle cx="1802.5" cy="2128.3" r="3.2"/>
<circle cx="1804.0" cy="2115.6" r="3.2"/>
<circle cx="1805.5" cy="2121.3" r="3.2"/>
<circle cx="1807.0" cy="2136.5" r="3.2"/>
<circle cx="1808.5" cy="2125.1" r="3.2"/>
<circle cx="1810.0" cy="2129.8" r="3.2"/>
<circle cx="1811.5" cy="2112.9" r="3.2"/>
<circle cx="1813.0" cy="2112.6" r="3.2"/>
<circle cx="1814.5" cy="2128.8" r="3.2"/>
<circle cx="1816.0" cy="2142.3" r="3.2"/>
<circle cx="1817.5" cy="2119.1" r="3.2"/>
<circle cx="1819.0" cy="2127.7" r="3.2"/>
<circle cx="1820.5" cy="2115.0" r="3.2"/>
<circle cx="1822.0" cy="2132.1" r="3.2"/>
<circle cx="1823.5" cy="2118.1" r="3.2"/>
<circle cx="1825.0" cy="2117.9" r="3.2"/>
<circle cx="1826.5" cy="2105.9" r="3.2"/>
<circle cx="1828.0" cy="2117.3" r="3.2"/>
<circle cx="1829.5" cy="2121.8" r="3.2"/>
<circle cx="1831.0" cy="2131.0" r="3.2"/>
<circle cx="1832.5" cy="2110.3" r="3.2"/>
<circle cx="1834.0" cy="2127.4" r="3.2"/>
<circle cx="1835.5" cy="2116.7" r="3.2"/>
<circle cx="1837.0" cy="2117.3" r="3.2"/>
<circle cx="1838.5" cy="2112.3" r="3.2"/>
<circle cx="1840.0" cy="2106.8" r="3.2"/>
<circle cx="1841.5" cy="2111.5" r="3.2"/>
<circle cx="1843.0" cy="2135.1" r="3.2"/>
<circle cx="1844.5" cy="2113.6" r="3.2"/>
<circle cx="1846.0" cy="2120.8" r="3.2"/>
<circle cx="1847.5" cy="2134.2" r="3.2"/>
<circle cx="1849.0" cy="2109.5" r="3.2"/>
<circle cx="1850.5" cy="2130.8" r="3.2"/>
<circle cx="1852.0" cy="2124.0" r="3.2"/>
<circle cx="1853.5" cy="2130.3" r="3.2"/>
<circle cx="1855.0" cy="2136.3" r="3.2"/>
<circle cx="1856.5" cy="2128.6" r="3.2"/>
<circle cx="1858.0" cy="2128.6" r="3.2"/>
<circle cx="1859.5" cy="2136.1" r="3.2"/>
<circle cx="1861.0" cy="2135.4" r="3.2"/>
<circle cx="1862.5" cy="2124.4" r="3.2"/>
<circle cx="1864.0" cy="2128.4" r="3.2"/>
<circle cx="1865.5" cy="2118.7" r="3.2"/>
<circle cx="1867.0" cy="2139.1" r="3.2"/>
<circle cx="1868.5" cy="2118.3" r="3.2"/>
<circle cx="1870.0" cy="2128.4" r="3.2"/>
<circle cx="1871.5" cy="2139.7" r="3.2"/>
<circle cx="1873.0" cy="2130.8" r="3.2"/>
<circle cx="1874.5" cy="2120.6" r="3.2"/>
<circle cx="1876.0" cy="2115.6" r="3.2"/>
<circle cx="1877.5" cy="2115.0" r="3.2"/>
<circle cx="1879.0" cy="2125.9" r="3.2"/>
<circle cx="1880.5" cy="2120.1" r="3.2"/>
<circle cx="1882.0" cy="2116.5" r="3.2"/>
<circle cx="1883.5" cy="2136.7" r="3.2"/>
<circle cx="1885.0" cy="2094.7" r="3.2"/>
<circle cx="1886.5" cy="2111.8" r="3.2"/>
<circle cx="1888.0" cy="2113.1" r="3.2"/>
<circle cx="1889.5" cy="2118.5" r="3.2"/>
<circle cx="1891.0" cy="2120.2" r="3.2"/>
<circle cx="1892.5" cy="2116.7" r="3.2"/>
<circle cx="1894.0" cy="2126.1" r="3.2"/>
<circle cx="1895.5" cy="2126.0" r="3.2"/>
<circle cx="1897.0" cy="2120.7" r="3.2"/>
<circle cx="1898.5" cy="2104.9" r="3.2"/>
<circle cx="1900.0" cy="2132.3" r="3.2"/>
<circle cx="1901.5" cy="2119.7" r="3.2"/>
<circle cx="1903.0" cy="2123.3" r="3.2"/>
<circle cx="1904.5" cy="2128.4" r="3.2"/>
<circle cx="1906.0" cy="2120.4" r="3.2"/>
<circle cx="1907.5" cy="2124.5" r="3.2"/>
<circle cx="1909.0" cy="2131.9" r="3.2"/>
</g>
</svg></body></html>
